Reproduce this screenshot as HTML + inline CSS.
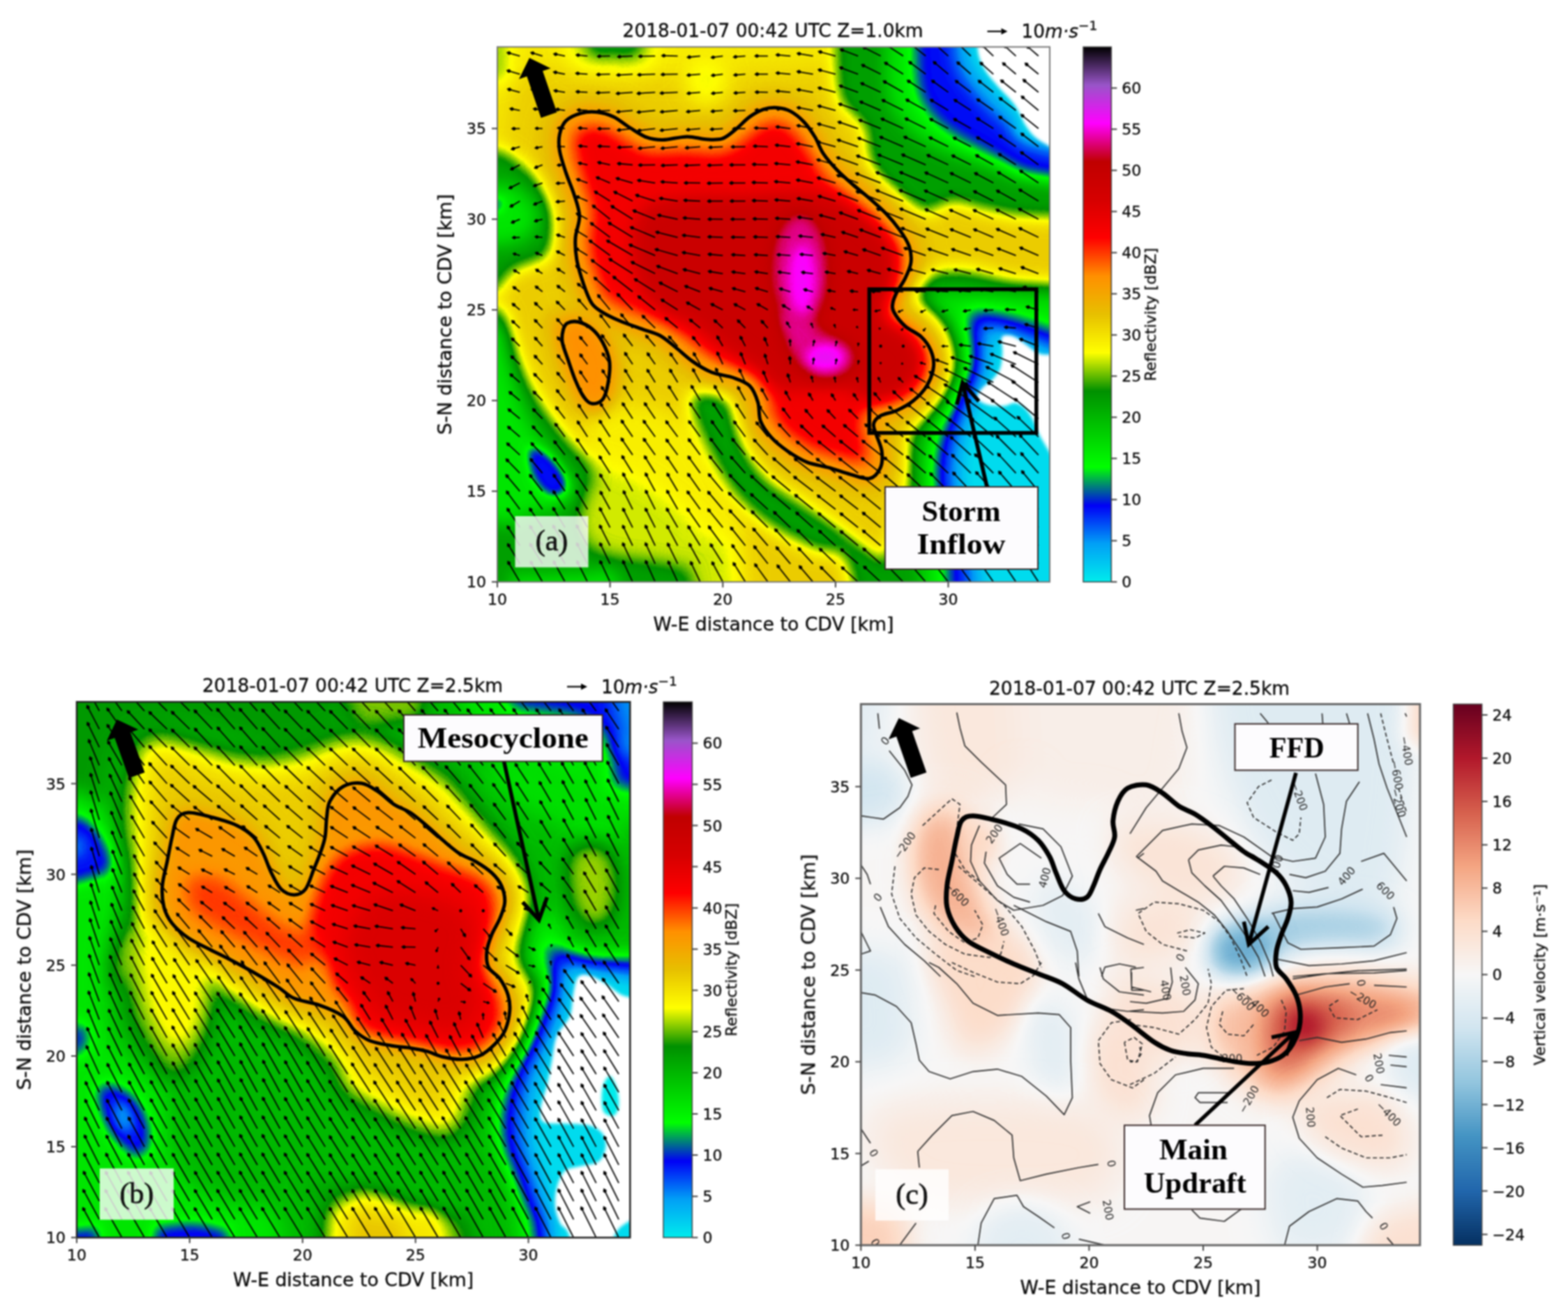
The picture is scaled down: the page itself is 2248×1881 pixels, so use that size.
<!DOCTYPE html>
<html lang="en"><head><meta charset="utf-8"><title>Figure</title>
<style>html,body{margin:0;padding:0;background:#fff}svg{display:block}text{font-family:"DejaVu Sans","Liberation Sans",sans-serif;fill:#0c0c0c;stroke:#0c0c0c;stroke-width:0.35px}.t{font-size:22px}.l{font-size:26.4px}.s{font-family:"Liberation Serif","DejaVu Serif",serif;font-weight:bold;fill:#000;stroke:none}</style></head><body>
<svg width="2248" height="1881" viewBox="0 0 2248 1881">
<defs>
<filter id="nws" color-interpolation-filters="sRGB" x="0" y="0" width="100%" height="100%"><feComponentTransfer><feFuncR type="table" tableValues="0.0000 0.0039 0.0000 0.0000 0.0000 0.0000 1.0000 0.9059 1.0000 1.0000 0.8392 0.7529 1.0000 0.6000 0.0000"/><feFuncG type="table" tableValues="0.9255 0.6275 0.0000 1.0000 0.7843 0.5647 1.0000 0.7529 0.5647 0.0000 0.0000 0.0000 0.0000 0.3333 0.0000"/><feFuncB type="table" tableValues="0.9255 0.9647 0.9647 0.0000 0.0000 0.0000 0.0000 0.0000 0.0000 0.0000 0.0000 0.0000 1.0000 0.7882 0.0000"/></feComponentTransfer></filter>
<filter id="rdbu" color-interpolation-filters="sRGB" x="0" y="0" width="100%" height="100%"><feComponentTransfer><feFuncR type="table" tableValues="0.0196 0.1294 0.2627 0.5725 0.8196 0.9686 0.9922 0.9569 0.8392 0.6980 0.4039"/><feFuncG type="table" tableValues="0.1882 0.4000 0.5765 0.7725 0.8980 0.9686 0.8588 0.6471 0.3765 0.0941 0.0000"/><feFuncB type="table" tableValues="0.3804 0.6745 0.7647 0.8706 0.9412 0.9686 0.7804 0.5098 0.3020 0.1686 0.1216"/></feComponentTransfer></filter>
<linearGradient id="gnws" x1="0" y1="1" x2="0" y2="0"><stop offset="0.0000" stop-color="rgb(0,236,236)"/><stop offset="0.0714" stop-color="rgb(1,160,246)"/><stop offset="0.1429" stop-color="rgb(0,0,246)"/><stop offset="0.2143" stop-color="rgb(0,255,0)"/><stop offset="0.2857" stop-color="rgb(0,200,0)"/><stop offset="0.3571" stop-color="rgb(0,144,0)"/><stop offset="0.4286" stop-color="rgb(255,255,0)"/><stop offset="0.5000" stop-color="rgb(231,192,0)"/><stop offset="0.5714" stop-color="rgb(255,144,0)"/><stop offset="0.6429" stop-color="rgb(255,0,0)"/><stop offset="0.7143" stop-color="rgb(214,0,0)"/><stop offset="0.7857" stop-color="rgb(192,0,0)"/><stop offset="0.8571" stop-color="rgb(255,0,255)"/><stop offset="0.9286" stop-color="rgb(153,85,201)"/><stop offset="1.0000" stop-color="rgb(0,0,0)"/></linearGradient>
<linearGradient id="grdbu" x1="0" y1="1" x2="0" y2="0"><stop offset="0.0000" stop-color="rgb(5,48,97)"/><stop offset="0.1000" stop-color="rgb(33,102,172)"/><stop offset="0.2000" stop-color="rgb(67,147,195)"/><stop offset="0.3000" stop-color="rgb(146,197,222)"/><stop offset="0.4000" stop-color="rgb(209,229,240)"/><stop offset="0.5000" stop-color="rgb(247,247,247)"/><stop offset="0.6000" stop-color="rgb(253,219,199)"/><stop offset="0.7000" stop-color="rgb(244,165,130)"/><stop offset="0.8000" stop-color="rgb(214,96,77)"/><stop offset="0.9000" stop-color="rgb(178,24,43)"/><stop offset="1.0000" stop-color="rgb(103,0,31)"/></linearGradient>
<clipPath id="clipA"><rect x="713" y="67.3" width="792" height="767"/></clipPath>
<clipPath id="clipB"><rect x="110" y="1006.3" width="793.3" height="768"/></clipPath>
<clipPath id="clipC"><rect x="1234.3" y="1009.5" width="801.5" height="775.7"/></clipPath>
<filter id="b2" color-interpolation-filters="sRGB" x="-100%" y="-100%" width="300%" height="300%"><feGaussianBlur stdDeviation="2"/></filter><filter id="b6" color-interpolation-filters="sRGB" x="-100%" y="-100%" width="300%" height="300%"><feGaussianBlur stdDeviation="6"/></filter><filter id="b7" color-interpolation-filters="sRGB" x="-100%" y="-100%" width="300%" height="300%"><feGaussianBlur stdDeviation="7"/></filter><filter id="b8" color-interpolation-filters="sRGB" x="-100%" y="-100%" width="300%" height="300%"><feGaussianBlur stdDeviation="8"/></filter><filter id="b9" color-interpolation-filters="sRGB" x="-100%" y="-100%" width="300%" height="300%"><feGaussianBlur stdDeviation="9"/></filter><filter id="b10" color-interpolation-filters="sRGB" x="-100%" y="-100%" width="300%" height="300%"><feGaussianBlur stdDeviation="10"/></filter><filter id="b11" color-interpolation-filters="sRGB" x="-100%" y="-100%" width="300%" height="300%"><feGaussianBlur stdDeviation="11"/></filter><filter id="b12" color-interpolation-filters="sRGB" x="-100%" y="-100%" width="300%" height="300%"><feGaussianBlur stdDeviation="12"/></filter><filter id="b13" color-interpolation-filters="sRGB" x="-100%" y="-100%" width="300%" height="300%"><feGaussianBlur stdDeviation="13"/></filter><filter id="b14" color-interpolation-filters="sRGB" x="-100%" y="-100%" width="300%" height="300%"><feGaussianBlur stdDeviation="14"/></filter><filter id="b16" color-interpolation-filters="sRGB" x="-100%" y="-100%" width="300%" height="300%"><feGaussianBlur stdDeviation="16"/></filter><filter id="b18" color-interpolation-filters="sRGB" x="-100%" y="-100%" width="300%" height="300%"><feGaussianBlur stdDeviation="18"/></filter><filter id="b20" color-interpolation-filters="sRGB" x="-100%" y="-100%" width="300%" height="300%"><feGaussianBlur stdDeviation="20"/></filter><filter id="b22" color-interpolation-filters="sRGB" x="-100%" y="-100%" width="300%" height="300%"><feGaussianBlur stdDeviation="22"/></filter><filter id="b25" color-interpolation-filters="sRGB" x="-100%" y="-100%" width="300%" height="300%"><feGaussianBlur stdDeviation="25"/></filter>
<filter id="soft" x="0" y="0" width="100%" height="100%" filterUnits="userSpaceOnUse" color-interpolation-filters="sRGB"><feGaussianBlur stdDeviation="1"/></filter>
</defs>
<rect width="2248" height="1881" fill="#fff"/>
<g filter="url(#soft)">
<g clip-path="url(#clipA)">
<g filter="url(#nws)">
<rect x="653" y="7.3" width="912" height="887" fill="#7c7c7c"/>
<g filter="url(#b16)">
<path fill="#747474" d="M630 -20L1216.7 -20C1216.7 -20 1205.8 58.6 1198 78C1190.2 97.4 1194.7 92.4 1170 96.7C1145.3 100.9 1089.5 102.1 1050 103.7C1010.6 105.2 972.2 107.2 933.4 106C894.5 104.8 847.8 96.3 816.7 96.7C785.6 97.1 761.4 96.7 746.7 108.3C731.9 120 733.8 149.2 728 166.7C722.2 184.2 728 205.6 711.7 213.3C695.3 221.1 630 213.3 630 213.3L630 -20Z"/>
</g>
<g filter="url(#b12)">
<path fill="#565656" d="M1196.8 -113.3L1196.8 36C1196.8 36 1195.9 100.2 1198 120C1200.1 139.8 1203.1 144.9 1209.7 155C1216.3 165.1 1232.2 171 1237.7 180.7C1243.1 190.4 1240.4 202.8 1242.3 213.3C1244.3 223.8 1243.5 233.6 1249.3 243.7C1255.2 253.8 1267.2 265.1 1277.3 274C1287.5 283 1300.7 292.1 1310 297.4C1319.4 302.6 1324.4 306.7 1333.4 305.5C1342.3 304.4 1352 291.3 1363.7 290.4C1375.4 289.4 1390.9 297 1403.4 299.7C1415.8 302.4 1426.7 304.7 1438.4 306.7C1450 308.6 1428.6 309 1473.4 311.4C1518.1 313.7 1706.7 320.7 1706.7 320.7L1706.7 -113.3L1196.8 -113.3Z"/>
<path fill="#3f3f3f" d="M1270.3 -113.3L1270.3 36C1270.3 36 1269.2 109.1 1272.7 131.7C1276.2 154.2 1282.8 159.7 1291.3 171.3C1299.9 183 1311.2 193.1 1324 201.7C1336.9 210.2 1351.2 216.1 1368.4 222.7C1385.5 229.3 1409.2 235.9 1426.7 241.3C1444.2 246.8 1426.7 248.3 1473.4 255.4C1520 262.4 1706.7 283.4 1706.7 283.4L1706.7 -113.3L1270.3 -113.3Z"/>
<path fill="#232323" d="M1310 -113.3L1310 36C1310 36 1310.8 100.2 1313.5 120C1316.2 139.8 1319.5 144.1 1326.4 155C1333.2 165.9 1341.9 175.6 1354.4 185.3C1366.8 195.1 1385.9 204.8 1401 213.3C1416.2 221.9 1431 229.7 1445.4 236.7C1459.8 243.7 1443.8 247.6 1487.4 255.4C1530.9 263.1 1706.7 283.4 1706.7 283.4L1706.7 -113.3L1310 -113.3Z"/>
<path fill="#101010" d="M1366 -113.3L1366 36C1366 36 1366.4 78.8 1373 96.7C1379.6 114.6 1393.2 129 1405.7 143.3C1418.1 157.7 1434.5 171.3 1447.7 183C1460.9 194.7 1441.9 200.5 1485 213.3C1528.2 226.2 1706.7 260 1706.7 260L1706.7 -113.3L1366 -113.3Z"/>
</g>
<g filter="url(#b8)">
<path fill="#040404" d="M1389.4 -113.3L1389.4 36C1389.4 36 1388.6 69.8 1394 85C1399.5 100.2 1411.5 113.4 1422 127C1432.5 140.6 1446.9 154.6 1457 166.7C1467.1 178.7 1441.1 186.1 1482.7 199.3C1524.3 212.6 1706.7 246 1706.7 246L1706.7 -113.3L1389.4 -113.3Z"/>
</g>
<g filter="url(#b12)">
<path fill="#565656" d="M1310 407C1314.7 400 1321.7 394.2 1333.4 390.7C1345 387.2 1364.5 385.2 1380 386C1395.6 386.8 1411.1 392.6 1426.7 395.4C1442.3 398.1 1426.7 399.3 1473.4 402.4C1520 405.5 1706.7 414 1706.7 414L1706.7 1046.7L1261 1046.7C1261 1046.7 1261.4 879.5 1263.3 836.7C1265.3 793.9 1268.8 805.6 1272.7 790C1276.6 774.5 1282.4 757 1286.7 743.4C1291 729.7 1296 720 1298.3 708.4C1300.7 696.7 1300.3 685 1300.7 673.4C1301.1 661.7 1299.1 649.2 1300.7 638.3C1302.2 627.5 1305.4 617 1310 608C1314.7 599.1 1322.9 592.5 1328.7 584.7C1334.5 576.9 1340.4 569.1 1345 561.3C1349.7 553.6 1354.2 546.6 1356.7 538C1359.2 529.5 1361 520.5 1360.2 510C1359.4 499.5 1356.5 485.1 1352 475C1347.5 464.9 1341.1 456.4 1333.4 449.3C1325.6 442.3 1309.2 439.7 1305.4 432.7C1301.5 425.6 1305.4 414 1310 407Z"/>
<path fill="#3f3f3f" d="M1333.4 426C1338 421.3 1317.8 417.4 1380 419C1442.3 420.6 1706.7 435.3 1706.7 435.3L1706.7 1046.7L1324 1046.7C1324 1046.7 1321.7 887.3 1321.7 836.7C1321.7 786.1 1324 770.6 1324 743.4C1324 716.1 1321.7 690.9 1321.7 673.4C1321.7 655.9 1322.1 648.5 1324 638.3C1326 628.2 1328.7 621.6 1333.4 612.7C1338 603.7 1346.2 594 1352 584.7C1357.9 575.3 1364.1 566 1368.4 556.7C1372.6 547.3 1376.1 538.4 1377.7 528.7C1379.2 519 1379.2 508.5 1377.7 498.3C1376.1 488.2 1372.6 476.6 1368.4 468C1364.1 459.4 1357.9 454 1352 447C1346.2 440 1328.7 430.7 1333.4 426Z"/>
<path fill="#232323" d="M1391.7 444.7C1402.2 441.9 1428.6 446.6 1450 451.7C1471.4 456.7 1520 475 1520 475L1706.7 510L1706.7 1046.7L1356.7 1046.7C1356.7 1046.7 1357.1 879.5 1356.7 836.7C1356.3 793.9 1355.9 805.6 1354.4 790C1352.8 774.5 1349.7 758.9 1347.4 743.4C1345 727.8 1341.5 710.3 1340.4 696.7C1339.2 683.1 1339.2 673.4 1340.4 661.7C1341.5 650 1343.9 638.3 1347.4 626.7C1350.9 615 1356.7 602.6 1361.4 591.7C1366 580.8 1370.7 571.1 1375.4 561.3C1380 551.6 1386.6 543.8 1389.4 533.3C1392.1 522.8 1392.1 509.2 1391.7 498.3C1391.3 487.4 1387 476.9 1387 468C1387 459.1 1381.2 447.4 1391.7 444.7Z"/>
<path fill="#121212" d="M1408 465.7C1415.4 461.8 1431.4 469.2 1450 475C1468.7 480.8 1520 500.7 1520 500.7L1706.7 533.3L1706.7 1046.7L1387 1046.7C1387 1046.7 1388.2 879.5 1387 836.7C1385.9 793.9 1383.1 805.6 1380 790C1376.9 774.5 1371.5 758.9 1368.4 743.4C1365.2 727.8 1362.5 710.3 1361.4 696.7C1360.2 683.1 1360.2 673.4 1361.4 661.7C1362.5 650 1365.2 638.3 1368.4 626.7C1371.5 615 1376.1 602.6 1380 591.7C1383.9 580.8 1387.8 571.1 1391.7 561.3C1395.6 551.6 1401 543.8 1403.4 533.3C1405.7 522.8 1404.9 509.6 1405.7 498.3C1406.5 487.1 1400.6 469.6 1408 465.7Z"/>
</g>
<g filter="url(#b10)">
<path fill="#040404" d="M1424.4 484.3C1429 481.2 1434.1 481.2 1450 486.7C1466 492.1 1520 517 1520 517L1706.7 556.7L1706.7 1046.7L1410.4 1046.7C1410.4 1046.7 1410 879.5 1408 836.7C1406.1 793.9 1402.2 805.6 1398.7 790C1395.2 774.5 1390.1 758.9 1387 743.4C1383.9 727.8 1381.2 710.3 1380 696.7C1378.9 683.1 1379.2 673.4 1380 661.7C1380.8 650 1382 638.3 1384.7 626.7C1387.4 615 1392.5 602.6 1396.4 591.7C1400.2 580.8 1404.1 571.1 1408 561.3C1411.9 551.6 1417.4 542.7 1419.7 533.3C1422 524 1421.2 513.5 1422 505.3C1422.8 497.2 1419.7 487.4 1424.4 484.3Z"/>
</g>
<g filter="url(#b12)">
<path fill="#565656" d="M630 211C630 211 696.1 211 714 213.3C731.9 215.7 729.6 220 737.3 225C745.1 230.1 753.7 236.7 760.7 243.7C767.7 250.7 773.9 258.5 779.3 267C784.8 275.6 790 284.5 793.3 295C796.6 305.5 799.2 319.1 799.2 330C799.2 340.9 798.2 352.6 793.3 360.4C788.5 368.1 778.6 372.4 770 376.7C761.4 381 749.4 382.1 742 386C734.6 389.9 730.7 394.6 725.7 400C720.6 405.5 727.6 414.8 711.7 418.7C695.7 422.6 630 423.4 630 423.4L630 211Z"/>
<path fill="#3f3f3f" d="M630 260C630 260 705.1 261.2 725.7 264.7C746.3 268.2 746.3 274 753.7 281C761.1 288 769.2 297.4 770 306.7C770.8 316 766.9 329.6 758.3 337C749.8 344.4 740.1 348.3 718.7 351C697.3 353.7 630 353.4 630 353.4L630 260Z"/>
</g>
<g filter="url(#b6)">
<path fill="#2f2f2f" d="M630 274C630 274 702.5 279.9 717.5 283.4C732.5 286.9 720.4 291.5 719.8 295C719.3 298.5 729 302.8 714 304.4C699 305.9 630 304.4 630 304.4L630 274Z"/>
</g>
<g filter="url(#b12)">
<path fill="#666666" d="M630 -20L730.3 -20C730.3 -20 731.5 50.8 730.3 73.3C729.2 95.9 740.1 106 723.3 115.3C706.6 124.7 630 129.3 630 129.3L630 -20Z"/>
</g>
<g filter="url(#b14)">
<path fill="#6a6a6a" d="M802.7 -20L947.4 -20C947.4 -20 947.4 64.4 940.4 85C933.4 105.6 919.7 100.9 905.4 103.7C891 106.4 868.8 104.4 854 101.3C839.2 98.2 825.2 105.2 816.7 85C808.1 64.8 802.7 -20 802.7 -20Z"/>
</g>
<g filter="url(#b10)">
<path fill="#565656" d="M830.7 -20L924 -20C924 -20 924.8 54.7 917 71C909.2 87.3 889.4 78 877.3 78C865.3 78 852.5 87.3 844.7 71C836.9 54.7 830.7 -20 830.7 -20Z"/>
</g>
<g filter="url(#b14)">
<path fill="#6c6c6c" d="M987 96.7C991.3 89.7 1001.8 85 1010.4 85C1018.9 85 1032.9 90.8 1038.4 96.7C1043.8 102.5 1045 112.2 1043 120C1041.1 127.8 1033.3 138.7 1026.7 143.3C1020.1 148 1010.4 150.7 1003.4 148C996.4 145.3 987.4 135.6 984.7 127C982 118.5 982.7 103.7 987 96.7Z"/>
</g>
<g filter="url(#b16)">
<path fill="#727272" d="M840 603.3C849.7 587.8 886.7 580 910 580C933.4 580 962.5 591.7 980 603.3C997.5 615 1005.3 632.5 1015 650C1024.7 667.5 1030.6 688.9 1038.4 708.4C1046.1 727.8 1055.9 710.3 1061.7 766.7C1067.5 823.1 1073.4 1046.7 1073.4 1046.7L933.4 1046.7C933.4 1046.7 900.3 828.9 886.7 766.7C873.1 704.5 859.5 700.6 851.7 673.4C843.9 646.1 830.3 618.9 840 603.3Z"/>
</g>
<g filter="url(#b14)">
<path fill="#6a6a6a" d="M840 661.7C882.8 665.6 871.1 667.5 886.7 673.4C902.2 679.2 917.8 687 933.4 696.7C948.9 706.4 966.4 720 980 731.7C993.6 743.4 1003.4 757 1015 766.7C1026.7 776.4 1040.3 743.4 1050 790C1059.8 836.7 1073.4 1046.7 1073.4 1046.7L630 1046.7L630 650C630 650 797.2 657.8 840 661.7Z"/>
</g>
<g filter="url(#b12)">
<path fill="#565656" d="M630 428.3C630 428.3 699.2 432.2 716.3 440C733.4 447.8 727.2 461.4 732.7 475C738.1 488.6 743.2 507.3 749 521.7C754.8 536.1 759.9 547.7 767.7 561.3C775.5 575 786.3 590.5 795.7 603.3C805 616.2 815.5 628.2 823.7 638.3C831.8 648.5 840.4 655.9 844.7 664C849 672.2 850.1 680 849.3 687.4C848.6 694.7 843.1 699 840 708.4C836.9 717.7 830.7 731.7 830.7 743.4C830.7 755 832.6 769.4 840 778.4C847.4 787.3 861.4 792.8 875 797C888.6 801.3 906.1 801.3 921.7 804C937.2 806.8 956.7 807.9 968.4 813.4C980 818.8 985.9 797.8 991.7 836.7C997.5 875.6 1003.4 1046.7 1003.4 1046.7L630 1046.7L630 428.3Z"/>
<path fill="#3f3f3f" d="M630 463.3C630 463.3 698.1 460.2 714 468C729.9 475.8 721.4 495.2 725.7 510C729.9 524.8 734.2 541.1 739.7 556.7C745.1 572.2 751.3 589.7 758.3 603.3C765.3 617 773.9 626.7 781.7 638.3C789.5 650 798.4 663.6 805 673.4C811.6 683.1 819.4 689.7 821.3 696.7C823.3 703.7 821.3 709.5 816.7 715.4C812 721.2 805 727 793.3 731.7C781.7 736.4 758.3 733.6 746.7 743.4C735 753.1 725.3 777.6 723.3 790C721.4 802.5 727.2 812.2 735 818C742.8 823.9 752.5 824.3 770 825C787.5 825.8 820.6 820.8 840 822.7C859.5 824.6 875 799.4 886.7 836.7C898.3 874 910 1046.7 910 1046.7L630 1046.7L630 463.3Z"/>
<path fill="#565656" d="M630 743.4C630 743.4 701.9 744.5 723.3 750.4C744.7 756.2 746.7 769.4 758.3 778.4C770 787.3 779.7 800.9 793.3 804C807 807.1 828.3 797 840 797C851.7 797 867.2 800.5 863.3 804C859.5 807.5 832.2 816.5 816.7 818C801.1 819.6 783.6 812.2 770 813.4C756.4 814.5 742.8 786.1 735 825C727.2 863.9 723.3 1046.7 723.3 1046.7L630 1046.7L630 743.4Z"/>
</g>
<g filter="url(#b7)">
<path fill="#232323" d="M758.3 643C761.1 638.3 770.4 641.8 777 645.4C783.6 648.9 792.2 657 798 664C803.8 671 810.1 680.4 812 687.4C814 694.4 813.2 702.1 809.7 706C806.2 709.9 797.2 712.2 791 710.7C784.8 709.1 777.4 702.9 772.3 696.7C767.3 690.5 763 682.3 760.7 673.4C758.3 664.4 755.6 647.7 758.3 643Z"/>
</g>
<g filter="url(#b12)">
<path fill="#565656" d="M989.4 570.7C990.9 564.1 997.1 561.3 1003.4 559C1009.6 556.7 1019.3 554.7 1026.7 556.7C1034.1 558.6 1042.6 562.9 1047.7 570.7C1052.8 578.5 1053.5 591.7 1057 603.3C1060.5 615 1064 629.8 1068.7 640.7C1073.4 651.6 1078.8 660.1 1085 668.7C1091.3 677.2 1097.7 685 1106 692C1114.4 699 1122.4 702.5 1135 710.7C1147.6 718.9 1167.3 731.3 1181.7 741C1196.1 750.7 1207.7 758.9 1221.3 769C1235 779.1 1250.5 790.4 1263.3 801.7C1276.2 813 1290.6 795.9 1298.3 836.7C1306.1 877.5 1310 1046.7 1310 1046.7L1240 1046.7C1240 1046.7 1228.3 860.8 1216.7 818C1205 775.2 1185.6 798.6 1170 790C1154.4 781.5 1137.5 774.9 1123.3 766.7C1109.2 758.5 1097.2 751.1 1085 741C1072.8 730.9 1059.8 718.1 1050 706C1040.3 694 1033.7 681.1 1026.7 668.7C1019.7 656.2 1013.5 643 1008 631.3C1002.6 619.7 997.1 608.8 994 598.7C990.9 588.6 987.8 577.3 989.4 570.7Z"/>
<path fill="#898989" d="M788.7 451.7C797.2 443.5 828.3 441.6 844.7 449.3C861 457.1 879.7 480.4 886.7 498.3C893.7 516.2 890.6 541.1 886.7 556.7C882.8 572.2 872.7 586.2 863.3 591.7C854 597.1 840 597.1 830.7 589.3C821.3 581.6 813.6 560.2 807.3 545C801.1 529.8 796.5 513.9 793.3 498.3C790.2 482.8 780.1 459.8 788.7 451.7Z"/>
</g>
<g filter="url(#b14)">
<path fill="#858585" d="M780.8 187.9L781.6 224.7L808.6 308.5L802.8 344L806.1 380.9L821.7 430.6L835.3 453.7L868.5 475.2L935.6 500.4L1002.7 549.9L1058.9 568.5L1069.4 610.4L1079.2 629.1L1100 652L1135.3 676.6L1236.9 707.8L1253.6 706.9L1269.4 697.8L1282 680.1L1286.6 661.2L1285.4 640.1L1276.5 614.3L1312.4 599.2L1341.6 573.1L1358.4 538.5L1359.4 509L1344.1 475.8L1301.6 438.1L1327.7 380L1327.2 357.2L1318.6 333.7L1285.8 290.6L1206.1 217.7L1168.7 159.8L1139.3 138L1104.6 132.6L1070.6 143.8L1028.6 177.8L985.7 173.9L944.7 178.5L930.9 174.5L881.9 144.5L842.5 138.5L819.8 143.4L800.5 153.6L787.5 168.8Z"/>
</g>
<g filter="url(#b9)">
<path fill="#919191" d="M798.4 191.9L800 224.4L826.5 306.5L820.8 344.8L823.8 377.4L837 420.4L848.8 441.8L879.2 460.3L944.1 484.5L987.4 519.1L1011.1 534L1050.2 545.3L1070.1 554.3L1080.7 571.6L1085.7 601.9L1093.7 618.4L1111.6 638.3L1140.6 658.9L1159.4 667.7L1236.5 689.4L1247.5 689.9L1256.8 684.9L1266 671.8L1268.8 656.2L1257.3 606.4L1266.1 598.7L1302.7 584.1L1322.7 567.5L1338.8 541L1342.4 526.2L1341.8 512.8L1330.2 487.3L1297.8 462.2L1283.6 441.7L1286.4 427.1L1309.5 379.9L1309.5 360.8L1302.8 342.2L1272.9 303.2L1194.9 232.2L1155.9 172.5L1132.5 154.7L1103.8 150.7L1077.6 160.7L1043.4 189.6L1032.2 195.5L985.2 191.9L943.5 196.4L922.5 190.4L878.2 162.3L844.2 156.4L825.7 160.4L811 168.2L803.1 177.8Z"/>
<path fill="#919191" d="M811.9 460.7L805.4 469.1L802.8 488.2L819.6 539.9L838.6 576.2L846.1 581.2L857.5 580.6L867.9 572.4L874.1 553.3L877.2 525.7L872.8 502.6L861.2 480.7L847.8 467L829.4 458.5Z"/>
</g>
<g filter="url(#b11)">
<path fill="#a9a9a9" d="M823.9 197.2L826.1 221.4L852.3 302.6L846.9 342.9L848.6 368.5L867.7 423.8L896 439.3L957 462L1022.9 510.8L1082.7 531.4L1102.2 555.3L1112.7 599.7L1131 620.6L1164.9 642.1L1240.9 663.7L1242.2 648.8L1230.5 612.8L1234.6 593.6L1250.5 577.6L1297.4 555.8L1309.8 541.9L1316.7 522L1309.8 503.4L1276.8 477.8L1259 450.1L1260.2 422.7L1284.4 370.4L1280 354.8L1259 326.4L1181.1 255.8L1140.1 193.9L1119.7 177.6L1096.8 179.6L1052.9 214.6L1028.3 222.2L985.4 217.9L930.4 220.8L909.9 213.2L870 187.2L853.8 182.6L830.7 186.4Z"/>
</g>
<g filter="url(#b14)">
<path fill="#c0c0c0" d="M933.4 295C948.1 289.2 980 285.3 1003.4 283.4C1026.7 281.4 1053.4 284.1 1073.4 283.4C1093.4 282.6 1105.3 278.7 1123.3 278.7C1141.4 278.7 1164.2 278.7 1181.7 283.4C1199.2 288 1214 297 1228.3 306.7C1242.7 316.4 1259.1 330 1268 341.7C1277 353.4 1280.5 364.6 1282 376.7C1283.6 388.7 1280.5 402.4 1277.3 414C1274.2 425.7 1264.9 438.5 1263.3 446.7C1261.8 454.9 1262.2 458.6 1268 463.3C1273.8 468.1 1290.2 468.8 1298.3 475C1306.5 481.2 1313.5 491.7 1317 500.7C1320.5 509.6 1321.3 520.1 1319.4 528.7C1317.4 537.2 1311.6 545.8 1305.4 552C1299.1 558.2 1291 562.9 1282 566C1273.1 569.1 1262.6 572.2 1251.7 570.7C1240.8 569.1 1228.3 559.8 1216.7 556.7C1205 553.6 1193.3 552 1181.7 552C1170 552 1158.3 556.7 1146.7 556.7C1135 556.7 1120 555.9 1111.7 552C1103.3 548.1 1105 540.3 1096.7 533.3C1088.4 526.3 1073.4 517.8 1061.7 510C1050 502.2 1038.4 495.2 1026.7 486.7C1015 478.1 1003.4 465.3 991.7 458.7C980 452 968.4 454.5 956.7 446.7C945 438.9 929.5 427.3 921.7 411.7C913.9 396.1 911.2 368.9 910 353.4C908.9 337.8 910.8 328.1 914.7 318.4C918.6 308.6 918.6 300.9 933.4 295Z"/>
</g>
<g filter="url(#b11)">
<path fill="#d2d2d2" d="M1189 388C1189 404.5 1185.8 424.1 1181 437.4C1176.1 450.7 1167.8 462.8 1160 467.9C1152.2 473 1141.8 473 1134 467.9C1126.2 462.8 1117.9 450.7 1113 437.4C1108.2 424.1 1105 404.5 1105 388C1105 371.5 1108.2 351.9 1113 338.6C1117.9 325.3 1126.2 313.2 1134 308.1C1141.8 303 1152.2 303 1160 308.1C1167.8 313.2 1176.1 325.3 1181 338.6C1185.8 351.9 1189 371.5 1189 388Z"/>
</g>
<g filter="url(#b10)">
<path fill="#d2d2d2" d="M1150 440C1159.5 443.3 1164.2 461.7 1175 470C1185.8 478.3 1206.2 482.5 1215 490C1223.8 497.5 1228.8 506.7 1228 515C1227.2 523.3 1218.8 535 1210 540C1201.2 545 1185.8 547.5 1175 545C1164.2 542.5 1153.3 534.2 1145 525C1136.7 515.8 1129.5 502.5 1125 490C1120.5 477.5 1113.8 458.3 1118 450C1122.2 441.7 1140.5 436.7 1150 440Z"/>
</g>
<g filter="url(#b9)">
<path fill="#dcdcdc" d="M1168 400C1168 409.8 1166.6 421.5 1164.6 429.4C1162.5 437.3 1158.9 444.5 1155.6 447.6C1152.2 450.6 1147.8 450.6 1144.4 447.6C1141.1 444.5 1137.5 437.3 1135.4 429.4C1133.4 421.5 1132 409.8 1132 400C1132 390.2 1133.4 378.5 1135.4 370.6C1137.5 362.7 1141.1 355.5 1144.4 352.4C1147.8 349.4 1152.2 349.4 1155.6 352.4C1158.9 355.5 1162.5 362.7 1164.6 370.6C1166.6 378.5 1168 390.2 1168 400Z"/>
</g>
<g filter="url(#b8)">
<path fill="#dedede" d="M1209 512C1209 515.3 1207 519.3 1204 522C1201 524.7 1195.9 527.1 1191 528.2C1186.2 529.2 1179.8 529.2 1175 528.2C1170.1 527.1 1165 524.7 1162 522C1159 519.3 1157 515.3 1157 512C1157 508.7 1159 504.7 1162 502C1165 499.3 1170.1 496.9 1175 495.8C1179.8 494.8 1186.2 494.8 1191 495.8C1195.9 496.9 1201 499.3 1204 502C1207 504.7 1209 508.7 1209 512Z"/>
</g>
</g>
<g filter="url(#b2)" fill="#fff">
<path d="M1401 -20L1401 59.3C1401 59.3 1401.4 73.3 1403.4 80.3C1405.3 87.3 1408 93.9 1412.7 101.3C1417.4 108.7 1424.4 116.5 1431.4 124.7C1438.4 132.8 1448.1 141 1454.7 150.3C1461.3 159.7 1465.6 172.5 1471 180.7C1476.5 188.8 1479.2 193.1 1487.4 199.3C1495.5 205.6 1520 218 1520 218L1520 -20L1401 -20Z"/>
<path d="M1436 484.3C1434.7 488.4 1437.6 497.9 1437.2 505.3C1436.8 512.7 1436.2 522.1 1433.7 528.7C1431.2 535.3 1426.3 540.3 1422 545C1417.7 549.7 1411.5 552.4 1408 556.7C1404.5 561 1399.9 566.8 1401 570.7C1402.2 574.6 1408.8 578.1 1415 580C1421.2 582 1431.7 582.7 1438.4 582.3C1445 582 1449.6 577.3 1454.7 577.7C1459.8 578.1 1464.4 580.8 1468.7 584.7C1473 588.6 1476.5 594 1480.4 601C1484.3 608 1485.4 614.6 1492 626.7C1498.6 638.7 1520 673.4 1520 673.4L1520 507.7C1520 507.7 1499.8 509.6 1492 507.7C1484.3 505.7 1479.2 499.9 1473.4 496C1467.5 492.1 1461.7 486.9 1457 484.3C1452.4 481.8 1448.9 480.8 1445.4 480.8C1441.9 480.8 1437.4 480.3 1436 484.3Z"/>
</g>
</g>
<g clip-path="url(#clipA)"><path d="M713 834.3L699.1 810.9M745.3 834.3L731.5 810.7M777.7 834.3L763.8 810.4M810 834.3L796.7 810.1M842.3 834.3L830 810M874.6 834.3L863.1 809.9M907 834.3L895.7 809.8M939.3 834.3L928.2 809.8M971.6 834.3L960.6 810.5M1003.9 834.3L992.9 811.3M1036.3 834.3L1024 811.5M1068.6 834.3L1054.8 812.2M1100.9 834.3L1086 813.8M1133.2 834.3L1118.2 815.4M1165.6 834.3L1150.2 816.4M1197.9 834.3L1180.7 817M1230.2 834.3L1211.4 817.3M1262.6 834.3L1243.1 816.3M1294.9 834.3L1275.5 814.6M1327.2 834.3L1308.2 812.6M1359.5 834.3L1341 810.8M1391.9 834.3L1373.8 809.7M1424.2 834.3L1406.5 809.1M1456.5 834.3L1439.1 808.6M1488.8 834.3L1471.7 808M713 808.3L698.9 785.5M745.3 808.3L731.3 785.2M777.7 808.3L763.2 784.9M810 808.3L796.1 784.3M842.3 808.3L829.8 784.3M874.6 808.3L863 784.4M907 808.3L895.5 784.4M939.3 808.3L928 784.2M971.6 808.3L960 784.7M1003.9 808.3L991.3 785.1M1036.3 808.3L1022 785.4M1068.6 808.3L1053.2 786.4M1100.9 808.3L1084.9 787.8M1133.2 808.3L1116.9 789.2M1165.6 808.3L1148.8 790.2M1197.9 808.3L1179.7 790.9M1230.2 808.3L1210.5 791.2M1262.6 808.3L1242.2 790.4M1294.9 808.3L1274.8 788.7M1327.2 808.3L1307.6 786.6M1359.5 808.3L1340.5 784.8M1391.9 808.3L1373.3 783.9M1424.2 808.3L1406 783.5M1456.5 808.3L1438.6 783.1M1488.8 808.3L1471.2 782.5M713 782.3L698.6 760.1M745.3 782.3L731 759.8M777.7 782.3L763.1 759.3M810 782.3L796 758.7M842.3 782.3L829.5 758.6M874.6 782.3L862.7 758.9M907 782.3L895.6 759.1M939.3 782.3L928 759M971.6 782.3L959.4 759.4M1003.9 782.3L989.8 759.5M1036.3 782.3L1019.7 759.6M1068.6 782.3L1051.5 760.9M1100.9 782.3L1083.7 762.3M1133.2 782.3L1115.4 763.3M1165.6 782.3L1147.4 764.1M1197.9 782.3L1178.7 764.9M1230.2 782.3L1209.7 765.3M1262.6 782.3L1241.7 764.5M1294.9 782.3L1274.3 762.9M1327.2 782.3L1307.1 760.9M1359.5 782.3L1340 759.3M1391.9 782.3L1372.8 758.4M1424.2 782.3L1405.5 758.1M1456.5 782.3L1438.1 757.8M1488.8 782.3L1470.7 757.2M713 756.3L698 734.9M745.3 756.3L730.8 734.5M777.7 756.3L763 734.2M810 756.3L796.1 733.4M842.3 756.3L829.5 733.3M874.6 756.3L862.8 733.9M907 756.3L895.9 734.6M939.3 756.3L928.2 734.5M971.6 756.3L958.9 734.4M1003.9 756.3L988.9 734.4M1036.3 756.3L1018.9 734.7M1068.6 756.3L1049.9 735.9M1100.9 756.3L1082 737.3M1133.2 756.3L1113.9 738M1165.6 756.3L1146 738.8M1197.9 756.3L1178 739.5M1230.2 756.3L1209.6 739.7M1262.6 756.3L1241.6 738.8M1294.9 756.3L1274 737.2M1327.2 756.3L1306.7 735.3M1359.5 756.3L1339.5 733.8M1391.9 756.3L1372.2 733M1424.2 756.3L1404.9 732.7M1456.5 756.3L1437.5 732.4M1488.8 756.3L1470.2 731.7M713 730.3L697.2 710.1M745.3 730.3L730 709.5M777.7 730.3L763 709.4M810 730.3L796.6 709.3M842.3 730.3L829.3 708.8M874.6 730.3L863.7 710.3M907 730.3L896.7 709.6M939.3 730.3L928.5 708.8M971.6 730.3L959.3 708.8M1003.9 730.3L989 709.4M1036.3 730.3L1019 709.7M1068.6 730.3L1049 710.8M1100.9 730.3L1081 712.2M1133.2 730.3L1112.5 712.6M1165.6 730.3L1144.6 713.3M1197.9 730.3L1177 714M1230.2 730.3L1209.2 714M1262.6 730.3L1241.2 712.9M1294.9 730.3L1273.5 711.3M1327.2 730.3L1306.2 709.7M1359.5 730.3L1338.9 708.2M1391.9 730.3L1371.6 707.5M1424.2 730.3L1404.3 707.1M1456.5 730.3L1437 706.7M1488.8 730.3L1469.6 706M713 704.3L696.5 686.1M745.3 704.3L729.6 685.6M777.7 704.3L763.3 685.7M810 704.3L797.1 685.6M842.3 704.3L829.5 684.9M874.6 704.3L863.4 685.4M907 704.3L896.1 684.1M939.3 704.3L928.4 684.1M971.6 704.3L959.8 684.2M1003.9 704.3L989.9 684.3M1036.3 704.3L1019.8 684.4M1068.6 704.3L1050.1 685.1M1100.9 704.3L1081 686.1M1133.2 704.3L1112 686.7M1165.6 704.3L1143.3 687.2M1197.9 704.3L1175.6 687.5M1230.2 704.3L1207.9 687.3M1262.6 704.3L1240.4 686.6M1294.9 704.3L1272.9 685.5M1327.2 704.3L1305.4 684M1359.5 704.3L1337.9 682.7M1391.9 704.3L1370.6 681.9M1424.2 704.3L1403.3 681.4M1456.5 704.3L1436.2 680.8M1488.8 704.3L1468.9 680.1M713 678.3L696.6 662.8M745.3 678.3L730.2 662.9M777.7 678.3L764.5 662.6M810 678.3L797.7 661.7M842.3 678.3L830.1 660.5M874.6 678.3L862.7 659.4M907 678.3L895.1 659M939.3 678.3L927.4 659.2M971.6 678.3L959.3 659.8M1003.9 678.3L990.4 659.5M1036.3 678.3L1021.1 658.9M1068.6 678.3L1051.7 659.2M1100.9 678.3L1082.5 660M1133.2 678.3L1113.1 660.8M1165.6 678.3L1143.9 661.3M1197.9 678.3L1175.7 661.4M1230.2 678.3L1208 661M1262.6 678.3L1240.1 660.5M1294.9 678.3L1272.4 659.8M1327.2 678.3L1304.6 658.5M1359.5 678.3L1336.8 657.2M1391.9 678.3L1369.2 656.2M1424.2 678.3L1402 655.6M1456.5 678.3L1435 655M1488.8 678.3L1467.8 654.1M713 652.3L697.3 639.3M745.3 652.3L731.5 639.7M777.7 652.3L765.9 639.7M810 652.3L798.3 637.3M842.3 652.3L830.3 634.5M874.6 652.3L862.1 633.7M907 652.3L894.3 633.7M939.3 652.3L926.3 634M971.6 652.3L958.9 635M1003.9 652.3L990.8 634.4M1036.3 652.3L1022.2 633.7M1068.6 652.3L1053.6 633.8M1100.9 652.3L1084.8 634.6M1133.2 652.3L1116 636M1165.6 652.3L1146.9 636.9M1197.9 652.3L1178 636.6M1230.2 652.3L1209 635.6M1262.6 652.3L1241.2 635.5M1294.9 652.3L1272.9 634.9M1327.2 652.3L1304.2 633.3M1359.5 652.3L1335.6 631.6M1391.9 652.3L1367.4 630.4M1424.2 652.3L1400 629.7M1456.5 652.3L1433.1 629M1488.8 652.3L1466.1 628.1M713 626.3L698.4 615.1M745.3 626.3L732.9 615.6M777.7 626.3L767.7 615.6M810 626.3L799.6 612.3M842.3 626.3L831.4 609.3M874.6 626.3L862.9 608.1M907 626.3L894.5 607.9M939.3 626.3L926.2 608.1M971.6 626.3L958.6 608.7M1003.9 626.3L991.2 608.7M1036.3 626.3L1023.7 608.6M1068.6 626.3L1056 609M1100.9 626.3L1088.1 610.1M1133.2 626.3L1120.6 612.6M1165.6 626.3L1152.5 614M1197.9 626.3L1183.6 613.9M1230.2 626.3L1214.5 613.1M1262.6 626.3L1245.2 612.2M1294.9 626.3L1275.2 610.8M1327.2 626.3L1304.7 608.3M1359.5 626.3L1334.3 606M1391.9 626.3L1365 604.5M1424.2 626.3L1397.1 603.6M1456.5 626.3L1430.1 602.8M1488.8 626.3L1463.2 601.8M713 600.3L699.4 590.4M745.3 600.3L733.6 590.7M777.7 600.3L768.4 590.8M810 600.3L800.9 588.5M842.3 600.3L832.7 585.5M874.6 600.3L864.3 583.7M907 600.3L895.8 583.1M939.3 600.3L927.6 583M971.6 600.3L959.8 583.1M1003.9 600.3L992.5 583.1M1036.3 600.3L1025.5 583.5M1068.6 600.3L1058.7 584.8M1100.9 600.3L1092 587M1133.2 600.3L1125.7 590.3M1165.6 600.3L1158.6 592.1M1197.9 600.3L1190.4 592.3M1230.2 600.3L1221.5 591.6M1262.6 600.3L1251.1 589.8M1294.9 600.3L1279.2 587.1M1327.2 600.3L1306.2 583.7M1359.5 600.3L1333.4 580.8M1391.9 600.3L1362.1 578.8M1424.2 600.3L1393 577.7M1456.5 600.3L1426.2 576.9M1488.8 600.3L1459.6 575.6M713 574.3L701 565.6M745.3 574.3L735 565.8M777.7 574.3L769.2 565.7M810 574.3L801.9 564M842.3 574.3L833.9 561.5M874.6 574.3L865.8 559.8M907 574.3L897.6 559.1M939.3 574.3L929.6 558.8M971.6 574.3L961.8 558.6M1003.9 574.3L994.4 558.3M1036.3 574.3L1027.3 558.4M1068.6 574.3L1060.8 560M1100.9 574.3L1094.7 562.8M1133.2 574.3L1129 566.6M1165.6 574.3L1162.7 569.3M1197.9 574.3L1195.4 570.2M1230.2 574.3L1227.1 569.8M1262.6 574.3L1257.3 568M1294.9 574.3L1285 565.1M1327.2 574.3L1309.7 560.9M1359.5 574.3L1333.6 556.9M1391.9 574.3L1359.2 554.1M1424.2 574.3L1388.4 552.5M1456.5 574.3L1421.2 551.3M1488.8 574.3L1455.9 550M713 548.3L702.6 540.5M745.3 548.3L736.4 540.5M777.7 548.3L769.9 540.2M810 548.3L802.7 539M842.3 548.3L834.8 537.2M874.6 548.3L866.9 535.9M907 548.3L899 535.3M939.3 548.3L931.2 535.2M971.6 548.3L963.7 535.1M1003.9 548.3L996.2 534.4M1036.3 548.3L1029.1 533.9M1068.6 548.3L1062.6 535.3M1100.9 548.3L1096.5 538M1133.2 548.3L1131.2 542.2M1165.6 548.3L1164.6 544.4M1197.9 548.3L1197.2 544.7M1230.2 548.3L1229.4 545M1262.6 548.3L1261 545.1M1294.9 548.3L1291.9 545.4M1327.2 548.3L1316.6 541.9M1359.5 548.3L1337.8 536.1M1391.9 548.3L1360.2 532.3M1424.2 548.3L1387.8 530.4M1456.5 548.3L1419.6 528.8M1488.8 548.3L1455.1 526.6M713 522.3L703.9 515.2M745.3 522.3L737.4 514.9M777.7 522.3L770.5 514.4M810 522.3L803.2 513.9M842.3 522.3L835.4 513M874.6 522.3L867.3 511.6M907 522.3L899.4 510.9M939.3 522.3L931.7 511.4M971.6 522.3L964.4 511.7M1003.9 522.3L997.5 511.4M1036.3 522.3L1030.9 510.9M1068.6 522.3L1064.2 511.6M1100.9 522.3L1098.3 514.2M1133.2 522.3L1132.8 517.7M1165.6 522.3L1166.1 518.4M1197.9 522.3L1198.6 518.8M1230.2 522.3L1230.6 519.5M1262.6 522.3L1262.5 520.3M1294.9 522.3L1293.3 521.2M1327.2 522.3L1323.7 521.2M1359.5 522.3L1347.6 517.8M1391.9 522.3L1369.7 514.3M1424.2 522.3L1395.9 512.4M1456.5 522.3L1426 509.7M1488.8 522.3L1458.9 507.4M713 496.3L705.1 490M745.3 496.3L738.1 489.3M777.7 496.3L770.8 488.6M810 496.3L803.2 488.3M842.3 496.3L835.3 487.6M874.6 496.3L866.5 485.3M907 496.3L897.9 484.4M939.3 496.3L930.2 485.7M971.6 496.3L963 486.8M1003.9 496.3L997.1 487.8M1036.3 496.3L1031.3 487.6M1068.6 496.3L1064.3 488M1100.9 496.3L1098.3 490M1133.2 496.3L1132.9 492.2M1165.6 496.3L1166.4 492.5M1197.9 496.3L1198.6 492.9M1230.2 496.3L1230.5 493.8M1327.2 496.3L1325.1 497.1M1359.5 496.3L1355.6 496.3M1391.9 496.3L1381.8 495.1M1424.2 496.3L1408.1 493.5M1456.5 496.3L1437.3 491.3M1488.8 496.3L1468 488.2M713 470.3L706 465M745.3 470.3L738.7 464.1M777.7 470.3L770.8 463.1M810 470.3L802.6 461.9M842.3 470.3L833.9 459.8M874.6 470.3L864.2 456.3M907 470.3L894.3 455.1M939.3 470.3L925.5 456.9M971.6 470.3L958.7 459.7M1003.9 470.3L993.8 462.1M1036.3 470.3L1028.6 463.2M1068.6 470.3L1061.9 463.5M1100.9 470.3L1095.8 464.6M1133.2 470.3L1130.9 466.7M1165.6 470.3L1164.4 467.1M1197.9 470.3L1196.9 467.7M1230.2 470.3L1228.7 468.9M1262.6 470.3L1260.9 471.1M1294.9 470.3L1293.5 472.3M1327.2 470.3L1325.4 472.4M1359.5 470.3L1356.7 471.8M1391.9 470.3L1387.8 471.1M1424.2 470.3L1417 470.7M1456.5 470.3L1446.7 469.5M1488.8 470.3L1475.6 466.5M713 444.3L707.1 440.2M745.3 444.3L739.5 439.4M777.7 444.3L771.3 438.3M810 444.3L802.4 436.6M842.3 444.3L833 433.7M874.6 444.3L861.1 427.7M907 444.3L889.4 425.9M939.3 444.3L919.8 428.6M971.6 444.3L953.4 432.8M1003.9 444.3L990 436.6M1036.3 444.3L1025.2 438.6M1068.6 444.3L1058.2 438.8M1100.9 444.3L1091.1 438.8M1133.2 444.3L1127 440.5M1165.6 444.3L1161.9 442.1M1197.9 444.3L1194.7 442.9M1230.2 444.3L1226.9 444.2M1262.6 444.3L1258.9 445.2M1294.9 444.3L1291.6 445.7M1327.2 444.3L1323.9 445.8M1359.5 444.3L1355.6 445.4M1391.9 444.3L1387.5 445.2M1424.2 444.3L1417.3 444.7M1456.5 444.3L1448 443.9M1488.8 444.3L1477.7 441.3M713 418.3L708.4 415.6M745.3 418.3L740.9 415M777.7 418.3L772.7 414.3M810 418.3L803.9 413.4M842.3 418.3L833 410.7M874.6 418.3L856.7 402.1M907 418.3L884.1 400.5M939.3 418.3L915.3 403.3M971.6 418.3L951 407.9M1003.9 418.3L987.9 412.2M1036.3 418.3L1023 414.7M1068.6 418.3L1056.3 414.9M1100.9 418.3L1089.3 414.8M1133.2 418.3L1123.8 415.5M1165.6 418.3L1158.7 416.5M1197.9 418.3L1193 417.4M1230.2 418.3L1225.4 417.8M1262.6 418.3L1256.2 418M1294.9 418.3L1288 418.1M1327.2 418.3L1318.5 417.8M1359.5 418.3L1348.6 417.4M1391.9 418.3L1380.4 417.1M1424.2 418.3L1411.1 416.2M1456.5 418.3L1442.9 415.4M1488.8 418.3L1473.3 413.2M713 392.3L708.9 390.7M745.3 392.3L741.5 390.1M777.7 392.3L773.7 389.8M810 392.3L804.1 388.6M842.3 392.3L831 384.5M874.6 392.3L853 376.4M907 392.3L878.8 374.5M939.3 392.3L910.9 378.3M971.6 392.3L947.7 383.5M1003.9 392.3L985.8 387.7M1036.3 392.3L1022 390M1068.6 392.3L1055.8 390.6M1100.9 392.3L1088.7 390.5M1133.2 392.3L1122 390.7M1165.6 392.3L1155.7 391.1M1197.9 392.3L1189.5 390.9M1230.2 392.3L1221.3 390.2M1262.6 392.3L1249.7 388.8M1294.9 392.3L1278.6 387.4M1327.2 392.3L1309.5 387.5M1359.5 392.3L1341.7 387.9M1391.9 392.3L1374.2 387.9M1424.2 392.3L1406.4 387.4M1456.5 392.3L1438.4 386.6M1488.8 392.3L1470.1 385.2M713 366.3L708.7 365.7M745.3 366.3L741.3 365.1M777.7 366.3L773.5 364.6M810 366.3L803.8 363.1M842.3 366.3L830.9 359.3M874.6 366.3L850 348.3M907 366.3L875.5 347.9M939.3 366.3L908.1 353.2M971.6 366.3L945.6 359M1003.9 366.3L984.7 362.9M1036.3 366.3L1021.8 365M1068.6 366.3L1055.5 365.5M1100.9 366.3L1088 365.5M1133.2 366.3L1120.6 365.4M1165.6 366.3L1153.6 365.2M1197.9 366.3L1186.3 364.2M1230.2 366.3L1216.5 362.3M1262.6 366.3L1243.1 359.5M1294.9 366.3L1269.9 357.3M1327.2 366.3L1302.4 357.6M1359.5 366.3L1336.8 358.6M1391.9 366.3L1370.6 359.1M1424.2 366.3L1403.6 359M1456.5 366.3L1436 358.4M1488.8 366.3L1468.1 357.4M713 340.3L708 341.1M745.3 340.3L740.9 340.5M777.7 340.3L773.3 339.9M810 340.3L804.3 338.5M842.3 340.3L830.3 332.9M874.6 340.3L851.9 323.4M907 340.3L877.6 322.3M939.3 340.3L909.9 328M971.6 340.3L946.6 334.1M1003.9 340.3L984.9 337.9M1036.3 340.3L1021.5 339.7M1068.6 340.3L1055.1 340M1100.9 340.3L1087.1 339.8M1133.2 340.3L1119.3 339.5M1165.6 340.3L1151.7 338.9M1197.9 340.3L1183.6 337.2M1230.2 340.3L1213 334.6M1262.6 340.3L1238.6 331.3M1294.9 340.3L1265.8 329M1327.2 340.3L1298.3 329M1359.5 340.3L1333.7 330.1M1391.9 340.3L1368.4 330.9M1424.2 340.3L1402 331M1456.5 340.3L1434.5 330.6M1488.8 340.3L1466.7 329.6M713 314.3L705.7 317.5M745.3 314.3L739.3 316.8M777.7 314.3L772.7 315.6M810 314.3L804.6 313.9M842.3 314.3L832.1 308.9M874.6 314.3L854.6 298.4M907 314.3L881.7 298.6M939.3 314.3L913.8 304.1M971.6 314.3L949.3 309.6M1003.9 314.3L986 312.9M1036.3 314.3L1021.7 314.2M1068.6 314.3L1054.4 314.3M1100.9 314.3L1086.2 313.9M1133.2 314.3L1118.3 313.3M1165.6 314.3L1150.3 312.1M1197.9 314.3L1181.2 309.9M1230.2 314.3L1209.5 306.8M1262.6 314.3L1235.5 303.6M1294.9 314.3L1263 301.5M1327.2 314.3L1296.2 301.4M1359.5 314.3L1332.3 302.5M1391.9 314.3L1367.4 303.3M1424.2 314.3L1401.4 303.7M1456.5 314.3L1434 303.1M1488.8 314.3L1466.1 302.1M713 288.3L703.5 293.7M745.3 288.3L737 293.2M777.7 288.3L771.2 291M810 288.3L803.9 288.8M842.3 288.3L832.2 284M874.6 288.3L858 277.9M907 288.3L886.1 277.7M939.3 288.3L917.7 281.5M971.6 288.3L952 285.2M1003.9 288.3L987 287.5M1036.3 288.3L1021.1 288.4M1068.6 288.3L1053.5 288.3M1100.9 288.3L1085.2 287.7M1133.2 288.3L1117.5 287M1165.6 288.3L1149.3 285.5M1197.9 288.3L1179.3 282.9M1230.2 288.3L1207.3 279.5M1262.6 288.3L1233.6 276.7M1294.9 288.3L1262 275M1327.2 288.3L1295.3 274.9M1359.5 288.3L1331.4 275.7M1391.9 288.3L1367.3 276.6M1424.2 288.3L1401.7 276.9M1456.5 288.3L1434.6 276.2M1488.8 288.3L1466.6 274.8M713 262.3L702.6 268M745.3 262.3L735.8 267.1M777.7 262.3L771.1 264.7M810 262.3L804.1 262.6M842.3 262.3L833 259M874.6 262.3L861 256.5M907 262.3L889.7 257.3M939.3 262.3L920.5 259.4M971.6 262.3L954.1 261.1M1003.9 262.3L987.7 262.2M1036.3 262.3L1020.7 262.6M1068.6 262.3L1052.8 262.3M1100.9 262.3L1084.9 261.8M1133.2 262.3L1117 260.8M1165.6 262.3L1148.3 259.1M1197.9 262.3L1177.9 256.4M1230.2 262.3L1205.9 253.3M1262.6 262.3L1233 250.8M1294.9 262.3L1262.1 249.3M1327.2 262.3L1296 249.1M1359.5 262.3L1332.1 249.8M1391.9 262.3L1368.3 250.8M1424.2 262.3L1403 251M1456.5 262.3L1435.7 249.8M1488.8 262.3L1467.5 248M713 236.3L703.6 240.9M745.3 236.3L737.9 240.1M777.7 236.3L772.6 238.4M810 236.3L805.5 236.6M842.3 236.3L835.6 234.9M874.6 236.3L863.4 233.9M907 236.3L891.9 235M939.3 236.3L922.2 236.6M971.6 236.3L954.7 237M1003.9 236.3L988.2 237M1036.3 236.3L1021.1 236.8M1068.6 236.3L1053 236.4M1100.9 236.3L1085.3 235.8M1133.2 236.3L1117.2 234.8M1165.6 236.3L1148 233M1197.9 236.3L1177.5 230.5M1230.2 236.3L1205.8 227.7M1262.6 236.3L1234.1 225.3M1294.9 236.3L1264.6 224M1327.2 236.3L1298.8 224M1359.5 236.3L1334.9 224.8M1391.9 236.3L1370.5 225.6M1424.2 236.3L1404.6 225.5M1456.5 236.3L1437 223.8M1488.8 236.3L1468.5 221.6M713 210.3L705.1 212.8M745.3 210.3L739.5 212.1M777.7 210.3L773.3 211.1M810 210.3L805.6 210.2M842.3 210.3L836.2 209.7M874.6 210.3L864 209.8M907 210.3L892.2 211M939.3 210.3L921.8 212.1M971.6 210.3L954.2 212.1M1003.9 210.3L989.1 211.6M1036.3 210.3L1022.9 211M1068.6 210.3L1055 210.5M1100.9 210.3L1086.7 209.7M1133.2 210.3L1118 208.6M1165.6 210.3L1148.4 206.9M1197.9 210.3L1177.8 204.8M1230.2 210.3L1206.6 202.3M1262.6 210.3L1235.9 199.9M1294.9 210.3L1267.3 198.5M1327.2 210.3L1301.9 198.7M1359.5 210.3L1338 199.6M1391.9 210.3L1372.5 200.2M1424.2 210.3L1405.9 199.8M1456.5 210.3L1437.6 197.6M1488.8 210.3L1469.1 195.2M713 184.3L705.5 184.9M745.3 184.3L740.6 184.4M777.7 184.3L773.4 184.2M810 184.3L805.5 183.9M842.3 184.3L835.9 183.9M874.6 184.3L863.7 184.5M907 184.3L891.7 186M939.3 184.3L920.7 186.6M971.6 184.3L953 186.4M1003.9 184.3L990.6 185.6M1036.3 184.3L1024.9 185.1M1068.6 184.3L1057.1 184.5M1100.9 184.3L1088.3 183.7M1133.2 184.3L1119 182.5M1165.6 184.3L1148.9 181M1197.9 184.3L1178.4 179M1230.2 184.3L1207.7 176.7M1262.6 184.3L1237.5 174.2M1294.9 184.3L1269.2 172.6M1327.2 184.3L1303.5 172.5M1359.5 184.3L1338.8 173.2M1391.9 184.3L1373 173.6M1424.2 184.3L1405.8 172.8M1456.5 184.3L1437.5 170.7M1488.8 184.3L1469 168.4M713 158.3L703.6 157.2M745.3 158.3L737.7 156.9M777.7 158.3L771.2 157.1M810 158.3L803.5 157.4M842.3 158.3L834.1 157.9M874.6 158.3L862.6 158.8M907 158.3L890.6 159.9M939.3 158.3L920.1 160.3M971.6 158.3L953.3 160M1003.9 158.3L990.8 159.6M1036.3 158.3L1026.1 159.2M1068.6 158.3L1058.4 158.7M1100.9 158.3L1089.2 157.9M1133.2 158.3L1119.4 156.7M1165.6 158.3L1149.2 155.2M1197.9 158.3L1178.9 153.2M1230.2 158.3L1208.7 150.8M1262.6 158.3L1238.8 148.1M1294.9 158.3L1270.4 146M1327.2 158.3L1304.6 145.7M1359.5 158.3L1339.5 146.3M1391.9 158.3L1373.4 146.4M1424.2 158.3L1406 145.8M1456.5 158.3L1437.9 144.1M1488.8 158.3L1469.4 142.1M713 132.3L701.2 129.7M745.3 132.3L734.1 129.3M777.7 132.3L768 129.9M810 132.3L800.8 130.8M842.3 132.3L832.5 131.8M874.6 132.3L861.7 132.9M907 132.3L890.1 133.6M939.3 132.3L920 133.6M971.6 132.3L953.1 133.2M1003.9 132.3L991.7 133.4M1036.3 132.3L1026.7 133.4M1068.6 132.3L1058.8 132.9M1100.9 132.3L1089.4 132.2M1133.2 132.3L1119.3 131M1165.6 132.3L1149.3 129.4M1197.9 132.3L1179.3 127.4M1230.2 132.3L1209.6 124.8M1262.6 132.3L1240.1 121.8M1294.9 132.3L1272.2 119.4M1327.2 132.3L1306.3 118.7M1359.5 132.3L1341.1 119.1M1391.9 132.3L1375 119.5M1424.2 132.3L1407.8 119.4M1456.5 132.3L1439.9 119M1488.8 132.3L1471.9 118.2M713 106.3L700.1 103.1M745.3 106.3L733.3 102.9M777.7 106.3L767 103.3M810 106.3L800.2 104.5M842.3 106.3L832.1 105.6M874.6 106.3L862.1 106.7M907 106.3L890.8 107.3M939.3 106.3L920.9 107M971.6 106.3L954.5 106.7M1003.9 106.3L991.5 107.4M1036.3 106.3L1026.5 107.6M1068.6 106.3L1058.7 107.1M1100.9 106.3L1089.3 106.3M1133.2 106.3L1119.3 105.2M1165.6 106.3L1149.3 103.6M1197.9 106.3L1179.5 101.5M1230.2 106.3L1210.1 98.8M1262.6 106.3L1241.3 95.6M1294.9 106.3L1273.9 93M1327.2 106.3L1308.3 92.3M1359.5 106.3L1343.3 92.6M1391.9 106.3L1377 93.2M1424.2 106.3L1410 93.7M1456.5 106.3L1442.5 94.4M1488.8 106.3L1474.8 94.8M713 80.3L700.1 77.1M745.3 80.3L733.6 77.1M777.7 80.3L767.4 77.2M810 80.3L800.4 78.4M842.3 80.3L832.6 79.4M874.6 80.3L863.2 80.6M907 80.3L892.1 81M939.3 80.3L922.3 80.6M971.6 80.3L955.5 79.9M1003.9 80.3L992.1 81.5M1036.3 80.3L1026.2 81.7M1068.6 80.3L1058.2 81.2M1100.9 80.3L1089 80.3M1133.2 80.3L1119.3 79.2M1165.6 80.3L1149.5 77.6M1197.9 80.3L1180 75.5M1230.2 80.3L1210.9 73M1262.6 80.3L1242.8 70.2M1294.9 80.3L1275.9 67.9M1327.2 80.3L1310.1 66.9M1359.5 80.3L1344.6 67M1391.9 80.3L1378.5 67.6M1424.2 80.3L1411.7 68.5M1456.5 80.3L1444.4 69.4M1488.8 80.3L1476.8 69.9" stroke="#000" stroke-width="1.8" fill="none"/><path d="M695 804L699.5 806.1L699.6 811.8L694.7 808.9ZM727.4 803.8L731.9 805.8L732 811.5L727.1 808.7ZM759.8 803.5L764.2 805.6L764.3 811.3L759.4 808.4ZM792.8 803.1L797.2 805.3L797.1 811L792.3 808ZM826.4 802.8L830.7 805.2L830.4 810.9L825.7 807.7ZM859.6 802.7L863.9 805.2L863.5 810.8L858.8 807.6ZM892.4 802.5L896.6 805L896.1 810.7L891.5 807.4ZM924.9 802.5L929.1 805L928.6 810.7L924 807.3ZM957.3 803.2L961.5 805.8L961.1 811.4L956.4 808.1ZM989.5 804.1L993.8 806.5L993.4 812.2L988.7 808.9ZM1020.2 804.4L1024.6 806.6L1024.4 812.3L1019.6 809.3ZM1050.5 805.4L1055.1 807.4L1055.3 813.1L1050.3 810.4ZM1081.3 807.3L1085.9 808.9L1086.6 814.6L1081.4 812.2ZM1113.3 809.1L1118 810.5L1118.9 816.2L1113.6 814ZM1145 810.3L1149.8 811.6L1150.9 817.2L1145.5 815.2ZM1175.1 811.4L1179.9 812.3L1181.4 817.7L1175.9 816.2ZM1205.4 812L1210.3 812.6L1212.1 818L1206.6 816.8ZM1237.2 810.9L1242.1 811.6L1243.8 817L1238.3 815.7ZM1269.9 808.9L1274.7 809.8L1276.2 815.3L1270.7 813.7ZM1302.9 806.6L1307.7 807.8L1308.9 813.3L1303.5 811.5ZM1336 804.6L1340.8 806L1341.6 811.6L1336.4 809.5ZM1369 803.3L1373.7 804.9L1374.4 810.5L1369.2 808.2ZM1401.9 802.5L1406.5 804.2L1407 809.9L1401.9 807.5ZM1434.6 801.9L1439.2 803.7L1439.7 809.4L1434.6 806.9ZM1467.4 801.2L1471.9 803.1L1472.3 808.8L1467.2 806.2ZM694.7 778.7L699.2 780.6L699.4 786.3L694.4 783.6ZM727.1 778.4L731.6 780.4L731.8 786L726.8 783.3ZM759 778.1L763.5 780.1L763.7 785.8L758.7 783ZM792.1 777.4L796.6 779.5L796.6 785.2L791.7 782.3ZM826.1 777.2L830.5 779.5L830.3 785.2L825.5 782.1ZM859.5 777.2L863.8 779.6L863.4 785.3L858.7 782.1ZM892.1 777.2L896.4 779.6L896 785.3L891.3 782ZM924.6 777L928.9 779.5L928.4 785.1L923.8 781.8ZM956.5 777.5L960.8 779.9L960.4 785.6L955.7 782.4ZM987.5 778.1L991.9 780.3L991.8 786L987 783ZM1017.7 778.6L1022.3 780.6L1022.5 786.2L1017.5 783.5ZM1048.6 779.8L1053.2 781.5L1053.7 787.2L1048.6 784.7ZM1080 781.5L1084.7 783L1085.5 788.6L1080.3 786.4ZM1111.8 783.1L1116.5 784.3L1117.6 789.9L1112.3 788ZM1143.4 784.3L1148.2 785.4L1149.5 790.9L1144 789.2ZM1173.9 785.4L1178.7 786.2L1180.4 791.6L1174.9 790.2ZM1204.4 786L1209.3 786.5L1211.2 791.9L1205.6 790.8ZM1236.2 785.1L1241.1 785.7L1243 791.1L1237.4 789.9ZM1269 783.1L1273.9 783.9L1275.5 789.4L1270 787.9ZM1302.2 780.7L1307 781.8L1308.3 787.3L1302.9 785.6ZM1335.5 778.5L1340.2 779.9L1341.1 785.5L1335.8 783.4ZM1368.4 777.5L1373.1 779L1373.9 784.7L1368.7 782.4ZM1401.2 777L1405.9 778.6L1406.6 784.3L1401.4 781.9ZM1434 776.6L1438.6 778.2L1439.2 783.9L1434 781.5ZM1466.7 775.9L1471.3 777.7L1471.8 783.3L1466.7 780.8ZM694.2 753.4L698.7 755.3L699.1 760.9L694.1 758.3ZM726.7 753L731.3 754.9L731.5 760.6L726.5 757.9ZM758.8 752.6L763.4 754.5L763.6 760.2L758.6 757.5ZM792 751.8L796.4 753.9L796.5 759.6L791.6 756.7ZM825.7 751.5L830.1 753.8L830 759.4L825.2 756.4ZM859.1 751.7L863.4 754.1L863.2 759.7L858.4 756.6ZM892.1 752L896.4 754.4L896 760L891.4 756.8ZM924.6 751.8L928.9 754.2L928.5 759.9L923.8 756.6ZM955.6 752.3L960 754.6L959.8 760.2L955 757.2ZM985.6 752.7L990.2 754.7L990.4 760.4L985.4 757.7ZM1015 753.1L1019.6 754.8L1020.3 760.4L1015.1 758.1ZM1046.5 754.7L1051.2 756.1L1052.1 761.7L1046.8 759.6ZM1078.5 756.3L1083.3 757.5L1084.4 763.1L1079 761.2ZM1109.9 757.4L1114.7 758.5L1116.1 764L1110.6 762.3ZM1141.8 758.4L1146.6 759.3L1148.1 764.8L1142.6 763.3ZM1172.8 759.5L1177.7 760.2L1179.5 765.6L1173.9 764.3ZM1203.6 760.2L1208.5 760.6L1210.5 765.9L1204.9 764.9ZM1235.6 759.3L1240.5 759.8L1242.5 765.2L1236.9 764.1ZM1268.5 757.4L1273.3 758.1L1275 763.6L1269.5 762.2ZM1301.6 755.1L1306.5 756.1L1307.8 761.6L1302.4 760ZM1334.8 753.2L1339.6 754.4L1340.6 760L1335.3 758.1ZM1367.8 752.2L1372.5 753.6L1373.4 759.2L1368.1 757.1ZM1400.6 751.7L1405.3 753.2L1406.1 758.9L1400.8 756.6ZM1433.3 751.4L1438 752.9L1438.7 758.6L1433.5 756.3ZM1466.1 750.7L1470.7 752.3L1471.3 758L1466.2 755.6ZM693.5 728.3L698.1 730L698.6 735.7L693.5 733.3ZM726.4 727.8L731 729.6L731.4 735.3L726.3 732.7ZM758.5 727.5L763.1 729.3L763.5 735L758.4 732.4ZM792 726.6L796.5 728.6L796.6 734.3L791.7 731.5ZM825.6 726.3L830 728.5L830 734.2L825.1 731.2ZM859 726.8L863.4 729.1L863.2 734.8L858.4 731.7ZM892.3 727.5L896.6 729.8L896.4 735.5L891.6 732.3ZM924.6 727.4L928.9 729.7L928.7 735.4L923.9 732.3ZM954.9 727.5L959.4 729.6L959.4 735.3L954.5 732.4ZM984.4 727.8L989 729.6L989.5 735.3L984.4 732.8ZM1013.9 728.5L1018.6 729.9L1019.5 735.5L1014.2 733.4ZM1044.5 730L1049.3 731.1L1050.6 736.7L1045.2 734.9ZM1076.3 731.6L1081.2 732.5L1082.7 738L1077.2 736.5ZM1108.1 732.5L1113 733.3L1114.6 738.7L1109.1 737.4ZM1140.1 733.4L1144.9 734.1L1146.8 739.5L1141.2 738.2ZM1171.8 734.4L1176.7 734.9L1178.7 740.2L1173.1 739.1ZM1203.4 734.7L1208.3 735L1210.4 740.3L1204.8 739.4ZM1235.4 733.7L1240.3 734.1L1242.3 739.4L1236.7 738.4ZM1268.1 731.8L1272.9 732.4L1274.7 737.8L1269.2 736.6ZM1301.1 729.6L1305.9 730.5L1307.4 736L1301.9 734.5ZM1334.2 727.8L1339 729L1340.2 734.6L1334.8 732.7ZM1367.1 726.9L1371.8 728.2L1372.9 733.8L1367.6 731.8ZM1399.8 726.5L1404.6 727.9L1405.5 733.5L1400.2 731.4ZM1432.6 726.2L1437.3 727.6L1438.2 733.2L1432.9 731.1ZM1465.4 725.3L1470.1 726.9L1470.8 732.5L1465.6 730.2ZM692.3 703.8L697 705.2L697.8 710.9L692.5 708.7ZM725.3 703L729.9 704.6L730.6 710.3L725.4 707.9ZM758.4 702.9L763 704.6L763.6 710.2L758.4 707.8ZM792.3 702.5L796.9 704.5L797.2 710.1L792.1 707.5ZM825.1 702L829.6 704L829.8 709.7L824.8 706.9ZM859.9 703.3L864.3 705.5L864.2 711.2L859.4 708.2ZM893.1 702.4L897.4 704.8L897.1 710.5L892.4 707.3ZM924.9 701.7L929.2 704L928.9 709.7L924.2 706.5ZM955.4 701.8L959.8 704L959.8 709.6L954.9 706.7ZM984.4 702.9L989 704.6L989.6 710.2L984.4 707.8ZM1013.9 703.5L1018.6 704.8L1019.6 710.4L1014.3 708.4ZM1043.4 705.2L1048.2 706.1L1049.8 711.5L1044.3 710ZM1075.1 706.9L1079.9 707.5L1081.7 712.9L1076.2 711.7ZM1106.4 707.4L1111.3 707.9L1113.3 713.3L1107.7 712.2ZM1138.4 708.3L1143.3 708.6L1145.4 713.9L1139.8 713ZM1170.7 709.1L1175.6 709.4L1177.8 714.6L1172.2 713.8ZM1202.9 709L1207.8 709.3L1210 714.6L1204.4 713.7ZM1235 707.8L1239.9 708.2L1242 713.5L1236.3 712.5ZM1267.5 706L1272.4 706.6L1274.3 712L1268.7 710.8ZM1300.4 704.1L1305.3 704.9L1306.9 710.4L1301.4 708.9ZM1333.4 702.4L1338.3 703.5L1339.6 709L1334.2 707.3ZM1366.3 701.5L1371 702.7L1372.2 708.2L1366.9 706.4ZM1399 701L1403.8 702.3L1404.9 707.8L1399.6 705.9ZM1431.9 700.5L1436.6 701.9L1437.6 707.5L1432.3 705.4ZM1464.7 699.7L1469.4 701.1L1470.3 706.8L1465 704.6ZM691.1 680.2L695.9 681.3L697.2 686.8L691.8 685.1ZM724.4 679.5L729.2 680.8L730.2 686.4L724.9 684.4ZM758.4 679.3L763.1 680.8L763.9 686.5L758.7 684.3ZM792.5 679L797.1 680.8L797.6 686.4L792.5 684ZM825.1 678.2L829.6 680.1L830 685.7L825 683.2ZM859.3 678.5L863.8 680.6L863.9 686.3L859 683.4ZM892.3 677L896.7 679.3L896.5 684.9L891.7 681.9ZM924.6 677L929 679.2L928.9 684.9L924.1 681.9ZM955.7 677.3L960.2 679.4L960.3 685.1L955.4 682.2ZM985.2 677.8L989.9 679.5L990.4 685.1L985.3 682.7ZM1014.7 678.2L1019.5 679.5L1020.5 685.1L1015.2 683.1ZM1044.5 679.3L1049.3 680.3L1050.7 685.8L1045.3 684.2ZM1075.1 680.7L1080 681.4L1081.8 686.8L1076.2 685.5ZM1105.8 681.6L1110.7 682L1112.8 687.3L1107.2 686.3ZM1136.9 682.3L1141.9 682.6L1144.1 687.8L1138.4 687ZM1169.2 682.7L1174.1 682.9L1176.4 688.1L1170.8 687.4ZM1201.6 682.4L1206.5 682.7L1208.7 687.9L1203.1 687.1ZM1234.2 681.6L1239.1 681.9L1241.2 687.2L1235.6 686.3ZM1266.8 680.3L1271.7 680.8L1273.7 686.1L1268.1 685ZM1299.5 678.6L1304.4 679.3L1306.1 684.7L1300.6 683.4ZM1332.3 677.1L1337.1 678L1338.7 683.5L1333.2 681.9ZM1365.1 676.1L1369.9 677.1L1371.3 682.6L1365.8 681ZM1398 675.5L1402.8 676.6L1404 682.1L1398.6 680.3ZM1430.9 674.8L1435.7 676L1436.8 681.6L1431.5 679.7ZM1463.8 673.9L1468.5 675.3L1469.5 680.9L1464.2 678.8ZM690.8 657.3L695.6 658L697.3 663.5L691.8 662.1ZM724.6 657.1L729.4 658.1L730.9 663.6L725.4 662ZM759.3 656.5L764.1 657.8L765.1 663.4L759.8 661.4ZM792.9 655.3L797.5 656.9L798.3 662.5L793 660.2ZM825.6 653.9L830.2 655.6L830.7 661.3L825.6 658.8ZM858.4 652.7L863 654.6L863.3 660.3L858.2 657.6ZM891 652.2L895.5 654.2L895.7 659.9L890.7 657.1ZM923.2 652.4L927.7 654.4L928 660.1L923 657.4ZM954.8 653.2L959.4 655L959.8 660.7L954.7 658.1ZM985.7 653L990.4 654.6L991 660.3L985.8 657.9ZM1016.1 652.5L1020.8 654L1021.7 659.6L1016.4 657.5ZM1046.4 653.2L1051.1 654.4L1052.3 659.9L1046.9 658.1ZM1076.8 654.3L1081.6 655.2L1083.2 660.7L1077.7 659.2ZM1107 655.6L1111.9 656.1L1113.8 661.5L1108.3 660.4ZM1137.6 656.4L1142.5 656.7L1144.7 661.9L1139.1 661.1ZM1169.3 656.5L1174.2 656.7L1176.5 662L1170.8 661.2ZM1201.6 656.1L1206.6 656.4L1208.7 661.6L1203.1 660.8ZM1233.8 655.6L1238.7 655.9L1240.9 661.2L1235.3 660.3ZM1266.2 654.7L1271.1 655.1L1273.2 660.4L1267.6 659.4ZM1298.6 653.3L1303.5 653.8L1305.3 659.2L1299.8 658ZM1330.9 651.7L1335.8 652.4L1337.5 657.9L1332 656.5ZM1363.5 650.6L1368.4 651.5L1369.9 656.9L1364.4 655.5ZM1396.4 649.9L1401.2 650.8L1402.7 656.3L1397.2 654.7ZM1429.5 649.1L1434.3 650.2L1435.6 655.7L1430.2 654ZM1462.6 648.1L1467.3 649.3L1468.5 654.9L1463.1 653ZM691.2 634.2L696.1 634.6L698.1 639.9L692.5 638.9ZM725.6 634.3L730.5 635L732.2 640.4L726.7 639.1ZM760.5 633.8L765.3 634.9L766.6 640.4L761.2 638.7ZM793.4 631L798.1 632.5L798.9 638.1L793.7 635.9ZM825.8 627.9L830.4 629.6L830.8 635.3L825.8 632.8ZM857.6 627.1L862.2 628.9L862.7 634.5L857.6 632ZM889.8 627.1L894.4 628.8L894.9 634.5L889.8 632ZM921.6 627.4L926.3 629.1L926.9 634.8L921.7 632.4ZM954.2 628.6L958.9 630.2L959.5 635.8L954.3 633.5ZM986 628L990.7 629.6L991.3 635.2L986.2 632.9ZM1017.4 627.3L1022.1 628.9L1022.8 634.5L1017.6 632.3ZM1048.5 627.5L1053.2 628.9L1054.2 634.5L1048.9 632.4ZM1079.4 628.7L1084.2 629.8L1085.5 635.3L1080.1 633.5ZM1110.1 630.5L1115 631.2L1116.7 636.7L1111.2 635.3ZM1140.7 631.8L1145.6 632.2L1147.6 637.5L1142 636.5ZM1171.7 631.6L1176.6 631.9L1178.8 637.2L1173.2 636.3ZM1202.7 630.6L1207.6 630.9L1209.8 636.2L1204.1 635.4ZM1234.9 630.6L1239.8 630.9L1242 636.1L1236.4 635.3ZM1266.7 629.9L1271.6 630.2L1273.7 635.5L1268.1 634.6ZM1298.1 628.2L1303 628.6L1305 633.9L1299.4 632.9ZM1329.5 626.3L1334.4 626.9L1336.3 632.2L1330.7 631.1ZM1361.5 625.1L1366.3 625.7L1368.2 631.1L1362.6 629.9ZM1394.2 624.2L1399 625L1400.7 630.4L1395.2 629ZM1427.4 623.3L1432.2 624.2L1433.8 629.7L1428.3 628.2ZM1460.6 622.2L1465.4 623.3L1466.8 628.8L1461.4 627.1ZM692 610.3L696.9 610.5L699.2 615.7L693.5 614.9ZM726.9 610.4L731.8 610.9L733.7 616.3L728.1 615.2ZM762.3 609.8L767.1 610.8L768.4 616.4L763 614.6ZM794.8 605.9L799.5 607.5L800.2 613.1L795 610.8ZM827 602.6L831.6 604.5L831.9 610.2L826.9 607.5ZM858.6 601.4L863.1 603.3L863.5 609L858.4 606.3ZM890 601.3L894.6 603.1L895 608.8L889.9 606.2ZM921.5 601.6L926.1 603.2L926.8 608.9L921.6 606.5ZM953.9 602.3L958.5 603.9L959.2 609.5L954 607.2ZM986.6 602.2L991.2 603.9L991.8 609.5L986.7 607.1ZM1019.1 602.1L1023.7 603.7L1024.3 609.4L1019.1 607ZM1051.2 602.5L1055.9 604.2L1056.6 609.8L1051.4 607.5ZM1083.1 603.9L1087.8 605.3L1088.7 610.9L1083.5 608.8ZM1115.2 606.7L1120 607.8L1121.3 613.3L1115.9 611.6ZM1146.6 608.6L1151.5 609.3L1153.2 614.7L1147.7 613.4ZM1177.6 608.7L1182.5 609.2L1184.4 614.6L1178.8 613.5ZM1208.4 608L1213.3 608.4L1215.3 613.8L1209.7 612.7ZM1239 607.2L1243.9 607.6L1246 612.9L1240.3 611.9ZM1268.9 605.9L1273.8 606.2L1276 611.5L1270.4 610.6ZM1298.4 603.3L1303.3 603.7L1305.4 608.9L1299.8 608ZM1328.1 601L1333 601.4L1335.1 606.6L1329.5 605.7ZM1358.8 599.5L1363.7 599.9L1365.8 605.2L1360.2 604.2ZM1390.9 598.5L1395.8 598.9L1397.8 604.3L1392.2 603.2ZM1424.1 597.5L1429 598.1L1430.9 603.5L1425.3 602.3ZM1457.4 596.3L1462.3 597L1463.9 602.5L1458.4 601.1ZM693 585.7L697.9 585.9L700.3 591L694.6 590.4ZM727.4 585.6L732.3 586L734.4 591.3L728.8 590.3ZM762.9 585.1L767.7 586L769.1 591.5L763.7 589.9ZM796.1 582.1L800.8 583.6L801.5 589.3L796.3 587ZM828.3 578.8L832.9 580.6L833.2 586.3L828.2 583.7ZM860 577L864.6 578.9L864.8 584.6L859.8 581.9ZM891.5 576.4L896 578.2L896.4 583.9L891.3 581.3ZM923.1 576.4L927.7 578.1L928.2 583.8L923.1 581.3ZM955.3 576.5L959.9 578.3L960.4 583.9L955.3 581.4ZM988 576.4L992.6 578.2L993 583.9L987.9 581.3ZM1021.2 576.8L1025.7 578.7L1026 584.3L1021 581.7ZM1054.4 578.1L1058.9 580L1059.2 585.7L1054.2 583ZM1087.5 580.4L1092.1 582.2L1092.5 587.8L1087.4 585.3ZM1120.9 583.9L1125.6 585.4L1126.3 591.1L1121.1 588.8ZM1153.4 586.1L1158.1 587.3L1159.2 592.9L1153.9 591ZM1184.9 586.4L1189.7 587.5L1191.1 593L1185.6 591.3ZM1215.9 586L1220.7 586.9L1222.3 592.3L1216.8 590.8ZM1245.2 584.3L1250.1 585L1251.8 590.4L1246.3 589.1ZM1273.1 581.9L1278 582.4L1280 587.7L1274.4 586.6ZM1299.9 578.7L1304.9 579L1307 584.3L1301.4 583.4ZM1327 576L1331.9 576.1L1334.2 581.4L1328.5 580.6ZM1355.6 574.2L1360.5 574.3L1362.9 579.4L1357.2 578.8ZM1386.5 573L1391.4 573.1L1393.8 578.2L1388.1 577.6ZM1419.9 572L1424.8 572.2L1427 577.5L1421.4 576.7ZM1453.4 570.4L1458.3 570.9L1460.3 576.2L1454.7 575.2ZM694.5 560.9L699.4 561L701.8 566.2L696.1 565.6ZM728.9 560.7L733.8 561.1L735.8 566.5L730.2 565.5ZM763.6 560.1L768.4 561L769.9 566.4L764.4 564.9ZM797 557.7L801.7 559.1L802.5 564.8L797.3 562.6ZM829.5 554.9L834.1 556.7L834.5 562.4L829.4 559.8ZM861.6 553L866.1 555L866.3 560.7L861.3 557.9ZM893.4 552.2L897.9 554.2L898.1 559.9L893.2 557.1ZM925.3 552.1L929.9 554L930.1 559.7L925.1 557ZM957.6 551.9L962.1 553.8L962.4 559.5L957.4 556.8ZM990.3 551.4L994.7 553.5L994.9 559.1L989.9 556.3ZM1023.4 551.5L1027.8 553.6L1027.8 559.3L1023 556.4ZM1057 552.9L1061.4 555.2L1061.3 560.8L1056.4 557.8ZM1090.8 555.8L1095.2 558L1095.1 563.7L1090.3 560.7ZM1125.1 559.6L1129.5 561.8L1129.4 567.5L1124.6 564.5ZM1158.6 562.4L1163.1 564.5L1163.2 570.2L1158.3 567.3ZM1191.2 563.4L1195.7 565.4L1195.9 571.1L1191 568.3ZM1222.6 563.2L1227.2 565L1227.7 570.6L1222.6 568.1ZM1252.1 561.9L1256.9 563.2L1257.9 568.8L1252.6 566.8ZM1279.1 559.6L1284 560.3L1285.7 565.8L1280.2 564.4ZM1303.4 556L1308.3 556.3L1310.5 561.5L1304.9 560.7ZM1327 552.5L1331.9 552.4L1334.5 557.5L1328.8 557.1ZM1352.4 549.9L1357.3 549.6L1360 554.6L1354.3 554.4ZM1381.6 548.4L1386.5 548.1L1389.3 553L1383.6 552.9ZM1414.5 547L1419.4 546.8L1422 551.9L1416.4 551.5ZM1449.5 545.2L1454.4 545.4L1456.7 550.6L1451.1 549.9ZM696.2 535.8L701.1 535.9L703.4 541.1L697.7 540.4ZM730.3 535.2L735.2 535.8L737.1 541.2L731.5 540ZM764.4 534.4L769.2 535.4L770.6 540.9L765.2 539.2ZM797.7 532.7L802.4 534.2L803.3 539.8L798 537.6ZM830.4 530.6L834.9 532.4L835.4 538L830.3 535.5ZM862.7 529.1L867.2 531.1L867.4 536.8L862.4 534.1ZM894.9 528.4L899.4 530.4L899.5 536.1L894.6 533.3ZM927 528.4L931.5 530.4L931.8 536.1L926.8 533.3ZM959.5 528.3L964 530.3L964.2 536L959.2 533.2ZM992.4 527.4L996.8 529.6L996.7 535.3L991.9 532.3ZM1025.5 526.7L1029.8 529.1L1029.5 534.8L1024.8 531.6ZM1059.3 528L1063.5 530.5L1063 536.2L1058.4 532.8ZM1093.4 530.7L1097.6 533.3L1096.9 538.9L1092.4 535.5ZM1128.6 534.7L1132.6 537.6L1131.5 543.2L1127.3 539.4ZM1162.9 537.9L1166.1 540.7L1164.8 545.3L1161.5 541.8ZM1196.2 539.2L1199 541.7L1197.4 545.7L1194.6 542.5ZM1228.2 540L1231 542.1L1229.6 545.9L1226.7 543.2ZM1258.6 540.1L1261.9 541.8L1261.4 546L1257.9 543.7ZM1286.8 540.6L1291.1 541.3L1292.6 546.1L1287.7 544.9ZM1309.8 537.7L1314.7 537.4L1317.5 542.4L1311.8 542.2ZM1330.9 532.2L1335.8 531.7L1338.7 536.6L1333 536.6ZM1353.1 528.7L1358 528L1361.1 532.8L1355.4 533ZM1380.6 526.8L1385.5 526.1L1388.7 530.8L1383 531.1ZM1412.5 525.1L1417.4 524.5L1420.5 529.3L1414.8 529.4ZM1448.3 522.3L1453.2 522.2L1455.9 527.2L1450.2 526.9ZM697.6 510.3L702.5 510.6L704.7 515.9L699.1 515ZM731.5 509.4L736.4 510.1L738.1 515.6L732.6 514.2ZM765.1 508.5L769.9 509.6L771.2 515.2L765.8 513.4ZM798.2 507.7L802.9 509.1L803.8 514.7L798.6 512.6ZM830.7 506.5L835.4 508.1L836 513.8L830.8 511.4ZM862.8 504.9L867.4 506.7L867.9 512.4L862.8 509.9ZM894.9 504.3L899.5 506.1L899.9 511.8L894.8 509.2ZM927.2 504.8L931.8 506.5L932.3 512.2L927.2 509.7ZM959.9 505.1L964.5 506.8L964.9 512.5L959.8 510ZM993.4 504.5L997.9 506.6L998 512.3L993.1 509.5ZM1027.5 503.6L1031.7 506.1L1031.3 511.8L1026.7 508.5ZM1061.2 504.2L1065.3 506.9L1064.6 512.5L1060.1 509ZM1095.9 506.5L1099.8 509.5L1098.6 515.1L1094.5 511.2ZM1132 509.9L1135.1 513.6L1132.9 518.7L1129.6 514.1ZM1166.9 512.1L1168.7 515.7L1165.9 519.4L1164.2 515.1ZM1199.6 513.6L1201.2 516.8L1198.4 519.8L1196.8 515.9ZM1231.2 515.9L1233.1 518.3L1230.5 520.5L1228.7 517.6ZM1262.5 518.9L1264.7 520L1262.5 521.3L1260.3 520.1ZM1292.1 520.5L1294.3 519.2L1294.1 521.8L1291.8 523ZM1318.3 519.4L1321.8 518.2L1324.6 521.5L1320.4 522.5ZM1340.1 515L1344.9 513.8L1348.5 518.2L1342.9 519.1ZM1362.2 511.6L1366.9 510.3L1370.6 514.6L1365 515.6ZM1388.3 509.7L1393.1 508.4L1396.8 512.7L1391.2 513.7ZM1418.6 506.7L1423.4 505.6L1426.9 510.1L1421.3 510.8ZM1451.7 503.9L1456.6 503.2L1459.8 507.9L1454.1 508.2ZM698.8 485L703.7 485.3L705.8 490.6L700.2 489.7ZM732.3 483.7L737.2 484.5L738.8 490L733.3 488.6ZM765.5 482.6L770.3 483.8L771.5 489.3L766.1 487.5ZM798.1 482.1L802.8 483.4L803.9 489L798.6 487ZM830.2 481.4L835 482.8L835.9 488.4L830.6 486.3ZM861.7 478.8L866.4 480.4L867.1 486.1L861.9 483.7ZM893.1 478.1L897.7 479.6L898.5 485.2L893.3 483ZM924.9 479.6L929.7 480.9L930.8 486.5L925.5 484.5ZM957.6 480.9L962.4 482L963.7 487.5L958.3 485.8ZM992 481.6L996.8 483L997.7 488.6L992.4 486.5ZM1027.3 480.6L1031.7 482.8L1031.8 488.5L1026.9 485.6ZM1060.6 480.9L1064.9 483.2L1064.7 488.9L1060 485.7ZM1095.2 482.6L1099.4 485.2L1098.7 490.9L1094.2 487.4ZM1132.4 485.5L1135.1 488.8L1133 493.2L1130.3 489.2ZM1167.7 486.5L1169.2 490.2L1166.2 493.5L1164.8 489.2ZM1199.7 487.8L1201.3 491L1198.4 493.9L1197 490.1ZM1230.7 491L1232.8 492.9L1230.4 494.8L1228.3 492.5ZM1262.6 496.3m-2.2 0a2.2 2.2 0 1 0 4.4 0a2.2 2.2 0 1 0 -4.4 0M1294.9 496.3m-2.2 0a2.2 2.2 0 1 0 4.4 0a2.2 2.2 0 1 0 -4.4 0M1323.1 497.9L1323.6 495.3L1326 496.8L1325.2 499.5ZM1349.1 496.2L1352.5 493.9L1356.6 496.3L1352.4 498.5ZM1373.8 494.1L1378.2 491.8L1382.8 495.2L1377.5 497.4ZM1400.3 492.2L1404.7 490.1L1409.1 493.7L1403.8 495.6ZM1429.6 489.2L1434.2 487.6L1438.3 491.5L1432.8 493ZM1460.5 485.3L1465.3 484.1L1468.9 488.5L1463.3 489.4ZM699.7 460.1L704.6 460.3L706.8 465.6L701.2 464.8ZM732.8 458.7L737.7 459.4L739.4 464.8L733.9 463.5ZM765.3 457.3L770.2 458.3L771.5 463.8L766.1 462.1ZM797.3 455.9L802.1 457.1L803.3 462.7L797.9 460.8ZM829 453.6L833.7 455L834.6 460.6L829.3 458.5ZM859.4 449.9L864.1 451.5L864.8 457.1L859.6 454.9ZM889.1 448.9L893.9 450.3L894.9 455.9L889.6 453.8ZM919.7 451.3L924.6 452.2L926.2 457.6L920.7 456.2ZM952.5 454.6L957.4 455L959.4 460.3L953.8 459.3ZM987.6 457L992.5 457.4L994.6 462.7L989 461.7ZM1022.7 457.7L1027.6 458.4L1029.3 463.8L1023.8 462.5ZM1056.3 457.8L1061.1 458.7L1062.6 464.2L1057.1 462.6ZM1090.4 458.6L1095.2 459.8L1096.5 465.3L1091.1 463.5ZM1126.9 460.5L1131.1 462.3L1131.4 467.5L1126.8 465.1ZM1162.5 462.2L1165.6 464L1164.7 468L1161.4 465.6ZM1195.7 464.3L1198.5 465.5L1197.3 468.6L1194.3 467ZM1227.5 467.8L1229.9 467L1229.5 469.6L1226.9 470.3ZM1259.8 471.7L1259.7 469.2L1261.8 470.7L1261.7 473.2ZM1292 474.3L1291.1 471.7L1294.1 471.4L1294.7 474.3ZM1323.2 474.9L1322.8 472L1326.1 471.6L1326.2 474.9ZM1352.6 473.9L1353.8 470.8L1357.5 471.3L1355.8 474.7ZM1381.2 472.5L1384.1 469.4L1388.8 470.9L1385.1 474.2ZM1409.1 471.2L1412.9 468.1L1418 470.7L1413.3 473.7ZM1438.7 468.9L1443 466.4L1447.7 469.6L1442.6 472ZM1467.9 464.2L1472.6 462.7L1476.6 466.7L1471 468ZM700.6 435.6L705.5 435.7L708 440.8L702.3 440.2ZM733.4 434.3L738.3 434.7L740.3 440.1L734.7 439ZM765.5 432.8L770.4 433.6L772 439L766.5 437.7ZM796.7 431L801.6 431.9L803.1 437.3L797.6 435.8ZM827.7 427.7L832.4 428.9L833.6 434.5L828.2 432.6ZM856.1 421.5L860.8 422.8L861.8 428.4L856.5 426.4ZM883.8 420.1L888.7 421.1L890.1 426.6L884.6 425ZM913.6 423.6L918.5 424L920.6 429.3L915 428.3ZM946.7 428.5L951.6 428.3L954.3 433.3L948.6 433ZM983 432.7L987.9 432.2L990.9 437.1L985.2 437.2ZM1018 435L1022.9 434.3L1026.1 439.1L1020.4 439.3ZM1051.2 435.1L1056.1 434.5L1059.1 439.3L1053.4 439.5ZM1084.1 434.9L1089 434.4L1092 439.3L1086.3 439.3ZM1120.2 436.4L1125.1 436.1L1127.9 441.1L1122.2 440.9ZM1155.8 438.4L1160.3 438.1L1162.8 442.6L1157.6 442.4ZM1190 440.8L1193.4 439.9L1195.6 443.3L1191.6 444ZM1222.1 444L1224.8 441.9L1227.9 444.2L1224.6 446.3ZM1253.1 446.7L1255.6 443.8L1259.9 445L1256.7 448.1ZM1286.6 447.9L1288.4 444.7L1292.5 445.3L1290.2 448.8ZM1318.7 448.1L1320.5 444.8L1324.8 445.4L1322.4 448.9ZM1349.1 447.3L1351.8 444L1356.6 445.2L1353.1 448.6ZM1379.9 446.7L1383.2 443.3L1388.5 445L1384.3 448.6ZM1409.4 445.3L1413.2 442.2L1418.3 444.7L1413.6 447.8ZM1440 443.5L1444.2 440.9L1449 444L1443.9 446.5ZM1469.9 439.2L1474.6 437.6L1478.6 441.5L1473.1 443ZM701.5 411.5L706.4 411.2L709.2 416.1L703.5 416ZM734.4 410.3L739.4 410.4L741.7 415.6L736 414.9ZM766.4 409.4L771.4 409.7L773.5 415L767.9 414.1ZM797.6 408.5L802.5 408.8L804.6 414.1L799 413.2ZM826.8 405.6L831.7 406L833.7 411.3L828.1 410.3ZM850.8 396.7L855.7 397.4L857.5 402.8L851.9 401.5ZM877.8 395.5L882.7 395.8L884.9 401.1L879.2 400.2ZM908.5 399.1L913.4 398.9L916.1 403.8L910.4 403.6ZM943.9 404.3L948.8 403.6L951.9 408.4L946.2 408.6ZM980.5 409.3L985.2 408.2L988.9 412.5L983.2 413.4ZM1015.3 412.6L1019.9 411L1024 415L1018.5 416.4ZM1048.6 412.8L1053.2 411.2L1057.2 415.2L1051.7 416.6ZM1081.6 412.4L1086.3 410.9L1090.2 415.1L1084.7 416.3ZM1116.1 413.2L1120.8 411.7L1124.7 415.8L1119.2 417ZM1151 414.6L1155.6 412.8L1159.7 416.8L1154.2 418.3ZM1185.2 415.9L1189.7 413.9L1194 417.6L1188.6 419.4ZM1217.4 417L1221.7 414.6L1226.4 417.9L1221.2 420.2ZM1248.2 417.7L1252.4 415.1L1257.2 418.1L1252.1 420.7ZM1280 417.8L1284.1 415.2L1289 418.1L1284 420.8ZM1310.5 417.3L1314.7 414.8L1319.5 417.9L1314.4 420.4ZM1340.6 416.7L1344.9 414.3L1349.6 417.5L1344.4 419.8ZM1372.5 416.3L1376.8 414L1381.4 417.2L1376.2 419.5ZM1403.2 415L1407.7 412.9L1412.1 416.4L1406.8 418.4ZM1435 413.8L1439.6 411.9L1443.8 415.6L1438.4 417.3ZM1465.7 410.7L1470.5 409.3L1474.3 413.5L1468.7 414.7ZM701.9 387.8L706.4 386.8L709.8 391L704.5 391.8ZM735.1 386.4L739.7 386.1L742.4 390.6L737.1 390.6ZM766.9 385.5L771.9 385.3L774.5 390.3L768.9 390.1ZM797.4 384.3L802.3 384.1L805 389.1L799.3 388.9ZM824.4 380L829.3 380L831.8 385.1L826.1 384.6ZM846.6 371.6L851.5 371.8L853.8 377L848.2 376.3ZM872 370.2L876.9 370L879.6 375L874 374.7ZM903.7 374.8L908.6 374.1L911.8 378.8L906.1 379.1ZM940.2 380.7L945 379.5L948.7 383.8L943.1 384.7ZM978 385.7L982.7 384L986.8 387.9L981.3 389.4ZM1014.1 388.7L1018.5 386.6L1023 390.2L1017.6 392.1ZM1047.8 389.5L1052.2 387.2L1056.8 390.7L1051.5 392.8ZM1080.8 389.3L1085.2 387.2L1089.7 390.6L1084.4 392.7ZM1114 389.6L1118.4 387.4L1122.9 390.9L1117.7 393ZM1147.8 390.1L1152.1 387.8L1156.7 391.2L1151.5 393.4ZM1181.6 389.6L1186 387.5L1190.5 391.1L1185.1 393ZM1213.5 388.4L1218.1 386.6L1222.3 390.4L1216.8 392ZM1242 386.7L1246.7 385.1L1250.7 389.1L1245.2 390.5ZM1270.9 385.1L1275.6 383.6L1279.5 387.7L1274 388.9ZM1301.8 385.4L1306.4 383.8L1310.5 387.8L1305 389.2ZM1333.9 385.9L1338.5 384.2L1342.6 388.1L1337.1 389.6ZM1366.5 385.9L1371.1 384.2L1375.2 388.1L1369.7 389.6ZM1398.7 385.3L1403.3 383.6L1407.3 387.7L1401.8 389ZM1430.8 384.2L1435.5 382.7L1439.4 386.9L1433.8 388.1ZM1462.6 382.3L1467.4 381.1L1471 385.5L1465.4 386.4ZM701.3 364.7L705.4 362.7L709.7 365.9L704.7 367.8ZM734.5 363.2L738.7 361.8L742.2 365.4L737.3 366.6ZM766.5 361.7L771.1 360.7L774.5 365L769.1 365.7ZM796.7 359.4L801.6 358.8L804.7 363.5L799 363.7ZM824 355.1L829 354.9L831.7 359.8L826 359.6ZM843.5 343.6L848.5 343.7L850.8 348.9L845.2 348.2ZM868.6 343.9L873.5 343.5L876.4 348.4L870.7 348.3ZM900.7 350.1L905.6 349L909 353.5L903.4 354.2ZM937.9 356.9L942.6 355.3L946.6 359.3L941 360.6ZM976.8 361.4L981.3 359.4L985.7 363L980.3 364.9ZM1013.8 364.2L1018.1 361.8L1022.8 365.1L1017.6 367.4ZM1047.5 365L1051.8 362.5L1056.5 365.6L1051.4 368.1ZM1080 364.9L1084.2 362.4L1089 365.5L1083.9 368ZM1112.6 364.9L1116.9 362.4L1121.6 365.5L1116.5 368ZM1145.6 364.4L1149.9 362L1154.6 365.3L1149.4 367.6ZM1178.4 362.7L1182.9 360.7L1187.3 364.3L1181.9 366.2ZM1208.8 360L1213.5 358.5L1217.4 362.5L1211.9 363.8ZM1235.5 356.9L1240.3 355.6L1244 359.8L1238.4 360.9ZM1262.3 354.6L1267.1 353.4L1270.8 357.7L1265.2 358.6ZM1294.8 354.9L1299.6 353.6L1303.3 357.9L1297.7 358.9ZM1329.2 356.1L1334 354.7L1337.8 359L1332.2 360ZM1363 356.5L1367.7 355.2L1371.5 359.4L1365.9 360.5ZM1396.1 356.3L1400.8 355L1404.6 359.3L1398.9 360.3ZM1428.5 355.6L1433.3 354.4L1436.9 358.8L1431.3 359.6ZM1460.8 354.2L1465.6 353.2L1469 357.8L1463.4 358.4ZM700.1 342.5L703.6 339L708.9 341L704.5 344.6ZM733.4 340.8L737.1 338L741.9 340.5L737.3 343.3ZM765.9 339.3L769.9 337L774.3 340L769.5 342.2ZM796.7 336.1L801.4 334.6L805.3 338.8L799.7 340ZM823.5 328.7L828.5 328.5L831.2 333.4L825.5 333.2ZM845.5 318.6L850.4 318.8L852.7 324L847.1 323.3ZM870.8 318.2L875.7 317.9L878.5 322.9L872.8 322.7ZM902.5 324.9L907.3 323.9L910.8 328.4L905.1 329.1ZM938.9 332.1L943.5 330.4L947.6 334.3L942.1 335.8ZM976.9 336.9L981.3 334.7L985.8 338.1L980.6 340.2ZM1013.5 339.4L1017.7 336.7L1022.5 339.7L1017.4 342.3ZM1047.1 339.9L1051.2 337.2L1056.1 340.1L1051.1 342.8ZM1079.1 339.5L1083.2 336.8L1088.1 339.8L1083 342.4ZM1111.4 339.1L1115.6 336.5L1120.3 339.6L1115.2 342.1ZM1143.8 338.1L1148.1 335.7L1152.7 339L1147.5 341.3ZM1175.8 335.5L1180.3 333.6L1184.6 337.4L1179.1 339.1ZM1205.4 332.1L1210.1 330.7L1214 334.9L1208.4 336ZM1231.2 328.4L1235.9 327.3L1239.6 331.6L1234 332.5ZM1258.3 326.1L1263.1 325L1266.7 329.4L1261.1 330.2ZM1290.9 326.1L1295.6 324.9L1299.2 329.4L1293.6 330.2ZM1326.2 327.1L1331 326L1334.6 330.4L1329 331.2ZM1361 327.9L1365.8 326.8L1369.3 331.2L1363.7 332ZM1394.6 328L1399.4 326.9L1402.9 331.4L1397.2 332.1ZM1427.2 327.4L1432.1 326.4L1435.5 331L1429.8 331.6ZM1459.5 326.1L1464.4 325.4L1467.6 330.1L1462 330.4ZM698.4 320.7L701 316.5L706.6 317.1L703.2 321.7ZM731.9 319.9L734.6 315.7L740.2 316.4L736.7 320.9ZM765 317.7L768.2 313.9L773.7 315.3L769.6 319.3ZM796.7 313.4L800.9 310.9L805.6 314L800.5 316.5ZM825 305.2L829.9 304.6L832.9 309.4L827.3 309.6ZM848.3 293.5L853.3 293.8L855.4 299.1L849.8 298.2ZM875 294.3L879.9 294.1L882.6 299.1L876.9 298.9ZM906.3 301.1L911.1 300L914.7 304.5L909 305.2ZM941.5 308L946 306.1L950.3 309.8L944.9 311.5ZM978 312.2L982.3 309.8L987 312.9L981.8 315.3ZM1013.7 314.2L1017.8 311.4L1022.7 314.2L1017.7 317ZM1046.4 314.3L1050.5 311.5L1055.4 314.3L1050.5 317.1ZM1078.2 313.6L1082.3 311L1087.2 313.9L1082.2 316.6ZM1110.3 312.8L1114.6 310.2L1119.3 313.4L1114.2 315.8ZM1142.4 311L1146.8 308.8L1151.3 312.3L1146 314.4ZM1173.4 307.9L1178 306.2L1182.1 310.2L1176.6 311.6ZM1202 304L1206.8 302.8L1210.5 307.1L1204.9 308.1ZM1228.1 300.6L1232.9 299.5L1236.4 303.9L1230.8 304.7ZM1255.6 298.5L1260.4 297.4L1263.9 301.9L1258.3 302.6ZM1288.8 298.4L1293.6 297.3L1297.1 301.8L1291.5 302.5ZM1325 299.3L1329.8 298.3L1333.2 302.9L1327.6 303.4ZM1360.1 300.1L1365 299.2L1368.3 303.8L1362.7 304.3ZM1394.1 300.3L1399 299.4L1402.3 304.1L1396.6 304.5ZM1426.9 299.6L1431.7 298.9L1434.9 303.6L1429.3 303.9ZM1459 298.3L1463.9 297.7L1467 302.5L1461.3 302.7ZM696.6 297.6L698.7 293.2L704.4 293.2L701.5 298.1ZM730.1 297.3L732.1 292.8L737.8 292.7L735 297.7ZM763.8 294L766.5 289.9L772.1 290.6L768.6 295.1ZM795.9 289.4L799.8 286.3L804.9 288.7L800.2 291.9ZM824.8 280.8L829.6 279.8L833.1 284.4L827.4 285ZM851.2 273.6L856.1 273.4L858.8 278.4L853.2 278.2ZM878.9 274.1L883.8 273.4L887 278.2L881.3 278.4ZM910 279.1L914.7 277.6L918.6 281.8L913.1 282.9ZM944.1 283.9L948.6 281.8L953 285.3L947.7 287.3ZM979 287.1L983.2 284.5L988 287.5L982.9 290.1ZM1013.1 288.5L1017.1 285.6L1022.1 288.4L1017.1 291.2ZM1045.5 288.4L1049.5 285.5L1054.5 288.3L1049.5 291.1ZM1077.2 287.5L1081.3 284.8L1086.2 287.8L1081.1 290.4ZM1109.5 286.3L1113.8 283.9L1118.5 287.1L1113.3 289.4ZM1141.4 284.2L1145.9 282.1L1150.3 285.7L1144.9 287.6ZM1171.6 280.6L1176.3 279.1L1180.2 283.1L1174.7 284.4ZM1199.8 276.6L1204.6 275.4L1208.2 279.8L1202.6 280.7ZM1226.2 273.7L1231 272.6L1234.6 277.1L1228.9 277.8ZM1254.6 272L1259.4 270.9L1263 275.4L1257.3 276.1ZM1287.9 271.8L1292.8 270.7L1296.2 275.2L1290.6 275.9ZM1324.1 272.4L1328.9 271.5L1332.3 276.1L1326.6 276.6ZM1360 273.2L1364.9 272.4L1368.2 277.1L1362.5 277.5ZM1394.6 273.3L1399.5 272.6L1402.6 277.4L1396.9 277.6ZM1427.5 272.3L1432.4 271.8L1435.4 276.7L1429.7 276.7ZM1459.7 270.7L1464.6 270.4L1467.4 275.3L1461.7 275.2ZM695.6 271.9L697.8 267.4L703.5 267.5L700.5 272.4ZM728.7 270.7L731 266.4L736.7 266.7L733.5 271.4ZM763.6 267.4L766.4 263.4L772 264.3L768.3 268.6ZM796.1 263L800 260L805.1 262.6L800.3 265.6ZM825.4 256.3L830.2 255L833.9 259.3L828.3 260.3ZM853.6 253.4L858.4 252.4L861.9 256.9L856.2 257.6ZM882 255L886.7 253.5L890.6 257.5L885.1 258.8ZM912.6 258.2L917.1 256L921.5 259.6L916.2 261.6ZM946.2 260.5L950.4 258L955.1 261.2L950 263.6ZM979.7 262.2L983.8 259.4L988.7 262.2L983.8 265ZM1012.7 262.7L1016.7 259.9L1021.7 262.6L1016.8 265.5ZM1044.8 262.4L1048.8 259.6L1053.8 262.3L1048.8 265.2ZM1076.9 261.5L1081 258.8L1085.9 261.8L1080.8 264.4ZM1109 260.1L1113.3 257.7L1118 260.9L1112.8 263.3ZM1140.4 257.7L1144.9 255.6L1149.3 259.3L1143.9 261.1ZM1170.3 254.2L1174.9 252.6L1178.9 256.7L1173.4 258ZM1198.4 250.6L1203.1 249.3L1206.8 253.7L1201.2 254.6ZM1225.6 247.8L1230.4 246.7L1234 251.1L1228.3 251.9ZM1254.7 246.3L1259.5 245.2L1263 249.6L1257.4 250.4ZM1288.6 246L1293.5 245L1296.9 249.5L1291.3 250.2ZM1324.8 246.5L1329.6 245.6L1333 250.2L1327.3 250.7ZM1361.1 247.3L1366 246.5L1369.2 251.2L1363.5 251.6ZM1396 247.2L1400.9 246.6L1403.9 251.5L1398.2 251.6ZM1428.9 245.7L1433.8 245.4L1436.6 250.3L1430.9 250.2ZM1460.9 243.5L1465.8 243.4L1468.3 248.5L1462.7 248.1ZM696.5 244.4L698.9 240.1L704.5 240.4L701.3 245.1ZM730.8 243.8L733.1 239.5L738.8 239.7L735.7 244.4ZM765.2 241.4L767.9 237.3L773.5 238L770 242.4ZM797.7 237.1L801.5 234.1L806.5 236.5L801.8 239.6ZM827.7 233.3L832.3 231.4L836.5 235.1L831.1 236.8ZM855.6 232.3L860.1 230.4L864.4 234.2L859 235.9ZM883.9 234.3L888.2 231.8L892.9 235.1L887.7 237.4ZM914.2 236.7L918.2 233.9L923.2 236.6L918.3 239.5ZM946.7 237.3L950.6 234.4L955.7 237L950.8 240ZM980.2 237.4L984.2 234.4L989.2 237L984.4 240ZM1013.1 237.1L1017.1 234.2L1022.1 236.8L1017.3 239.8ZM1045 236.4L1049.1 233.6L1054 236.4L1049.1 239.2ZM1077.3 235.5L1081.4 232.8L1086.3 235.8L1081.3 238.4ZM1109.2 234.1L1113.5 231.7L1118.2 234.9L1113 237.3ZM1140.1 231.5L1144.6 229.5L1149 233.2L1143.6 235ZM1169.8 228.3L1174.5 226.7L1178.5 230.8L1172.9 232.1ZM1198.2 225.1L1203 223.8L1206.7 228.1L1201.1 229.1ZM1226.7 222.5L1231.4 221.3L1235.1 225.7L1229.4 226.5ZM1257.2 221L1262 219.9L1265.6 224.4L1259.9 225.1ZM1291.5 220.8L1296.3 219.8L1299.8 224.4L1294.1 225ZM1327.7 221.4L1332.5 220.6L1335.8 225.2L1330.2 225.7ZM1363.4 222L1368.2 221.3L1371.4 226.1L1365.7 226.3ZM1397.6 221.6L1402.5 221.1L1405.5 225.9L1399.8 226ZM1430.2 219.5L1435.1 219.4L1437.8 224.4L1432.1 224.1ZM1462 217L1467 217.1L1469.3 222.2L1463.7 221.6ZM697.5 215.2L700.5 211.3L706 212.5L702.2 216.7ZM731.9 214.4L734.9 210.5L740.5 211.8L736.6 215.9ZM765.9 212.5L769.2 209.2L774.3 210.9L770.2 214.4ZM798.2 209.9L802.1 207.4L806.6 210.2L801.9 212.7ZM828.3 209L832.5 206.6L837.2 209.8L832 212.2ZM856 209.4L860.2 206.8L865 209.8L859.9 212.4ZM884.2 211.4L888.1 208.4L893.2 210.9L888.4 214ZM913.8 212.9L917.6 209.7L922.8 212L918.1 215.3ZM946.2 212.9L950 209.7L955.2 212L950.5 215.3ZM981.2 212.3L985 209.1L990.1 211.5L985.4 214.7ZM1014.9 211.5L1018.8 208.5L1023.9 211L1019.1 214.1ZM1047 210.5L1051 207.7L1056 210.4L1051.1 213.3ZM1078.7 209.4L1082.9 206.7L1087.7 209.7L1082.7 212.3ZM1110.1 207.7L1114.4 205.4L1119 208.7L1113.8 210.9ZM1140.5 205.4L1145 203.4L1149.3 207.1L1143.9 208.9ZM1170 202.6L1174.7 201L1178.7 205L1173.2 206.4ZM1199 199.7L1203.8 198.4L1207.6 202.6L1202 203.7ZM1228.5 197L1233.2 195.9L1236.8 200.3L1231.2 201.1ZM1260 195.4L1264.8 194.4L1268.3 198.9L1262.6 199.6ZM1294.6 195.3L1299.5 194.5L1302.8 199.1L1297.1 199.6ZM1330.8 196.1L1335.7 195.4L1338.9 200.1L1333.2 200.4ZM1365.4 196.4L1370.3 195.8L1373.4 200.6L1367.7 200.8ZM1398.9 195.8L1403.8 195.4L1406.7 200.3L1401 200.3ZM1431 193.2L1435.9 193.1L1438.5 198.2L1432.8 197.8ZM1462.7 190.3L1467.6 190.5L1469.9 195.8L1464.2 195ZM697.5 185.5L701.4 182.4L706.5 184.8L701.8 188ZM732.6 184.5L736.6 181.7L741.6 184.4L736.7 187.3ZM766.2 184L769.9 181.6L774.4 184.2L769.8 186.7ZM797.9 183.3L802 180.9L806.5 184L801.5 186.3ZM827.9 183.4L832.1 180.8L836.9 183.9L831.8 186.4ZM855.7 184.6L859.7 181.7L864.7 184.5L859.8 187.3ZM883.7 186.9L887.4 183.6L892.7 185.9L888 189.2ZM912.7 187.6L916.4 184.3L921.7 186.5L917.1 189.9ZM945.1 187.2L948.8 184L954 186.3L949.4 189.6ZM982.7 186.4L986.4 183.2L991.6 185.5L987 188.8ZM1017 185.7L1020.8 182.6L1025.9 185L1021.2 188.2ZM1049.1 184.7L1053.1 181.8L1058.1 184.5L1053.2 187.4ZM1080.3 183.3L1084.5 180.7L1089.3 183.7L1084.2 186.3ZM1111.1 181.4L1115.5 179.2L1120 182.6L1114.8 184.7ZM1141.1 179.4L1145.6 177.4L1149.9 181.2L1144.5 182.9ZM1170.7 176.9L1175.3 175.3L1179.3 179.3L1173.8 180.7ZM1200.1 174.2L1204.9 172.8L1208.7 177L1203.1 178.1ZM1230.1 171.2L1234.9 170.2L1238.4 174.6L1232.8 175.3ZM1261.9 169.3L1266.8 168.4L1270.1 173L1264.5 173.5ZM1296.4 169L1301.2 168.3L1304.4 173L1298.8 173.3ZM1331.8 169.5L1336.7 168.9L1339.7 173.7L1334 173.9ZM1366.1 169.6L1371 169.2L1373.9 174L1368.2 174ZM1399 168.6L1404 168.3L1406.7 173.3L1401 173.1ZM1431 166L1436 166.1L1438.3 171.3L1432.7 170.7ZM1462.8 163.3L1467.7 163.7L1469.8 169L1464.2 168.1ZM695.7 156.3L700 154L704.6 157.3L699.4 159.5ZM729.8 155.4L734.3 153.4L738.7 157.1L733.3 158.9ZM763.4 155.7L767.9 153.6L772.2 157.3L766.8 159.1ZM795.5 156.4L799.9 154.1L804.5 157.6L799.2 159.7ZM826.1 157.5L830.3 154.9L835.1 157.9L830 160.5ZM854.6 159.2L858.5 156.2L863.6 158.8L858.8 161.8ZM882.7 160.7L886.4 157.5L891.6 159.8L887 163.1ZM912.1 161.1L915.9 157.9L921.1 160.2L916.4 163.5ZM945.4 160.7L949.2 157.5L954.3 159.9L949.7 163.1ZM982.8 160.4L986.6 157.2L991.8 159.5L987.2 162.7ZM1018.1 159.9L1021.9 156.8L1027.1 159.1L1022.4 162.4ZM1050.4 159L1054.3 156.1L1059.4 158.7L1054.5 161.7ZM1081.2 157.6L1085.4 155L1090.2 157.9L1085.2 160.6ZM1111.4 155.8L1115.8 153.5L1120.4 156.8L1115.2 159ZM1141.4 153.7L1145.9 151.7L1150.2 155.4L1144.8 157.2ZM1171.2 151.2L1175.8 149.5L1179.9 153.5L1174.4 154.9ZM1201.1 148.2L1205.9 146.9L1209.6 151.1L1204 152.2ZM1231.4 144.9L1236.2 143.9L1239.7 148.5L1234 149.1ZM1263.3 142.5L1268.1 141.8L1271.3 146.5L1265.6 146.8ZM1297.7 141.8L1302.6 141.3L1305.5 146.2L1299.8 146.2ZM1332.6 142.1L1337.5 141.8L1340.3 146.8L1334.7 146.6ZM1366.7 142.1L1371.6 141.9L1374.3 147L1368.6 146.6ZM1399.4 141.2L1404.4 141.2L1406.8 146.3L1401.2 145.8ZM1431.5 139.3L1436.5 139.5L1438.7 144.7L1433.1 143.9ZM1463.3 137L1468.2 137.4L1470.2 142.7L1464.6 141.7ZM693.3 128.1L697.9 126.2L702.1 130L696.7 131.6ZM726.4 127.2L731 125.5L735.1 129.5L729.6 130.9ZM760.2 128L764.8 126.2L769 130.1L763.5 131.6ZM792.9 129.5L797.4 127.4L801.8 131L796.5 132.9ZM824.5 131.3L828.7 128.8L833.5 131.8L828.4 134.4ZM853.7 133.2L857.6 130.2L862.7 132.8L857.9 135.8ZM882.1 134.3L886 131.2L891.1 133.6L886.4 136.7ZM912.1 134.2L915.9 131.1L921 133.6L916.3 136.7ZM945.1 133.7L949 130.7L954.1 133.2L949.3 136.2ZM983.7 134.2L987.5 131L992.7 133.3L988 136.6ZM1018.7 134.2L1022.5 131L1027.7 133.2L1023.1 136.6ZM1050.9 133.5L1054.7 130.4L1059.8 132.9L1055.1 136ZM1081.4 132.1L1085.5 129.3L1090.4 132.2L1085.4 134.9ZM1111.4 130.3L1115.7 127.9L1120.3 131.1L1115.1 133.4ZM1141.4 128L1145.9 126L1150.3 129.6L1144.9 131.5ZM1171.6 125.3L1176.2 123.7L1180.3 127.6L1174.8 129.1ZM1202 122.1L1206.8 120.9L1210.5 125.2L1204.9 126.1ZM1232.8 118.4L1237.7 117.6L1241 122.2L1235.3 122.6ZM1265.2 115.4L1270.1 115L1273 119.9L1267.3 119.9ZM1299.6 114.4L1304.6 114.2L1307.2 119.3L1301.5 118.9ZM1334.6 114.4L1339.6 114.5L1342 119.7L1336.3 119.1ZM1368.6 114.6L1373.5 114.9L1375.8 120.1L1370.2 119.3ZM1401.5 114.5L1406.4 114.8L1408.6 120L1402.9 119.2ZM1433.7 114L1438.6 114.3L1440.7 119.6L1435.1 118.7ZM1465.7 113.1L1470.6 113.6L1472.7 118.9L1467.1 117.9ZM692.3 101.2L696.9 99.5L701 103.4L695.6 104.9ZM725.6 100.7L730.3 99.1L734.2 103.1L728.7 104.5ZM759.3 101.2L764 99.6L768 103.6L762.5 105ZM792.3 103L796.8 101L801.2 104.6L795.8 106.5ZM824.1 105.1L828.4 102.6L833.1 105.7L828 108.1ZM854.1 107L858 104.1L863.1 106.7L858.2 109.7ZM882.8 107.8L886.7 104.7L891.8 107.2L887.1 110.3ZM912.9 107.3L916.8 104.4L921.9 107L917.1 110ZM946.5 106.9L950.5 104L955.5 106.7L950.6 109.6ZM983.6 108.1L987.4 104.9L992.5 107.3L987.8 110.5ZM1018.6 108.6L1022.3 105.3L1027.5 107.4L1023 110.8ZM1050.7 107.8L1054.5 104.7L1059.7 107.1L1055 110.3ZM1081.3 106.4L1085.3 103.6L1090.3 106.3L1085.3 109.2ZM1111.3 104.5L1115.6 102L1120.3 105.2L1115.1 107.6ZM1141.4 102.2L1145.9 100.1L1150.3 103.7L1144.9 105.7ZM1171.8 99.4L1176.4 97.7L1180.5 101.7L1175 103.2ZM1202.6 96L1207.4 94.8L1211 99.1L1205.4 100ZM1234.2 92.1L1239 91.4L1242.2 96.1L1236.5 96.4ZM1267.1 88.7L1272 88.5L1274.7 93.5L1269 93.2ZM1301.9 87.5L1306.8 87.7L1309.1 92.9L1303.5 92.2ZM1337.1 87.4L1342 87.9L1344 93.2L1338.4 92.2ZM1371 87.9L1375.9 88.5L1377.8 93.8L1372.2 92.7ZM1404.1 88.4L1408.9 89L1410.8 94.4L1405.2 93.2ZM1436.4 89.2L1441.3 89.7L1443.3 95.1L1437.7 94ZM1468.7 89.7L1473.6 90.1L1475.6 95.4L1470 94.5ZM692.3 75.3L696.9 73.5L701 77.4L695.6 78.9ZM725.8 75L730.5 73.3L734.5 77.3L729 78.7ZM759.8 74.9L764.5 73.4L768.4 77.5L762.9 78.7ZM792.6 76.9L797.1 74.9L801.4 78.6L796 80.4ZM824.7 78.7L828.9 76.3L833.6 79.5L828.4 81.8ZM855.2 80.9L859.2 77.9L864.2 80.6L859.3 83.5ZM884.1 81.4L888 78.4L893.1 80.9L888.3 84ZM914.3 80.8L918.3 77.9L923.3 80.6L918.4 83.5ZM947.5 79.7L951.6 77L956.5 79.9L951.4 82.6ZM984.1 82.3L987.9 79.1L993.1 81.4L988.4 84.7ZM1018.3 82.8L1021.9 79.4L1027.2 81.5L1022.7 85ZM1050.3 81.9L1054.1 78.7L1059.2 81.1L1054.5 84.3ZM1081 80.3L1085 77.5L1090 80.3L1085 83.1ZM1111.3 78.5L1115.6 76L1120.3 79.2L1115.1 81.6ZM1141.6 76.3L1146.1 74.2L1150.5 77.8L1145.1 79.7ZM1172.2 73.5L1176.9 71.8L1180.9 75.8L1175.4 77.2ZM1203.4 70.2L1208.2 69L1211.8 73.4L1206.2 74.2ZM1235.7 66.5L1240.6 65.9L1243.7 70.6L1238 70.8ZM1269.2 63.5L1274.1 63.4L1276.7 68.4L1271 68ZM1303.8 62L1308.7 62.3L1310.9 67.5L1305.3 66.7ZM1338.6 61.7L1343.5 62.3L1345.4 67.7L1339.8 66.5ZM1372.7 62.1L1377.5 62.9L1379.2 68.3L1373.7 67ZM1405.9 63L1410.7 63.7L1412.4 69.2L1406.9 67.8ZM1438.5 64L1443.4 64.7L1445.2 70.1L1439.6 68.8ZM1470.8 64.6L1475.7 65.1L1477.6 70.5L1472 69.4Z" fill="#000"/></g>
<g clip-path="url(#clipA)" fill="none" stroke="#000" stroke-width="5" stroke-linejoin="round">
<path d="M802.3 192.8C803.8 185.6 806.2 178.3 811.3 173.2C816.4 168.2 825.3 164.4 832.8 162.3C840.2 160.2 848.4 159.9 856.2 160.7C864 161.6 871.8 163.7 879.6 167.4C887.4 171.1 895.2 178.1 903 183C910.9 187.9 918.7 193.7 926.5 196.7C934.3 199.6 940.1 200.7 949.9 200.6C959.7 200.4 974.6 196 985 195.9C995.5 195.8 1003.9 199.3 1012.4 199.8C1020.8 200.2 1028.7 201.1 1035.8 198.6C1043 196.1 1048.8 190.2 1055.3 185C1061.8 179.7 1068.3 172.1 1074.9 167.4C1081.4 162.7 1087.9 159 1094.4 156.8C1100.9 154.7 1107.4 154 1113.9 154.5C1120.4 155 1126.9 156.1 1133.4 159.6C1139.9 163 1147.1 169 1153 175.2C1158.8 181.4 1164 189.2 1168.6 196.7C1173.1 204.2 1175.1 212.3 1180.3 220.1C1185.5 227.9 1192.7 236 1199.8 243.5C1207 251 1215.4 258.2 1223.2 265C1231 271.8 1238.9 277.7 1246.7 284.5C1254.5 291.4 1262.9 298.5 1270.1 306C1277.3 313.5 1284.1 321.6 1289.6 329.4C1295.2 337.2 1300.6 345 1303.3 352.9C1306 360.7 1307 368.5 1306 376.3C1305 384.1 1300.8 392.6 1297.4 399.7C1294 406.9 1288.6 413.4 1285.7 419.2C1282.8 425.1 1280.5 430.1 1279.9 434.9C1279.2 439.6 1278.9 442.4 1281.8 447.8C1284.7 453.2 1290.9 461.5 1297.4 467.3C1303.9 473.2 1314.7 477.1 1320.9 483C1327 488.8 1331.6 495.3 1334.5 502.5C1337.5 509.6 1339.4 517.4 1338.4 525.9C1337.5 534.4 1333.5 545.1 1328.7 553.2C1323.8 561.4 1316.3 568.9 1309.1 574.7C1302 580.6 1293.5 584.8 1285.7 588.4C1277.9 592 1267.8 592.9 1262.3 596.2C1256.8 599.4 1253.5 603.3 1252.5 607.9C1251.5 612.5 1254.5 617 1256.4 623.5C1258.4 630 1263.3 639.1 1264.2 647C1265.2 654.8 1265.2 663.9 1262.3 670.4C1259.4 676.9 1253.8 684.4 1246.7 686C1239.5 687.6 1229.1 682.7 1219.3 680.1C1209.6 677.5 1198.5 673.3 1188.1 670.4C1177.7 667.5 1166.6 666.5 1156.9 662.6C1147.1 658.7 1138 652.8 1129.5 647C1121.1 641.1 1112.6 634.6 1106.1 627.4C1099.6 620.3 1093.7 612.5 1090.5 604C1087.2 595.5 1089.2 585.1 1086.6 576.7C1084 568.2 1080.7 559.1 1074.9 553.2C1069 547.4 1060.5 544.8 1051.4 541.5C1042.3 538.3 1030 537.6 1020.2 533.7C1010.4 529.8 1001.3 524 992.9 518.1C984.4 512.2 977.2 504.8 969.4 498.6C961.6 492.4 954.5 485.6 946 481C937.5 476.4 928.4 474.8 918.7 471.2C908.9 467.7 896.5 463.4 887.4 459.5C878.3 455.6 870.5 451.9 864 447.8C857.5 443.7 852.9 441.6 848.4 434.9C843.8 428.1 840.2 417.9 836.7 407.5C833.1 397.1 828.9 383.4 826.9 372.4C825 361.3 824.3 351.6 825 341.1C825.6 330.7 831.1 320.3 830.8 309.9C830.5 299.5 826.3 289.1 823 278.7C819.7 268.3 814.7 257.8 811.3 247.4C807.8 237 803.8 225.3 802.3 216.2C800.8 207.1 800.8 199.9 802.3 192.8Z"/>
<path d="M813.2 463.4C816.8 461.5 823 460.2 828.9 461.5C834.7 462.8 842.5 466.4 848.4 471.2C854.2 476.1 859.8 483 864 490.8C868.2 498.6 872.5 508.3 873.8 518.1C875.1 527.9 873.4 540.2 871.8 549.3C870.2 558.4 867.9 567.9 864 572.8C860.1 577.6 852.9 579.3 848.4 578.6C843.8 578 840.6 574.4 836.7 568.9C832.8 563.3 828.5 553.9 825 545.4C821.4 537 818.3 527.2 815.2 518.1C812.1 509 807.5 498.2 806.2 490.8C804.9 483.3 806.2 477.7 807.4 473.2C808.6 468.6 809.7 465.4 813.2 463.4Z"/>
</g>
<rect x="1246.3" y="414.7" width="239.5" height="206" fill="none" stroke="#000" stroke-width="5.5"/>
<path d="M798.4 161.1L778.1 101.8L789.5 98L759 83L744 113.5L755.4 109.6L775.6 168.9Z" fill="#000"/>
<rect x="738.5" y="740" width="105" height="73.4" fill="rgba(255,255,255,0.8)"/>
<text x="791" y="789.3" text-anchor="middle" style="font-family:'Liberation Serif','DejaVu Serif',serif;font-size:42px;fill:#111;stroke:#111;stroke-width:0.7px">(a)</text>
<path d="M1415 698L1380 548.5M1371.8 580L1380 548.5L1403.3 575.3" stroke="#000" stroke-width="5.5" fill="none" stroke-linejoin="miter"/>
<rect x="1269" y="698" width="219" height="118" fill="#fdfcfe" stroke="#3a2a2a" stroke-width="2"/>
<text class="s" x="1378" y="746.7" font-size="42px" text-anchor="middle" textLength="113" lengthAdjust="spacingAndGlyphs">Storm</text>
<text class="s" x="1378" y="794.3" font-size="42px" text-anchor="middle" textLength="127" lengthAdjust="spacingAndGlyphs">Inflow</text>
<rect x="713" y="67.3" width="792" height="767" fill="none" stroke="#777" stroke-width="2"/>
<text class="t" x="713" y="867.3" text-anchor="middle">10</text>
<text class="t" x="874.6" y="867.3" text-anchor="middle">15</text>
<text class="t" x="1036.3" y="867.3" text-anchor="middle">20</text>
<text class="t" x="1197.9" y="867.3" text-anchor="middle">25</text>
<text class="t" x="1359.5" y="867.3" text-anchor="middle">30</text>
<text class="t" x="697" y="842.3" text-anchor="end">10</text>
<text class="t" x="697" y="712.3" text-anchor="end">15</text>
<text class="t" x="697" y="582.3" text-anchor="end">20</text>
<text class="t" x="697" y="452.3" text-anchor="end">25</text>
<text class="t" x="697" y="322.3" text-anchor="end">30</text>
<text class="t" x="697" y="192.3" text-anchor="end">35</text>
<path d="M713 834.3v8M874.6 834.3v8M1036.3 834.3v8M1197.9 834.3v8M1359.5 834.3v8M713 834.3h-8M713 704.3h-8M713 574.3h-8M713 444.3h-8M713 314.3h-8M713 184.3h-8" stroke="#444" stroke-width="2" fill="none"/>
<text class="l" x="1109" y="904.3" text-anchor="middle" textLength="345" lengthAdjust="spacingAndGlyphs">W-E distance to CDV [km]</text>
<text class="l" transform="translate(647 450.8) rotate(-90)" text-anchor="middle" textLength="345" lengthAdjust="spacingAndGlyphs">S-N distance to CDV [km]</text>
<text class="l" x="892.6" y="53.3" textLength="431" lengthAdjust="spacingAndGlyphs">2018-01-07 00:42 UTC Z=1.0km</text>
<path d="M1415.5 45h20" stroke="#000" stroke-width="2.2" fill="none"/><path d="M1444.5 45l-9 -4.5v9z" fill="#000"/>
<text class="l" x="1464.5" y="54">10<tspan font-style="italic">m·s</tspan><tspan dy="-11" font-size="18.5px">−1</tspan></text>
<rect x="1553" y="67.3" width="40.3" height="767" fill="url(#gnws)" stroke="#444" stroke-width="1.5"/>
<text class="t" x="1608.3" y="842.3">0</text>
<text class="t" x="1608.3" y="783.3">5</text>
<text class="t" x="1608.3" y="724.3">10</text>
<text class="t" x="1608.3" y="665.3">15</text>
<text class="t" x="1608.3" y="606.3">20</text>
<text class="t" x="1608.3" y="547.3">25</text>
<text class="t" x="1608.3" y="488.3">30</text>
<text class="t" x="1608.3" y="429.3">35</text>
<text class="t" x="1608.3" y="370.3">40</text>
<text class="t" x="1608.3" y="311.3">45</text>
<text class="t" x="1608.3" y="252.3">50</text>
<text class="t" x="1608.3" y="193.3">55</text>
<text class="t" x="1608.3" y="134.3">60</text>
<path d="M1593.3 834.3h8M1593.3 775.3h8M1593.3 716.3h8M1593.3 657.3h8M1593.3 598.3h8M1593.3 539.3h8M1593.3 480.3h8M1593.3 421.3h8M1593.3 362.3h8M1593.3 303.3h8M1593.3 244.3h8M1593.3 185.3h8M1593.3 126.3h8" stroke="#444" stroke-width="2" fill="none"/>
<text class="t" transform="translate(1657 450.8) rotate(-90)" text-anchor="middle">Reflectivity [dBZ]</text>
<g clip-path="url(#clipB)">
<g filter="url(#nws)">
<rect x="50" y="946.3" width="913.3" height="888" fill="#4e4e4e"/>
<g filter="url(#b14)">
<path fill="#585858" d="M25 920L588.3 920C588.3 920 580.6 1005.6 565 1025C549.4 1044.4 515 1029.7 495 1036.7C475 1043.7 461.1 1060.8 445 1067C428.9 1073.2 413.9 1075.2 398.4 1074C382.8 1072.8 367.2 1065.1 351.7 1060C336.1 1054.9 320.6 1047.6 305 1043.7C289.5 1039.8 273.9 1036.7 258.3 1036.7C242.8 1036.7 225.3 1038.6 211.7 1043.7C198.1 1048.7 186.4 1056.5 176.7 1067C167 1077.5 159.2 1092.3 153.3 1106.7C147.5 1121.1 163.1 1145.6 141.7 1153.3C120.3 1161.1 25 1153.3 25 1153.3L25 920Z"/>
<path fill="#3f3f3f" d="M25 1130C25 1130 90.7 1130.8 110.2 1134.7C129.6 1138.6 131.4 1142.5 141.7 1153.3C152 1164.2 165 1184.5 172 1200C179 1215.6 183.7 1231.1 183.7 1246.7C183.7 1262.2 177.1 1277.8 172 1293.4C167 1308.9 157.2 1322.3 153.3 1340C149.4 1357.8 148.7 1381.7 148.7 1400C148.7 1418.3 150.6 1433.9 153.3 1450C156.1 1466.1 157.2 1483.1 165 1496.7C172.8 1510.3 188.3 1520 200 1531.7C211.7 1543.3 228.4 1553.1 235 1566.7C241.6 1580.3 238.1 1597.8 239.7 1613.4C241.2 1628.9 237.3 1644.5 244.3 1660C251.3 1675.6 263.8 1695 281.7 1706.7C299.6 1718.4 332.2 1723 351.7 1730C371.1 1737 384.7 1705.9 398.4 1748.7C412 1791.5 433.4 1986.7 433.4 1986.7L25 1986.7L25 1130Z"/>
<path fill="#3f3f3f" d="M646.7 920C646.7 920 648.6 985.3 658.3 1008.7C668.1 1032 693.3 1045.6 705 1060C716.7 1074.4 716.7 1086.5 728.4 1095C740 1103.6 759.5 1103.6 775 1111.3C790.6 1119.1 806.1 1131.6 821.7 1141.7C837.3 1151.8 821.7 1164.2 868.4 1172C915 1179.8 1101.7 1188.3 1101.7 1188.3L1101.7 920L646.7 920Z"/>
<path fill="#3f3f3f" d="M763.4 1368.3C710.9 1374.2 784.7 1389.7 786.7 1403.3C788.6 1416.9 780.1 1434.4 775 1450C770 1465.6 763.4 1481.9 756.4 1496.7C749.4 1511.5 740.4 1525.1 733 1538.7C725.6 1552.3 715.9 1562 712 1578.3C708.1 1594.7 707.7 1619.2 709.7 1636.7C711.6 1654.2 718.6 1667.8 723.7 1683.4C728.7 1698.9 735.4 1679.5 740 1730C744.7 1780.6 751.7 1986.7 751.7 1986.7L1101.7 1986.7L1101.7 1368.3C1101.7 1368.3 815.9 1362.5 763.4 1368.3Z"/>
</g>
<g filter="url(#b12)">
<path fill="#3f3f3f" d="M728.4 1340C730.3 1326.4 751.7 1308.9 763.4 1305C775 1301.1 790.6 1308.9 798.4 1316.7C806.1 1324.5 812 1340 810 1351.7C808.1 1363.4 796.4 1380.9 786.7 1386.7C777 1392.5 761.4 1394.5 751.7 1386.7C742 1378.9 726.4 1353.6 728.4 1340Z"/>
<path fill="#646464" d="M495 920L616.3 920C616.3 920 615.6 1005.6 607 1025C598.5 1044.4 581.7 1035.5 565 1036.7C548.3 1037.8 518.3 1051.4 506.7 1032C495 1012.6 495 920 495 920Z"/>
</g>
<g filter="url(#b14)">
<path fill="#626262" d="M160.3 1397.5L161.8 1408.4L170.6 1413.7L179.4 1411L185.7 1400.2L207.3 1406L250.4 1401.7L284.5 1411L363 1463.9L419.1 1490.5L460.5 1522.6L471.8 1534.3L481.5 1564L498 1579.9L577.6 1621.9L634.1 1639.3L651.1 1635.9L662.8 1626.8L675.5 1606.3L691.4 1555.2L727.3 1532.9L745.9 1511.8L763.6 1476.1L776.1 1423.6L772 1405.6L752 1386.6L752.5 1361.3L765.2 1308.2L765.3 1283.5L756.4 1249.3L734.7 1211.3L646.1 1106.9L553 1051.7L519 1043.3L486.1 1046.2L429.7 1068.6L380.5 1077.4L337 1073L239.2 1044.3L213.5 1046L194.2 1057.1L181.1 1079.5L170.2 1140.2L170.4 1189.3L181.1 1248.3L183.4 1292.8L176.6 1337.4Z"/>
</g>
<g filter="url(#b12)">
<path fill="#727272" d="M188.4 1377.8L207.4 1384L253.1 1379.9L295.1 1391.8L374.1 1444.9L430.8 1471.8L474.2 1505.3L488.6 1519.5L500.3 1552.5L510.1 1561.5L580.9 1599.2L631.6 1617.1L643.1 1615.1L651.9 1604.9L673.7 1542.1L713.6 1515.6L729.9 1496L744.2 1464.7L754.1 1422.3L736.4 1405.1L730.3 1390.3L730.1 1361.9L743.8 1289.7L736.1 1257.8L720 1228.9L681.2 1177.7L632.8 1124.5L548.5 1074.1L517.8 1065.2L491.6 1067.6L423.9 1093.1L381 1099.4L332 1094.4L241.5 1066.8L222.8 1066.3L209.4 1073.1L200 1094.1L191.6 1148.1L192.4 1187.4L205.5 1287.6L200.8 1329.3Z"/>
</g>
<g filter="url(#b14)">
<path fill="#7c7c7c" d="M218.9 1358.3L261.7 1356.9L307.2 1371L386.4 1424.3L443.2 1451.3L489.4 1486.7L509.1 1507L523.6 1541.7L591 1577.4L631.3 1592.6L650.8 1533.4L663 1518.8L704.1 1491.3L718.9 1464.3L728.6 1430L712 1411.3L706 1389.8L706.4 1358.3L720 1294.3L716.2 1273.2L705.4 1250.6L667 1198.1L619.7 1144.8L536.9 1095.1L519.7 1089.6L498.1 1090.7L423.9 1117.8L375.6 1123.5L332.5 1119.2L254 1094.1L226.2 1090.2L215.3 1154.7L229.6 1281Z"/>
<path fill="#646464" d="M179 1345C200.4 1329.4 288.3 1327.5 309.7 1345C331.1 1362.5 309.7 1424.7 307.4 1450C305 1475.3 301.5 1482.7 295.7 1496.7C289.8 1510.7 280.5 1525.8 272.3 1534C264.2 1542.2 255.2 1547.6 246.7 1545.7C238.1 1543.7 229.2 1532.5 221 1522.3C212.8 1512.2 204.3 1499 197.7 1485C191.1 1471 184.5 1461.7 181.3 1438.3C178.2 1415 157.6 1360.6 179 1345Z"/>
</g>
<g filter="url(#b12)">
<path fill="#6f6f6f" d="M204.7 1345C219.1 1333.3 279.3 1329.4 293.3 1345C307.4 1360.6 291.4 1416.2 288.7 1438.3C286 1460.5 282.1 1467.5 277 1478C272 1488.5 264.6 1499 258.3 1501.3C252.1 1503.7 245.9 1498.6 239.7 1492C233.5 1485.4 226.5 1474.5 221 1461.7C215.6 1448.8 209.7 1434.4 207 1415C204.3 1395.6 190.3 1356.7 204.7 1345Z"/>
</g>
<g filter="url(#b16)">
<path fill="#414141" d="M700.4 1088C708.1 1081 733.4 1079.5 751.7 1083.3C770 1087.2 790.6 1101.6 810 1111.3C829.5 1121.1 854 1130.8 868.4 1141.7C882.8 1152.6 894.4 1166.2 896.4 1176.7C898.3 1187.2 890.5 1200.8 880 1204.7C869.5 1208.6 848.9 1204.7 833.4 1200C817.8 1195.4 802.2 1184.5 786.7 1176.7C771.1 1168.9 753.6 1161.9 740 1153.3C726.4 1144.8 711.6 1136.2 705 1125.3C698.4 1114.5 692.6 1095 700.4 1088Z"/>
</g>
<g filter="url(#b13)">
<path fill="#666666" d="M817 1223.4C823.2 1214.8 839.2 1205.9 849.7 1207C860.2 1208.2 873.8 1217.9 880 1230.4C886.3 1242.8 888.2 1266.5 887 1281.7C885.9 1296.9 880.8 1313.6 873 1321.4C865.3 1329.1 849.3 1332.3 840.4 1328.4C831.4 1324.5 824 1309.7 819.4 1298C814.7 1286.4 812.7 1270.8 812.4 1258.4C812 1245.9 810.8 1231.9 817 1223.4Z"/>
</g>
<g filter="url(#b14)">
<path fill="#626262" d="M425 1692.7C421.7 1691.5 475.6 1693.1 495 1695C514.4 1697 526.1 1699.7 541.7 1704.4C557.2 1709 572.8 1716.8 588.3 1723C603.9 1729.3 621 1735.1 635 1741.7C649 1748.3 663.8 1721.9 672.3 1762.7C680.9 1803.5 686.3 1986.7 686.3 1986.7L456.7 1986.7C456.7 1986.7 455.1 1798.1 459 1753.4C462.9 1708.6 470.7 1726.9 480 1718.4C489.4 1709.8 524.2 1706.3 515 1702C505.9 1697.7 428.3 1693.9 425 1692.7Z"/>
</g>
<g filter="url(#b12)">
<path fill="#747474" d="M425 1706.7C421.7 1705.5 475.6 1707.1 495 1709C514.4 1711 526.1 1713.7 541.7 1718.4C557.2 1723 572.8 1730.4 588.3 1737C603.9 1743.6 623.3 1716.4 635 1758C646.7 1799.6 658.3 1986.7 658.3 1986.7L473 1986.7C473 1986.7 473.8 1796.1 477.7 1753.4C481.6 1710.6 490.1 1736.3 496.4 1730C502.6 1723.8 526.9 1719.9 515 1716C503.1 1712.1 428.3 1707.9 425 1706.7Z"/>
<path fill="#7e7e7e" d="M506.7 1753.4C514.4 1713.7 530 1746.8 541.7 1748.7C553.3 1750.6 568.9 1725.4 576.7 1765C584.5 1804.7 588.3 1986.7 588.3 1986.7L495 1986.7C495 1986.7 498.9 1793 506.7 1753.4Z"/>
</g>
<g filter="url(#b14)">
<path fill="#818181" d="M232.7 1162.6L209.2 1263.4L211.6 1305.8L228.3 1339.1L264.9 1369.8L351.5 1414.9L407.7 1451.2L472.8 1473.6L502.1 1503.5L531.1 1517.6L598.2 1528.6L641 1541L672.2 1542.2L708.3 1529.3L741.7 1495.3L753.3 1461.4L753.9 1430.9L743 1400.4L721.6 1372L747 1300.6L746.8 1280.2L739.4 1257L714.1 1227.7L669.3 1201.8L608.4 1149.8L542.4 1106.7L523.1 1099.5L499.9 1099.8L478.6 1107.6L462.3 1122L448.1 1146.6L441.4 1200.1L420.1 1257.7L381.5 1184.3L359.2 1166.7L330.3 1154.3L280 1141.6L254.3 1143.9Z"/>
</g>
<g filter="url(#b10)">
<path fill="#8f8f8f" d="M249.7 1175.2L230.1 1265.6L231.3 1297.5L244.3 1325.5L272 1349.6L361.9 1396.6L417 1432.4L455.7 1443.5L482.8 1455.1L492.6 1461.7L514.3 1486.4L536.1 1497.2L602.5 1508.1L641.2 1519.7L666.6 1521.6L696 1512.3L723.4 1484.9L732.7 1457.5L732.8 1431.9L721 1404.3L703.1 1385.4L700.6 1372.4L704.5 1349.8L725.8 1299.7L726.2 1283.9L720.4 1266L701.6 1244.6L657.2 1218.9L595.9 1166.7L566.6 1150.8L534.6 1126.5L518.9 1120.1L500.6 1121.1L487 1127.2L474.1 1141.1L467.2 1156.4L463.6 1196.3L458.2 1216.6L437.1 1270.6L425.4 1279.5L413.4 1278L403.3 1270.6L370 1203.5L357.6 1190.8L337.4 1179.2L287 1164.3L263.8 1162.9L256.2 1166.8Z"/>
</g>
<g filter="url(#b14)">
<path fill="#9d9d9d" d="M270 1258.4C277.8 1251.4 301.1 1252.5 316.7 1258.4C332.2 1264.2 347.8 1281.7 363.4 1293.4C378.9 1305 394.5 1320.6 410 1328.4C425.6 1336.1 450.9 1330.3 456.7 1340C462.5 1349.8 454.8 1380.9 445 1386.7C435.3 1392.5 413.9 1380.9 398.4 1375C382.8 1369.2 367.2 1359.5 351.7 1351.7C336.1 1343.9 318.6 1336.9 305 1328.4C291.4 1319.8 275.8 1312 270 1300.4C264.2 1288.7 262.2 1265.4 270 1258.4Z"/>
</g>
<g filter="url(#b12)">
<path fill="#a9a9a9" d="M495 1223.4C506.4 1217.5 526.1 1211.7 541.7 1211.7C557.2 1211.7 572.8 1218.3 588.3 1223.4C603.9 1228.4 619.5 1236.2 635 1242C650.6 1247.9 670 1251.7 681.7 1258.4C693.3 1265 700.7 1272 705 1281.7C709.3 1291.4 708.9 1305 707.4 1316.7C705.8 1328.4 698.8 1340 695.7 1351.7C692.6 1363.4 687.1 1376.1 688.7 1386.7C690.2 1397.3 700.4 1405.2 705 1415C709.7 1424.8 715.5 1435.6 716.7 1445.3C717.9 1455.1 715.1 1465.6 712 1473.3C708.9 1481.1 703.9 1487 698 1492C692.2 1497.1 685.6 1501.3 677 1503.7C668.5 1506 657.6 1507.2 646.7 1506C635.8 1504.8 623.3 1499.4 611.7 1496.7C600 1494 588.3 1492 576.7 1489.7C565 1487.3 552.2 1486.2 541.7 1482.7C531.2 1479.2 520.1 1476.1 513.7 1468.7C507.3 1461.3 509 1447.3 503.4 1438.3C497.8 1429.4 485.9 1424.7 480 1415C474.2 1405.3 472.3 1388.6 468.4 1380C464.5 1371.4 460.6 1372 456.7 1363.4C452.8 1354.8 445 1342 445 1328.4C445 1314.7 452 1295.3 456.7 1281.7C461.4 1268.1 466.6 1256.4 473 1246.7C479.4 1237 483.6 1229.2 495 1223.4Z"/>
</g>
<g filter="url(#b16)">
<path fill="#b4b4b4" d="M541.7 1281.7C559.2 1275.9 590.3 1277.8 611.7 1281.7C633.1 1285.6 658.3 1293.4 670 1305C681.7 1316.7 681.7 1338.1 681.7 1351.7C681.7 1365.3 670 1376.1 670 1386.7C670 1397.3 679 1404.5 681.7 1415C684.4 1425.6 690.2 1439.5 686.3 1450C682.5 1460.5 670.8 1474.1 658.3 1478C645.9 1481.9 627.2 1476.1 611.7 1473.3C596.1 1470.6 578.6 1467.5 565 1461.7C551.4 1455.8 541.7 1454.7 530 1438.3C518.3 1422 498.9 1383.6 495 1363.4C491.1 1343.1 498.9 1330.3 506.7 1316.7C514.4 1303.1 524.2 1287.5 541.7 1281.7Z"/>
</g>
<g filter="url(#b10)">
<path fill="#232323" d="M25 1167.3C25 1167.3 92.7 1167.3 110.2 1169.7C127.7 1172 123.6 1175.5 130 1181.3C136.4 1187.2 143.6 1195.7 148.7 1204.7C153.7 1213.6 159.6 1226.9 160.3 1235C161.1 1243.2 158.4 1249.8 153.3 1253.7C148.3 1257.6 137.2 1256.4 130 1258.4C122.8 1260.3 127.7 1263.4 110.2 1265.4C92.7 1267.3 25 1270 25 1270L25 1167.3Z"/>
</g>
<g filter="url(#b8)">
<path fill="#181818" d="M25 1195.4C25 1195.4 97.7 1196.9 113.7 1200C129.6 1203.1 120.7 1209.4 120.7 1214C120.7 1218.7 129.6 1224.9 113.7 1228C97.7 1231.1 25 1232.7 25 1232.7L25 1195.4Z"/>
</g>
<g filter="url(#b10)">
<path fill="#272727" d="M25 1464C25 1464 98.9 1465.2 116 1468.7C133.1 1472.2 126.5 1479.2 127.7 1485C128.8 1490.8 125.7 1499 123 1503.7C120.3 1508.3 127.7 1511.1 111.3 1513C95 1515 25 1515.3 25 1515.3L25 1464Z"/>
<path fill="#232323" d="M139.3 1559.7C142.8 1553.1 155.7 1552.3 165 1555C174.3 1557.7 187.4 1567.1 195.3 1576C203.3 1585 209.5 1598.2 212.8 1608.7C216.1 1619.2 216.9 1630.5 215.2 1639C213.4 1647.6 207.6 1657.7 202.3 1660C197.1 1662.4 190.7 1658.5 183.7 1653C176.7 1647.6 167 1637.1 160.3 1627.4C153.7 1617.6 147.5 1606 144 1594.7C140.5 1583.4 135.8 1566.3 139.3 1559.7Z"/>
</g>
<g filter="url(#b8)">
<path fill="#121212" d="M165 1585.4C167 1581.1 175.1 1580.3 179 1583C182.9 1585.7 186.8 1595.9 188.3 1601.7C189.9 1607.5 189.9 1614.5 188.3 1618C186.8 1621.5 182.5 1624.2 179 1622.7C175.5 1621.1 169.7 1614.9 167.3 1608.7C165 1602.5 163.1 1589.6 165 1585.4Z"/>
</g>
<g filter="url(#b10)">
<path fill="#232323" d="M25 1762.7C25 1762.7 98.9 1761.1 118.3 1762.7C137.8 1764.3 135.8 1734.7 141.7 1772C147.5 1809.4 153.3 1986.7 153.3 1986.7L25 1986.7L25 1762.7Z"/>
<path fill="#232323" d="M211.7 1986.7C211.7 1986.7 217.1 1810.1 221 1772C224.9 1733.9 224.9 1761.1 235 1758C245.1 1754.9 268.1 1752.6 281.7 1753.4C295.3 1754.1 308.9 1758.8 316.7 1762.7C324.5 1766.6 325.6 1739.4 328.4 1776.7C331.1 1814 333 1986.7 333 1986.7L211.7 1986.7Z"/>
</g>
<g filter="url(#b12)">
<path fill="#232323" d="M728.4 920C728.4 920 720.6 989.6 728.4 1006.3C736.1 1023.1 757.5 1016.4 775 1020.3C792.5 1024.2 817.8 1023.1 833.4 1029.7C848.9 1036.3 860.6 1047.2 868.4 1060C876.1 1072.8 876.1 1095 880 1106.7C883.9 1118.3 854.8 1122.2 891.7 1130C928.6 1137.8 1101.7 1153.3 1101.7 1153.3L1101.7 920L728.4 920Z"/>
<path fill="#141414" d="M880 920C880 920 878.1 991.9 880 1013.3C882 1034.7 889 1036.7 891.7 1048.3C894.4 1060 861.4 1075.6 896.4 1083.3C931.4 1091.1 1101.7 1095 1101.7 1095L1101.7 920L880 920Z"/>
<path fill="#232323" d="M782 1354C788.2 1350.9 807.3 1357.9 821.7 1361C836.1 1364.1 821.7 1371.5 868.4 1372.7C915 1373.9 1101.7 1368 1101.7 1368L1101.7 1986.7L765.7 1986.7C765.7 1986.7 765.7 1817.1 763.4 1774.4C761 1731.6 756.4 1745.2 751.7 1730C747 1714.9 740.8 1698.9 735.4 1683.4C729.9 1667.8 721.7 1652.2 719 1636.7C716.3 1621.1 716.7 1605.6 719 1590C721.4 1574.5 726.8 1558.9 733 1543.3C739.2 1527.8 749.4 1512.2 756.4 1496.7C763.4 1481.1 770 1463.6 775 1450C780.1 1436.4 785.1 1426.7 786.7 1415C788.2 1403.3 785.1 1390.2 784.4 1380C783.6 1369.8 775.8 1357.2 782 1354Z"/>
<path fill="#141414" d="M803 1384.7C810 1380 795.2 1380 845 1387C894.8 1394 1101.7 1426.7 1101.7 1426.7L1101.7 1986.7L786.7 1986.7C786.7 1986.7 786.7 1817.1 784.4 1774.4C782 1731.6 777.4 1745.2 772.7 1730C768 1714.9 761.4 1698.9 756.4 1683.4C751.3 1667.8 744.7 1652.2 742.4 1636.7C740 1621.1 740.4 1605.6 742.4 1590C744.3 1574.5 748.6 1558.9 754 1543.3C759.5 1527.8 768.4 1512.2 775 1496.7C781.6 1481.1 789 1463.6 793.7 1450C798.4 1436.4 801.5 1425.9 803 1415C804.6 1404.1 796 1389.3 803 1384.7Z"/>
</g>
<g filter="url(#b10)">
<path fill="#040404" d="M817 1394C822.1 1388.9 797.6 1388.9 845 1396.3C892.5 1403.7 1101.7 1438.3 1101.7 1438.3L1101.7 1986.7L798.4 1986.7C798.4 1986.7 798 1817.1 796 1774.4C794.1 1731.6 790.2 1745.2 786.7 1730C783.2 1714.9 778.9 1698.9 775 1683.4C771.1 1667.8 765.3 1652.2 763.4 1636.7C761.4 1621.1 761.8 1605.6 763.4 1590C764.9 1574.5 768.4 1558.1 772.7 1543.3C777 1528.6 783.6 1515 789 1501.3C794.5 1487.7 801.1 1474.1 805.4 1461.7C809.6 1449.2 812.7 1437.9 814.7 1426.7C816.6 1415.4 812 1399.1 817 1394Z"/>
</g>
</g>
<g filter="url(#b2)" fill="#fff">
<path d="M828.7 1401C824.8 1405.7 823.6 1417.3 821.7 1426.7C819.7 1436 820.9 1447.3 817 1457C813.1 1466.7 802.6 1474.5 798.4 1485C794.1 1495.5 793.7 1508.3 791.4 1520C789 1531.7 787.1 1543.3 784.4 1555C781.6 1566.7 775.8 1581.1 775 1590C774.2 1599 773.9 1605.2 779.7 1608.7C785.5 1612.2 799.1 1610.2 810 1611C820.9 1611.8 836.1 1611 845 1613.4C854 1615.7 859.8 1620 863.7 1625C867.6 1630.1 869.1 1637.1 868.4 1643.7C867.6 1650.3 864.9 1660 859 1664.7C853.2 1669.4 841.5 1669.4 833.4 1671.7C825.2 1674 815.9 1673.6 810 1678.7C804.2 1683.7 800.7 1693.5 798.4 1702C796 1710.6 795.2 1721.5 796 1730C796.8 1738.6 799.5 1746 803 1753.4C806.5 1760.8 813.9 1758.8 817 1774.4C820.1 1789.9 821.7 1846.7 821.7 1846.7L877.7 1846.7C877.7 1846.7 875.4 1790.7 880 1774.4C884.7 1758 899.9 1753 905.7 1748.7C911.5 1744.4 915 1748.7 915 1748.7L915 1431.3C915 1431.3 899.5 1430.2 891.7 1426.7C883.9 1423.2 876.1 1415 868.4 1410.3C860.6 1405.7 851.6 1400.2 845 1398.7C838.4 1397.1 832.6 1396.3 828.7 1401Z"/>
</g>
<g filter="url(#b2)" fill="rgb(0,236,236)">
<path d="M875.4 1543.3C878.5 1544.9 882.8 1555 884.7 1562C886.6 1569 887.8 1579.1 887 1585.4C886.3 1591.6 883.5 1597.8 880 1599.4C876.5 1600.9 868.9 1599 866 1594.7C863.1 1590.4 862.5 1580.7 862.5 1573.7C862.5 1566.7 863.9 1557.7 866 1552.7C868.2 1547.6 872.3 1541.8 875.4 1543.3Z"/>
</g>
</g>
<g clip-path="url(#clipB)"><path d="M110 1774.3L90.4 1737M142.4 1774.3L121.9 1737.2M174.8 1774.3L153.7 1737.3M207.1 1774.3L185.7 1737.3M239.5 1774.3L217.7 1737.3M271.9 1774.3L249.9 1737.3M304.3 1774.3L282.1 1737.2M336.7 1774.3L314.3 1737.1M369 1774.3L346.5 1737.1M401.4 1774.3L378.8 1737M433.8 1774.3L411 1736.9M466.2 1774.3L443.3 1736.9M498.6 1774.3L475.7 1736.9M530.9 1774.3L508.1 1736.8M563.3 1774.3L540.6 1736.7M595.7 1774.3L573.2 1736.6M628.1 1774.3L605.9 1736.5M660.5 1774.3L638.7 1736.5M692.8 1774.3L671.6 1736.5M725.2 1774.3L704.5 1736.5M757.6 1774.3L737.4 1736.5M790 1774.3L770.3 1736.5M822.4 1774.3L803.2 1736.4M854.7 1774.3L835.9 1736.4M887.1 1774.3L868.6 1736.3M110 1748.3L90.8 1711.1M142.4 1748.3L122.3 1711.3M174.8 1748.3L154 1711.3M207.1 1748.3L185.9 1711.4M239.5 1748.3L218 1711.4M271.9 1748.3L250.1 1711.3M304.3 1748.3L282.3 1711.3M336.7 1748.3L314.5 1711.2M369 1748.3L346.7 1711.1M401.4 1748.3L378.9 1711M433.8 1748.3L411.1 1711.1M466.2 1748.3L443.4 1711.1M498.6 1748.3L475.7 1711.2M530.9 1748.3L508.1 1711.2M563.3 1748.3L540.5 1711M595.7 1748.3L573 1710.8M628.1 1748.3L605.7 1710.7M660.5 1748.3L638.6 1710.7M692.8 1748.3L671.5 1710.8M725.2 1748.3L704.5 1710.8M757.6 1748.3L737.5 1710.9M790 1748.3L770.4 1710.9M822.4 1748.3L803.3 1710.9M854.7 1748.3L836.1 1710.8M887.1 1748.3L868.8 1710.8M110 1722.2L91.3 1685.2M142.4 1722.2L122.8 1685.3M174.8 1722.2L154.4 1685.4M207.1 1722.2L186.3 1685.4M239.5 1722.2L218.3 1685.4M271.9 1722.2L250.3 1685.3M304.3 1722.2L282.5 1685.2M336.7 1722.2L314.7 1685.1M369 1722.2L346.9 1685M401.4 1722.2L379 1685M433.8 1722.2L411.2 1685.1M466.2 1722.2L443.4 1685.3M498.6 1722.2L475.7 1685.5M530.9 1722.2L508.1 1685.6M563.3 1722.2L540.4 1685.4M595.7 1722.2L572.9 1685.1M628.1 1722.2L605.6 1684.9M660.5 1722.2L638.4 1684.9M692.8 1722.2L671.4 1685M725.2 1722.2L704.4 1685.1M757.6 1722.2L737.4 1685.2M790 1722.2L770.4 1685.3M822.4 1722.2L803.4 1685.4M854.7 1722.2L836.3 1685.4M887.1 1722.2L869 1685.5M110 1696.2L91.9 1659.2M142.4 1696.2L123.4 1659.3M174.8 1696.2L154.9 1659.4M207.1 1696.2L186.7 1659.4M239.5 1696.2L218.5 1659.4M271.9 1696.2L250.6 1659.3M304.3 1696.2L282.7 1659.1M336.7 1696.2L314.9 1658.9M369 1696.2L347 1658.8M401.4 1696.2L379.1 1658.8M433.8 1696.2L411.3 1659.1M466.2 1696.2L443.5 1659.5M498.6 1696.2L475.8 1659.9M530.9 1696.2L508.1 1660M563.3 1696.2L540.4 1659.8M595.7 1696.2L572.8 1659.4M628.1 1696.2L605.4 1659.1M660.5 1696.2L638.2 1659M692.8 1696.2L671.2 1659M725.2 1696.2L704.2 1659.2M757.6 1696.2L737.3 1659.4M790 1696.2L770.4 1659.7M822.4 1696.2L803.4 1660M854.7 1696.2L836.4 1660.2M887.1 1696.2L869.1 1660.3M110 1670.2L92.6 1633.4M142.4 1670.2L123.9 1633.4M174.8 1670.2L155.4 1633.5M207.1 1670.2L187 1633.5M239.5 1670.2L218.8 1633.4M271.9 1670.2L250.7 1633.2M304.3 1670.2L282.8 1632.9M336.7 1670.2L315 1632.5M369 1670.2L347.1 1632.3M401.4 1670.2L379.2 1632.4M433.8 1670.2L411.3 1632.8M466.2 1670.2L443.5 1633.4M498.6 1670.2L475.8 1634.1M530.9 1670.2L508.2 1634.5M563.3 1670.2L540.4 1634.2M595.7 1670.2L572.6 1633.6M628.1 1670.2L605.1 1633.1M660.5 1670.2L637.9 1632.9M692.8 1670.2L670.8 1633M725.2 1670.2L703.9 1633.2M757.6 1670.2L737 1633.6M790 1670.2L770.2 1634.1M822.4 1670.2L803.4 1634.6M854.7 1670.2L836.4 1635M887.1 1670.2L869.2 1635.2M110 1644.1L93.2 1607.8M142.4 1644.1L124.4 1607.8M174.8 1644.1L155.8 1607.7M207.1 1644.1L187.2 1607.6M239.5 1644.1L218.9 1607.4M271.9 1644.1L250.8 1607M304.3 1644.1L282.9 1606.5M336.7 1644.1L315.1 1606M369 1644.1L347.3 1605.7M401.4 1644.1L379.4 1605.8M433.8 1644.1L411.4 1606.2M466.2 1644.1L443.4 1607M498.6 1644.1L475.7 1607.9M530.9 1644.1L508.1 1608.6M563.3 1644.1L540.2 1608.2M595.7 1644.1L572.3 1607.5M628.1 1644.1L604.7 1607M660.5 1644.1L637.4 1606.7M692.8 1644.1L670.3 1606.8M725.2 1644.1L703.4 1607.1M757.6 1644.1L736.6 1607.7M790 1644.1L770 1608.5M822.4 1644.1L803.3 1609.3M854.7 1644.1L836.5 1610M887.1 1644.1L869.3 1610.3M110 1618.1L93.7 1582.2M142.4 1618.1L124.8 1582.3M174.8 1618.1L156.1 1582.1M207.1 1618.1L187.4 1581.7M239.5 1618.1L219 1581.3M271.9 1618.1L250.9 1580.7M304.3 1618.1L282.9 1580M336.7 1618.1L315.2 1579.4M369 1618.1L347.5 1579M401.4 1618.1L379.6 1579M433.8 1618.1L411.5 1579.4M466.2 1618.1L443.4 1580.2M498.6 1618.1L475.5 1581.2M530.9 1618.1L507.7 1581.8M563.3 1618.1L539.8 1581.7M595.7 1618.1L572 1581.3M628.1 1618.1L604.5 1580.9M660.5 1618.1L637.1 1580.7M692.8 1618.1L669.9 1580.7M725.2 1618.1L703 1581.1M757.6 1618.1L736.3 1581.9M790 1618.1L769.8 1583M822.4 1618.1L803.3 1584.1M854.7 1618.1L836.5 1585M887.1 1618.1L869.3 1585.3M110 1592.1L94.3 1556.7M142.4 1592.1L125.3 1556.8M174.8 1592.1L156.4 1556.4M207.1 1592.1L187.6 1555.9M239.5 1592.1L219 1555.1M271.9 1592.1L250.7 1554.4M304.3 1592.1L282.8 1553.6M336.7 1592.1L315.2 1552.9M369 1592.1L347.6 1552.5M401.4 1592.1L379.8 1552.3M433.8 1592.1L411.6 1552.8M466.2 1592.1L443.3 1553.5M498.6 1592.1L475.2 1554.5M530.9 1592.1L507.3 1555.2M563.3 1592.1L539.6 1555.5M595.7 1592.1L572.1 1555.5M628.1 1592.1L604.8 1555.5M660.5 1592.1L637.4 1555.3M692.8 1592.1L670 1555.2M725.2 1592.1L702.9 1555.6M757.6 1592.1L736.3 1556.4M790 1592.1L769.8 1557.7M822.4 1592.1L803.3 1559.1M854.7 1592.1L836.5 1560.1M887.1 1592.1L869.3 1560.4M110 1566L95 1531.1M142.4 1566L125.8 1531.2M174.8 1566L156.7 1530.7M207.1 1566L187.7 1530M239.5 1566L218.9 1529.1M271.9 1566L250.5 1528.2M304.3 1566L282.6 1527.5M336.7 1566L315 1526.8M369 1566L347.5 1526.3M401.4 1566L380 1526.2M433.8 1566L411.6 1526.7M466.2 1566L443.2 1527.5M498.6 1566L475.2 1528.6M530.9 1566L507.6 1529.7M563.3 1566L540.2 1530.4M595.7 1566L573.1 1530.9M628.1 1566L606.2 1531.4M660.5 1566L639 1531.5M692.8 1566L671.2 1531M725.2 1566L703.7 1531M757.6 1566L736.7 1531.7M790 1566L770 1532.9M822.4 1566L803.4 1534.3M854.7 1566L836.6 1535.4M887.1 1566L869.2 1535.6M110 1540L95.9 1505.2M142.4 1540L126.5 1505.2M174.8 1540L157.2 1504.8M207.1 1540L187.9 1504.1M239.5 1540L218.9 1503.2M271.9 1540L250.2 1502.4M304.3 1540L282.2 1501.7M336.7 1540L314.6 1501.3M369 1540L347.1 1501M401.4 1540L379.5 1501M433.8 1540L411.5 1501.6M466.2 1540L443.4 1502.5M498.6 1540L475.7 1503.9M530.9 1540L508.7 1505.7M563.3 1540L542 1507.1M595.7 1540L575.6 1508.2M628.1 1540L609.3 1509.4M660.5 1540L642.5 1509.9M692.8 1540L674.4 1509.1M725.2 1540L705.8 1508.1M757.6 1540L737.9 1507.9M790 1540L770.6 1508.6M822.4 1540L803.6 1509.8M854.7 1540L836.7 1510.8M887.1 1540L869.1 1510.7M110 1514L96.8 1479.1M142.4 1514L127.4 1479.2M174.8 1514L157.8 1478.9M207.1 1514L188.3 1478.3M239.5 1514L219 1477.6M271.9 1514L250.1 1476.9M304.3 1514L282 1476.5M336.7 1514L314.3 1476.4M369 1514L346.7 1476.5M401.4 1514L379.2 1476.8M433.8 1514L411.6 1477.6M466.2 1514L444.2 1479M498.6 1514L477.2 1481.1M530.9 1514L511.2 1483.8M563.3 1514L545.2 1485.7M595.7 1514L579.3 1487.1M628.1 1514L613.8 1489M660.5 1514L647.7 1490.5M692.8 1514L679.5 1489.7M725.2 1514L709.9 1487.4M757.6 1514L740.6 1485.8M790 1514L771.6 1484.8M822.4 1514L803.7 1485.2M854.7 1514L836.7 1486.1M887.1 1514L868.7 1485.4M110 1487.9L97.7 1452.9M142.4 1487.9L128.3 1453.3M174.8 1487.9L158.6 1453.1M207.1 1487.9L188.8 1452.7M239.5 1487.9L219.4 1452.3M271.9 1487.9L250.4 1452M304.3 1487.9L282.1 1451.9M336.7 1487.9L314.3 1452.1M369 1487.9L346.7 1452.6M401.4 1487.9L379.3 1453.3M433.8 1487.9L412.3 1454.6M466.2 1487.9L446 1456.9M498.6 1487.9L480.5 1460.6M530.9 1487.9L515.5 1464.2M563.3 1487.9L550 1465.9M595.7 1487.9L584.2 1467.2M628.1 1487.9L619.1 1470M660.5 1487.9L653.3 1472.4M692.8 1487.9L686.4 1473.1M725.2 1487.9L717.2 1470.8M757.6 1487.9L745.3 1466M790 1487.9L773.1 1461.7M822.4 1487.9L803.6 1460.3M854.7 1487.9L835.7 1460.2M887.1 1487.9L867.7 1459.3M110 1461.9L98.6 1426.7M142.4 1461.9L129.1 1427.3M174.8 1461.9L159.2 1427.4M207.1 1461.9L189.4 1427.3M239.5 1461.9L219.9 1427.3M271.9 1461.9L251 1427.5M304.3 1461.9L282.7 1427.8M336.7 1461.9L314.8 1428.3M369 1461.9L347.2 1429.1M401.4 1461.9L380 1430.3M433.8 1461.9L413.4 1431.8M466.2 1461.9L448 1435.2M498.6 1461.9L484.3 1440.7M530.9 1461.9L520.7 1445.5M563.3 1461.9L555.7 1447M595.7 1461.9L590.5 1448.8M628.1 1461.9L625.5 1453.5M660.5 1461.9L659.4 1457.1M692.8 1461.9L692.7 1457.9M725.2 1461.9L724.6 1456.9M757.6 1461.9L751.1 1448.4M790 1461.9L775.5 1440M822.4 1461.9L804.4 1436.7M854.7 1461.9L835.5 1435.1M887.1 1461.9L867.2 1433.4M110 1435.9L99.1 1400.3M142.4 1435.9L129.5 1401M174.8 1435.9L159.7 1401.6M207.1 1435.9L189.8 1402.1M239.5 1435.9L220.5 1402.7M271.9 1435.9L251.7 1403.4M304.3 1435.9L283.6 1404.2M336.7 1435.9L315.8 1405M369 1435.9L348.3 1405.8M401.4 1435.9L381.1 1407M433.8 1435.9L414.5 1409.2M466.2 1435.9L449.3 1413.2M498.6 1435.9L486.7 1420.7M530.9 1435.9L524.3 1426.9M563.3 1435.9L558.8 1427.6M595.7 1435.9L594 1429.4M628.1 1435.9L629 1433.3M660.5 1435.9L663.7 1436.4M692.8 1435.9L696.6 1436.9M725.2 1435.9L727.9 1434.7M757.6 1435.9L756.3 1431.6M790 1435.9L781 1422.3M822.4 1435.9L807.6 1415.8M854.7 1435.9L836.9 1411.5M887.1 1435.9L867.6 1408.2M110 1409.8L99.5 1373.9M142.4 1409.8L129.8 1374.9M174.8 1409.8L160 1375.9M207.1 1409.8L190.3 1377.1M239.5 1409.8L221 1378.4M271.9 1409.8L252.6 1379.9M304.3 1409.8L284.8 1381.3M336.7 1409.8L317.3 1382.3M369 1409.8L349.8 1383.1M401.4 1409.8L382.6 1384.4M433.8 1409.8L415.8 1387.4M466.2 1409.8L450.3 1392.6M498.6 1409.8L486.6 1399.5M530.9 1409.8L522.8 1404.3M563.3 1409.8L557.3 1405.3M595.7 1409.8L592.9 1406.9M660.5 1409.8L669.4 1416.5M692.8 1409.8L706.1 1418.7M725.2 1409.8L732.2 1412.7M757.6 1409.8L759.4 1408.2M790 1409.8L786.7 1404.4M822.4 1409.8L812.1 1395.5M854.7 1409.8L839.5 1388.5M887.1 1409.8L868.9 1383.4M110 1383.8L100 1347.6M142.4 1383.8L130.3 1349M174.8 1383.8L160.5 1350.6M207.1 1383.8L190.9 1352.5M239.5 1383.8L221.8 1354.7M271.9 1383.8L253.8 1357.2M304.3 1383.8L286.3 1359.2M336.7 1383.8L319 1360.5M369 1383.8L351.7 1361.2M401.4 1383.8L384.3 1362.5M433.8 1383.8L417.1 1365.9M466.2 1383.8L450.6 1371M498.6 1383.8L485 1376.8M530.9 1383.8L518.6 1380.7M563.3 1383.8L551.1 1381M595.7 1383.8L588 1382.2M628.1 1383.8L628 1386.3M660.5 1383.8L671.6 1395.7M692.8 1383.8L710.2 1398.4M725.2 1383.8L738.9 1392.3M757.6 1383.8L761.6 1384.6M790 1383.8L789.7 1380.8M822.4 1383.8L816.3 1373.8M854.7 1383.8L842.2 1364.8M887.1 1383.8L870.4 1358.2M110 1357.8L100.5 1321.6M142.4 1357.8L130.9 1323.4M174.8 1357.8L161.2 1325.7M207.1 1357.8L191.8 1328.6M239.5 1357.8L223.2 1332M271.9 1357.8L255.5 1335.5M304.3 1357.8L288.2 1338.1M336.7 1357.8L321.1 1339.6M369 1357.8L353.7 1340.4M401.4 1357.8L386.1 1341.5M433.8 1357.8L418.4 1344.1M466.2 1357.8L451 1348.1M498.6 1357.8L483.7 1352.4M530.9 1357.8L515.1 1355.2M563.3 1357.8L546 1356M595.7 1357.8L582.9 1357.7M628.1 1357.8L626.8 1360.9M660.5 1357.8L669.7 1370.5M692.8 1357.8L708 1372.7M725.2 1357.8L738.1 1367.7M757.6 1357.8L761.6 1359.7M790 1357.8L790.6 1355.6M822.4 1357.8L817.7 1348.8M854.7 1357.8L843.4 1338.8M887.1 1357.8L871.4 1331.9M110 1331.7L101 1295.8M142.4 1331.7L131.5 1298.1M174.8 1331.7L162 1301.1M207.1 1331.7L193 1305M239.5 1331.7L224.9 1309.9M271.9 1331.7L257.5 1314.4M304.3 1331.7L290.4 1317.5M336.7 1331.7L323.4 1319M369 1331.7L356 1319.5M401.4 1331.7L388 1320.1M433.8 1331.7L419.6 1321.5M466.2 1331.7L451.2 1323.7M498.6 1331.7L482.7 1326.6M530.9 1331.7L513.8 1328.5M563.3 1331.7L544.1 1328.7M595.7 1331.7L581.9 1330.4M628.1 1331.7L625.9 1333.7M660.5 1331.7L663.8 1337.2M692.8 1331.7L699.6 1339.4M725.2 1331.7L729.6 1336.2M757.6 1331.7L759.4 1332.9M790 1331.7L788.4 1328.6M822.4 1331.7L815.2 1319.2M854.7 1331.7L842.4 1310.3M887.1 1331.7L871.4 1304.5M110 1305.7L101.6 1270.2M142.4 1305.7L132.1 1272.9M174.8 1305.7L162.9 1276.7M207.1 1305.7L194.2 1281.8M239.5 1305.7L226.5 1287.9M271.9 1305.7L259.5 1293.3M304.3 1305.7L292.8 1296.6M336.7 1305.7L325.9 1297.7M369 1305.7L358.2 1297.6M401.4 1305.7L389.5 1297.3M433.8 1305.7L420.3 1297.5M466.2 1305.7L450.9 1298.5M498.6 1305.7L481.3 1299.7M530.9 1305.7L511.4 1299.8M563.3 1305.7L542.4 1298.6M595.7 1305.7L579.7 1299.2M628.1 1305.7L624.4 1304M725.2 1305.7L723.4 1305.8M757.6 1305.7L754.6 1304.1M790 1305.7L783.8 1299.2M822.4 1305.7L811.2 1288.4M854.7 1305.7L840.8 1281.8M887.1 1305.7L871.2 1277.4M110 1279.7L102 1244.3M142.4 1279.7L132.6 1247.4M174.8 1279.7L163.5 1251.5M207.1 1279.7L195 1257.4M239.5 1279.7L227.6 1264.9M271.9 1279.7L261.1 1271.1M304.3 1279.7L294.9 1274.1M336.7 1279.7L327.8 1274.6M369 1279.7L359.6 1273.8M401.4 1279.7L390.2 1272.6M433.8 1279.7L420.4 1272.1M466.2 1279.7L450.3 1272.3M498.6 1279.7L480.1 1272.4M530.9 1279.7L509.9 1271M563.3 1279.7L540.6 1268.4M595.7 1279.7L574.9 1266.4M628.1 1279.7L614.8 1268.7M660.5 1279.7L651.9 1271.3M692.8 1279.7L685.3 1273M725.2 1279.7L717.9 1274.6M757.6 1279.7L748.4 1273.8M790 1279.7L779.1 1270.3M822.4 1279.7L809.4 1262.3M854.7 1279.7L840.3 1255.8M887.1 1279.7L871.6 1251.5M110 1253.6L102.3 1218.1M142.4 1253.6L132.7 1221.1M174.8 1253.6L163.4 1225.1M207.1 1253.6L194.8 1231.2M239.5 1253.6L227.2 1239.8M271.9 1253.6L260.9 1246.8M304.3 1253.6L294.9 1249.1M336.7 1253.6L327.5 1249M369 1253.6L358.8 1247.4M401.4 1253.6L389.4 1245.8M433.8 1253.6L419.6 1245M466.2 1253.6L449.6 1244.9M498.6 1253.6L479.7 1244.8M530.9 1253.6L510.1 1243.5M563.3 1253.6L541.5 1241.1M595.7 1253.6L575 1239.1M628.1 1253.6L611 1239.3M660.5 1253.6L646.5 1240.5M692.8 1253.6L680.3 1241.9M725.2 1253.6L713.1 1243M757.6 1253.6L745.4 1242.8M790 1253.6L777.7 1240.3M822.4 1253.6L809.5 1235.4M854.7 1253.6L841.1 1230.4M887.1 1253.6L872.6 1226.3M110 1227.6L102.4 1191.4M142.4 1227.6L132.5 1193.9M174.8 1227.6L162.7 1197.7M207.1 1227.6L193.5 1203.9M239.5 1227.6L225.2 1212.1M271.9 1227.6L258 1218.6M304.3 1227.6L291.2 1221M336.7 1227.6L323.8 1220.1M369 1227.6L355.8 1218.5M401.4 1227.6L387.3 1217.2M433.8 1227.6L418.2 1216.5M466.2 1227.6L448.9 1216.9M498.6 1227.6L479.6 1217.2M530.9 1227.6L511.2 1216.5M563.3 1227.6L543.8 1215.4M595.7 1227.6L577.1 1214.2M628.1 1227.6L611.8 1214.1M660.5 1227.6L646.1 1214.1M692.8 1227.6L680 1214.6M725.2 1227.6L712.6 1213.7M757.6 1227.6L745.2 1212.6M790 1227.6L778.1 1210.5M822.4 1227.6L810.3 1207.6M854.7 1227.6L842.3 1204.4M887.1 1227.6L873.7 1201M110 1201.6L102.4 1164.8M142.4 1201.6L132.1 1166.5M174.8 1201.6L161.6 1169.4M207.1 1201.6L191.4 1175M239.5 1201.6L222.2 1182.7M271.9 1201.6L253.9 1188.8M304.3 1201.6L286.4 1191.3M336.7 1201.6L319.4 1189.2M369 1201.6L352.4 1188.2M401.4 1201.6L384.7 1187.8M433.8 1201.6L416.4 1187.8M466.2 1201.6L447.9 1188.4M498.6 1201.6L479.5 1188.9M530.9 1201.6L511.7 1189M563.3 1201.6L544.6 1188.6M595.7 1201.6L578.1 1188M628.1 1201.6L612 1187.6M660.5 1201.6L645.9 1187.2M692.8 1201.6L679.4 1186.6M725.2 1201.6L712.3 1185.3M757.6 1201.6L745.2 1183.7M790 1201.6L778 1181.8M822.4 1201.6L810.5 1179.8M854.7 1201.6L842.6 1177.6M887.1 1201.6L874.2 1175.1M110 1175.5L102.4 1139M142.4 1175.5L131.7 1140M174.8 1175.5L160.6 1141.5M207.1 1175.5L189.5 1146.1M239.5 1175.5L219.7 1153.2M271.9 1175.5L250.5 1158.4M304.3 1175.5L283 1160.2M336.7 1175.5L316.7 1159M369 1175.5L350 1158.5M401.4 1175.5L382.7 1158.6M433.8 1175.5L414.8 1159.1M466.2 1175.5L446.8 1159.8M498.6 1175.5L478.9 1160.5M530.9 1175.5L511.5 1160.9M563.3 1175.5L544.5 1160.9M595.7 1175.5L577.9 1160.5M628.1 1175.5L611.5 1160M660.5 1175.5L645 1159.2M692.8 1175.5L678.4 1158.2M725.2 1175.5L711.5 1156.9M757.6 1175.5L744.5 1155.4M790 1175.5L777.4 1153.9M822.4 1175.5L810.1 1152.3M854.7 1175.5L842.3 1150.7M887.1 1175.5L874.2 1148.9M110 1149.5L102.4 1114.2M142.4 1149.5L131.6 1115.2M174.8 1149.5L159.7 1116.3M207.1 1149.5L188.3 1119.7M239.5 1149.5L218.3 1125M271.9 1149.5L249.5 1129.2M304.3 1149.5L282.1 1130.7M336.7 1149.5L315.7 1130.2M369 1149.5L348.8 1129.9M401.4 1149.5L381.3 1130.1M433.8 1149.5L413.5 1130.8M466.2 1149.5L445.8 1131.6M498.6 1149.5L478.2 1132.3M530.9 1149.5L510.9 1132.7M563.3 1149.5L543.9 1132.8M595.7 1149.5L577.2 1132.5M628.1 1149.5L610.5 1131.9M660.5 1149.5L643.9 1131M692.8 1149.5L677.1 1129.9M725.2 1149.5L710.3 1128.7M757.6 1149.5L743.5 1127.5M790 1149.5L776.5 1126.3M822.4 1149.5L809.3 1125.2M854.7 1149.5L841.7 1124.1M887.1 1149.5L873.9 1123M110 1123.5L102 1089.8M142.4 1123.5L131.3 1091.4M174.8 1123.5L158.8 1092M207.1 1123.5L187.6 1094.9M239.5 1123.5L217.8 1098.7M271.9 1123.5L249.6 1101.8M304.3 1123.5L282.3 1102.8M336.7 1123.5L315.9 1102.3M369 1123.5L348.5 1102M401.4 1123.5L380.6 1102.3M433.8 1123.5L412.7 1103M466.2 1123.5L445.1 1103.8M498.6 1123.5L477.6 1104.5M530.9 1123.5L510.4 1104.9M563.3 1123.5L543.3 1104.9M595.7 1123.5L576.4 1104.6M628.1 1123.5L609.6 1103.9M660.5 1123.5L642.8 1102.9M692.8 1123.5L675.9 1101.9M725.2 1123.5L709.1 1101M757.6 1123.5L742.3 1100.2M790 1123.5L775.4 1099.4M822.4 1123.5L808.3 1098.5M854.7 1123.5L840.9 1098M887.1 1123.5L873.3 1097.3M110 1097.4L100.6 1064.9M142.4 1097.4L129.6 1066.5M174.8 1097.4L157.9 1068.3M207.1 1097.4L187.2 1071.1M239.5 1097.4L218 1074M271.9 1097.4L250.1 1075.7M304.3 1097.4L283 1075.7M336.7 1097.4L315.9 1074.8M369 1097.4L348.3 1074.5M401.4 1097.4L380.3 1075M433.8 1097.4L412.4 1075.8M466.2 1097.4L444.8 1076.6M498.6 1097.4L477.4 1077.1M530.9 1097.4L510.1 1077.4M563.3 1097.4L542.9 1077.3M595.7 1097.4L575.9 1076.9M628.1 1097.4L609 1076.3M660.5 1097.4L642 1075.5M692.8 1097.4L675 1074.6M725.2 1097.4L708.1 1074M757.6 1097.4L741.2 1073.5M790 1097.4L774.2 1073.1M822.4 1097.4L807.2 1072.7M854.7 1097.4L840 1072.4M887.1 1097.4L872.7 1072M110 1071.4L99.2 1039.8M142.4 1071.4L128.1 1041.8M174.8 1071.4L157.2 1044.4M207.1 1071.4L187 1047.6M239.5 1071.4L218.2 1049.9M271.9 1071.4L250.6 1050.2M304.3 1071.4L283.4 1049.1M336.7 1071.4L315.8 1047.6M369 1071.4L348 1047.4M401.4 1071.4L380.1 1048.2M433.8 1071.4L412.4 1049.2M466.2 1071.4L444.8 1049.9M498.6 1071.4L477.3 1050.2M530.9 1071.4L510 1050.2M563.3 1071.4L542.8 1050.1M595.7 1071.4L575.6 1049.7M628.1 1071.4L608.5 1049.2M660.5 1071.4L641.4 1048.5M692.8 1071.4L674.3 1048M725.2 1071.4L707.3 1047.6M757.6 1071.4L740.2 1047.3M790 1071.4L773.2 1047.2M822.4 1071.4L806.1 1047.2M854.7 1071.4L839.2 1047.2M887.1 1071.4L872.1 1047M110 1045.4L98.5 1015M142.4 1045.4L127.8 1017.4M174.8 1045.4L157.2 1020.7M207.1 1045.4L187 1023.7M239.5 1045.4L218.3 1025M271.9 1045.4L250.6 1024.7M304.3 1045.4L283 1022.8M336.7 1045.4L315.1 1020.8M369 1045.4L347.5 1020.8M401.4 1045.4L379.9 1021.8M433.8 1045.4L412.3 1022.9M466.2 1045.4L444.7 1023.4M498.6 1045.4L477.3 1023.5M530.9 1045.4L510 1023.5M563.3 1045.4L542.7 1023.2M595.7 1045.4L575.4 1022.9M628.1 1045.4L608.2 1022.5M660.5 1045.4L641 1022M692.8 1045.4L673.8 1021.6M725.2 1045.4L706.6 1021.4M757.6 1045.4L739.4 1021.4M790 1045.4L772.3 1021.6M822.4 1045.4L805.2 1021.8M854.7 1045.4L838.4 1021.9M887.1 1045.4L871.5 1021.9M110 1019.3L98.3 990.1M142.4 1019.3L128 992.5M174.8 1019.3L157.6 995.6M207.1 1019.3L187.7 998M239.5 1019.3L218.8 998.9M271.9 1019.3L250.7 998.4M304.3 1019.3L282.7 996.9M336.7 1019.3L314.9 995.4M369 1019.3L347.2 995.1M401.4 1019.3L379.7 995.7M433.8 1019.3L412.2 996.5M466.2 1019.3L444.7 996.9M498.6 1019.3L477.2 997M530.9 1019.3L509.9 996.9M563.3 1019.3L542.6 996.7M595.7 1019.3L575.2 996.4M628.1 1019.3L607.9 996.1M660.5 1019.3L640.7 995.8M692.8 1019.3L673.4 995.6M725.2 1019.3L706.1 995.6M757.6 1019.3L738.9 995.7M790 1019.3L771.7 995.9M822.4 1019.3L804.6 996.2M854.7 1019.3L837.7 996.4M887.1 1019.3L870.8 996.3" stroke="#000" stroke-width="1.8" fill="none"/><path d="M86.7 1729.9L91 1732.2L90.9 1737.9L86.1 1734.8ZM118.1 1730.2L122.5 1732.4L122.4 1738.1L117.6 1735.1ZM149.8 1730.3L154.2 1732.5L154.2 1738.1L149.3 1735.2ZM181.7 1730.4L186.1 1732.5L186.2 1738.2L181.3 1735.3ZM213.7 1730.4L218.1 1732.5L218.2 1738.2L213.3 1735.3ZM245.8 1730.4L250.3 1732.5L250.4 1738.1L245.5 1735.3ZM278 1730.4L282.4 1732.4L282.6 1738.1L277.6 1735.3ZM310.2 1730.3L314.7 1732.3L314.8 1738L309.9 1735.2ZM342.4 1730.2L346.9 1732.2L347 1737.9L342.1 1735.1ZM374.6 1730.1L379.1 1732.2L379.3 1737.8L374.3 1735.1ZM406.8 1730.1L411.3 1732.1L411.5 1737.8L406.6 1735ZM439.1 1730.1L443.6 1732.1L443.8 1737.8L438.9 1735ZM471.5 1730.1L476 1732.1L476.2 1737.8L471.2 1735ZM503.9 1730L508.4 1732L508.6 1737.7L503.6 1734.9ZM536.4 1729.9L540.9 1731.9L541.1 1737.6L536.1 1734.8ZM569.1 1729.8L573.5 1731.8L573.7 1737.5L568.7 1734.7ZM601.8 1729.6L606.3 1731.7L606.4 1737.4L601.4 1734.5ZM634.7 1729.6L639.1 1731.7L639.2 1737.4L634.3 1734.5ZM667.6 1729.5L672.1 1731.7L672.1 1737.4L667.2 1734.4ZM700.6 1729.5L705.1 1731.7L705 1737.4L700.1 1734.4ZM733.7 1729.5L738 1731.7L737.9 1737.4L733.1 1734.4ZM766.6 1729.4L771 1731.7L770.8 1737.4L766 1734.3ZM799.6 1729.3L803.9 1731.7L803.6 1737.3L798.9 1734.2ZM832.4 1729.2L836.7 1731.6L836.4 1737.3L831.7 1734.1ZM865 1729.1L869.3 1731.5L869 1737.2L864.3 1733.9ZM87.1 1704L91.4 1706.3L91.2 1712L86.5 1708.9ZM118.4 1704.2L122.8 1706.5L122.7 1712.1L117.9 1709.1ZM150.1 1704.4L154.5 1706.5L154.5 1712.2L149.6 1709.3ZM181.9 1704.4L186.4 1706.6L186.4 1712.2L181.5 1709.4ZM213.9 1704.5L218.4 1706.6L218.5 1712.2L213.6 1709.4ZM246 1704.4L250.5 1706.5L250.6 1712.2L245.7 1709.4ZM278.2 1704.4L282.7 1706.4L282.8 1712.1L277.9 1709.3ZM310.4 1704.3L314.9 1706.3L315 1712L310.1 1709.2ZM342.6 1704.2L347.1 1706.3L347.2 1711.9L342.3 1709.1ZM374.7 1704.2L379.2 1706.2L379.4 1711.9L374.4 1709.1ZM406.9 1704.2L411.4 1706.2L411.6 1711.9L406.7 1709.1ZM439.2 1704.3L443.7 1706.3L443.9 1712L438.9 1709.2ZM471.5 1704.4L476 1706.4L476.2 1712L471.2 1709.3ZM503.9 1704.4L508.4 1706.3L508.6 1712L503.6 1709.3ZM536.3 1704.2L540.8 1706.2L541 1711.9L536.1 1709.1ZM568.9 1704L573.4 1706L573.6 1711.7L568.6 1708.9ZM601.6 1703.9L606.1 1705.9L606.2 1711.6L601.3 1708.8ZM634.5 1703.8L639 1705.9L639.1 1711.6L634.2 1708.7ZM667.5 1703.8L672 1705.9L672 1711.6L667.1 1708.7ZM700.6 1703.8L705 1706L705 1711.7L700.1 1708.7ZM733.7 1703.9L738.1 1706.1L737.9 1711.8L733.1 1708.8ZM766.7 1703.8L771.1 1706.1L770.9 1711.8L766.1 1708.7ZM799.7 1703.8L804 1706.1L803.8 1711.8L799 1708.6ZM832.6 1703.7L836.9 1706.1L836.6 1711.7L831.9 1708.6ZM865.3 1703.6L869.6 1706L869.2 1711.7L864.5 1708.5ZM87.7 1678L92 1680.4L91.7 1686.1L87 1682.9ZM119 1678.2L123.4 1680.5L123.2 1686.2L118.4 1683.1ZM150.6 1678.3L155 1680.5L154.9 1686.2L150.1 1683.2ZM182.3 1678.4L186.8 1680.6L186.8 1686.3L181.9 1683.3ZM214.3 1678.5L218.7 1680.6L218.8 1686.3L213.9 1683.4ZM246.3 1678.4L250.8 1680.5L250.8 1686.2L245.9 1683.3ZM278.5 1678.3L282.9 1680.4L283 1686.1L278.1 1683.2ZM310.6 1678.2L315.1 1680.3L315.2 1686L310.3 1683.1ZM342.8 1678.1L347.2 1680.2L347.4 1685.9L342.4 1683.1ZM374.9 1678.2L379.4 1680.2L379.5 1685.9L374.6 1683.1ZM407 1678.3L411.5 1680.3L411.7 1686L406.8 1683.2ZM439.2 1678.5L443.8 1680.5L444 1686.2L439 1683.4ZM471.5 1678.7L476 1680.7L476.3 1686.4L471.3 1683.7ZM503.9 1678.8L508.4 1680.7L508.6 1686.4L503.6 1683.7ZM536.2 1678.6L540.7 1680.6L541 1686.2L536 1683.5ZM568.7 1678.3L573.2 1680.3L573.4 1685.9L568.5 1683.2ZM601.5 1678.1L605.9 1680.1L606.1 1685.8L601.1 1683ZM634.4 1678L638.8 1680.1L638.9 1685.8L634 1682.9ZM667.4 1678L671.8 1680.1L671.9 1685.8L667 1682.9ZM700.5 1678.1L704.9 1680.3L704.9 1685.9L700 1683ZM733.6 1678.2L738 1680.4L737.9 1686.1L733.1 1683.1ZM766.7 1678.2L771.1 1680.5L770.9 1686.2L766.1 1683.1ZM799.8 1678.3L804.1 1680.6L803.9 1686.3L799.1 1683.1ZM832.7 1678.3L837 1680.6L836.7 1686.3L832 1683.1ZM865.4 1678.3L869.7 1680.7L869.4 1686.4L864.7 1683.2ZM88.4 1652L92.7 1654.4L92.4 1660.1L87.7 1656.9ZM119.7 1652.2L124 1654.5L123.8 1660.2L119.1 1657ZM151.1 1652.3L155.5 1654.6L155.4 1660.2L150.6 1657.2ZM182.8 1652.4L187.2 1654.6L187.1 1660.3L182.3 1657.3ZM214.6 1652.5L219 1654.6L219 1660.3L214.1 1657.4ZM246.6 1652.4L251 1654.5L251.1 1660.2L246.2 1657.3ZM278.7 1652.2L283.1 1654.3L283.2 1660L278.3 1657.1ZM310.8 1652L315.3 1654.1L315.4 1659.8L310.5 1656.9ZM342.9 1651.9L347.4 1654L347.5 1659.6L342.6 1656.8ZM375 1652L379.5 1654L379.6 1659.7L374.7 1656.9ZM407.1 1652.2L411.6 1654.2L411.8 1659.9L406.8 1657.1ZM439.3 1652.7L443.8 1654.6L444 1660.3L439 1657.6ZM471.6 1653.1L476.1 1655.1L476.3 1660.7L471.3 1658ZM503.9 1653.3L508.4 1655.2L508.7 1660.9L503.7 1658.2ZM536.2 1653.1L540.7 1655L541 1660.7L536 1658ZM568.6 1652.6L573.1 1654.6L573.3 1660.3L568.3 1657.5ZM601.2 1652.3L605.7 1654.3L605.9 1660L600.9 1657.2ZM634.1 1652.1L638.6 1654.2L638.7 1659.9L633.8 1657ZM667.1 1652.1L671.6 1654.2L671.7 1659.9L666.8 1657ZM700.2 1652.2L704.7 1654.4L704.7 1660.1L699.8 1657.1ZM733.4 1652.4L737.8 1654.6L737.7 1660.3L732.9 1657.3ZM766.6 1652.7L771 1654.9L770.8 1660.6L766 1657.5ZM799.7 1652.9L804.1 1655.2L803.9 1660.8L799.1 1657.8ZM832.7 1653L837.1 1655.4L836.8 1661.1L832.1 1657.9ZM865.5 1653.1L869.8 1655.5L869.5 1661.2L864.8 1658ZM89.1 1626.2L93.4 1628.6L93 1634.3L88.3 1631ZM120.3 1626.2L124.7 1628.6L124.4 1634.3L119.7 1631.1ZM151.6 1626.4L156 1628.7L155.8 1634.3L151.1 1631.3ZM183.1 1626.5L187.5 1628.7L187.5 1634.4L182.6 1631.4ZM214.9 1626.4L219.3 1628.6L219.3 1634.3L214.4 1631.3ZM246.8 1626.3L251.2 1628.4L251.2 1634.1L246.4 1631.2ZM278.9 1625.9L283.3 1628L283.3 1633.7L278.4 1630.8ZM311 1625.6L315.5 1627.7L315.5 1633.4L310.6 1630.5ZM343.1 1625.4L347.6 1627.5L347.6 1633.2L342.7 1630.3ZM375.2 1625.5L379.7 1627.6L379.8 1633.3L374.8 1630.4ZM407.2 1625.9L411.7 1628L411.8 1633.6L406.9 1630.8ZM439.3 1626.6L443.8 1628.6L444 1634.2L439 1631.5ZM471.6 1627.3L476.1 1629.3L476.4 1634.9L471.4 1632.2ZM503.9 1627.7L508.4 1629.6L508.7 1635.3L503.7 1632.6ZM536.1 1627.4L540.6 1629.4L540.9 1635L535.9 1632.4ZM568.3 1626.8L572.9 1628.8L573.2 1634.5L568.1 1631.8ZM600.9 1626.3L605.4 1628.3L605.6 1634L600.6 1631.3ZM633.7 1626.1L638.2 1628.1L638.4 1633.8L633.4 1631ZM666.8 1626.1L671.2 1628.2L671.4 1633.9L666.4 1631ZM699.9 1626.3L704.3 1628.4L704.4 1634L699.5 1631.2ZM733.1 1626.6L737.5 1628.7L737.5 1634.4L732.6 1631.5ZM766.4 1627.1L770.8 1629.3L770.7 1634.9L765.9 1632ZM799.6 1627.5L804 1629.8L803.9 1635.5L799.1 1632.4ZM832.7 1627.9L837.1 1630.2L836.9 1635.9L832.1 1632.8ZM865.5 1628.1L869.9 1630.4L869.6 1636.1L864.9 1633ZM89.8 1600.5L94 1603L93.6 1608.7L89 1605.4ZM120.9 1600.6L125.2 1603L124.9 1608.7L120.1 1605.5ZM152 1600.6L156.4 1602.9L156.2 1608.6L151.4 1605.5ZM183.4 1600.6L187.8 1602.8L187.7 1608.5L182.9 1605.5ZM215 1600.4L219.5 1602.6L219.4 1608.2L214.6 1605.3ZM246.9 1600.1L251.3 1602.2L251.3 1607.9L246.5 1605ZM279 1599.5L283.4 1601.7L283.4 1607.4L278.5 1604.4ZM311.2 1599L315.6 1601.2L315.6 1606.9L310.7 1603.9ZM343.4 1598.8L347.8 1600.9L347.8 1606.6L342.9 1603.7ZM375.4 1598.8L379.9 1601L379.9 1606.6L375 1603.7ZM407.3 1599.3L411.8 1601.4L411.9 1607.1L407 1604.2ZM439.2 1600.1L443.7 1602.1L443.9 1607.8L439 1605.1ZM471.5 1601.1L476 1603.1L476.3 1608.7L471.3 1606ZM503.8 1601.8L508.3 1603.7L508.7 1609.4L503.6 1606.8ZM535.8 1601.5L540.4 1603.3L540.7 1609L535.7 1606.4ZM568 1600.8L572.5 1602.7L572.9 1608.4L567.8 1605.7ZM600.5 1600.2L605 1602.2L605.3 1607.8L600.2 1605.1ZM633.2 1599.9L637.7 1601.9L637.9 1607.6L632.9 1604.8ZM666.2 1599.9L670.7 1601.9L670.8 1607.6L665.9 1604.8ZM699.3 1600.2L703.8 1602.2L703.9 1607.9L699 1605.1ZM732.6 1600.7L737.1 1602.8L737.1 1608.5L732.2 1605.6ZM766.1 1601.5L770.5 1603.7L770.5 1609.3L765.6 1606.4ZM799.5 1602.3L803.9 1604.5L803.8 1610.2L799 1607.2ZM832.7 1602.9L837.1 1605.2L837 1610.9L832.1 1607.8ZM865.5 1603.2L869.9 1605.5L869.7 1611.1L864.9 1608.1ZM90.4 1575L94.6 1577.5L94.1 1583.2L89.5 1579.8ZM121.3 1575.1L125.6 1577.5L125.3 1583.2L120.6 1579.9ZM152.4 1575L156.7 1577.3L156.5 1583L151.8 1579.9ZM183.6 1574.7L188 1576.9L187.9 1582.6L183.1 1579.6ZM215.1 1574.3L219.5 1576.5L219.5 1582.1L214.6 1579.2ZM246.9 1573.7L251.4 1575.9L251.3 1581.6L246.5 1578.6ZM279 1573L283.5 1575.2L283.4 1580.9L278.6 1578ZM311.3 1572.4L315.7 1574.6L315.7 1580.3L310.8 1577.3ZM343.6 1572L348 1574.2L348 1579.9L343.1 1576.9ZM375.7 1572L380.1 1574.2L380.1 1579.9L375.2 1576.9ZM407.5 1572.5L412 1574.6L412 1580.3L407.1 1577.4ZM439.3 1573.4L443.7 1575.4L443.9 1581.1L438.9 1578.3ZM471.2 1574.4L475.7 1576.3L476 1582L471 1579.3ZM503.3 1575L507.9 1576.9L508.2 1582.6L503.2 1580ZM535.5 1575L540 1576.9L540.3 1582.6L535.3 1579.9ZM567.7 1574.6L572.2 1576.5L572.6 1582.2L567.5 1579.5ZM600.2 1574.2L604.7 1576.1L605 1581.8L600 1579.1ZM632.8 1573.9L637.4 1575.8L637.6 1581.5L632.6 1578.8ZM665.7 1573.9L670.2 1575.9L670.4 1581.5L665.4 1578.8ZM698.8 1574.2L703.3 1576.2L703.5 1581.9L698.5 1579.1ZM732.3 1575L736.7 1577.1L736.8 1582.7L731.9 1579.9ZM765.8 1576L770.3 1578.2L770.3 1583.8L765.4 1580.9ZM799.4 1577.2L803.8 1579.3L803.8 1585L798.9 1582.1ZM832.7 1578L837.1 1580.2L837 1585.9L832.2 1582.9ZM865.5 1578.3L869.9 1580.5L869.8 1586.2L865 1583.2ZM91.1 1549.4L95.3 1552L94.7 1557.6L90.2 1554.3ZM121.8 1549.6L126.1 1552L125.7 1557.7L121.1 1554.4ZM152.7 1549.3L157 1551.6L156.8 1557.3L152.1 1554.2ZM183.8 1548.8L188.1 1551L188 1556.7L183.2 1553.7ZM215.1 1548.2L219.5 1550.3L219.5 1556L214.6 1553.1ZM246.8 1547.4L251.3 1549.6L251.2 1555.3L246.4 1552.3ZM278.9 1546.6L283.3 1548.8L283.3 1554.5L278.5 1551.5ZM311.3 1545.9L315.7 1548.1L315.7 1553.8L310.8 1550.8ZM343.8 1545.4L348.2 1547.6L348.1 1553.3L343.3 1550.3ZM376 1545.3L380.4 1547.5L380.3 1553.2L375.5 1550.2ZM407.7 1545.8L412.1 1547.9L412.1 1553.6L407.3 1550.7ZM439.2 1546.7L443.7 1548.7L443.8 1554.4L438.9 1551.6ZM471 1547.7L475.5 1549.6L475.7 1555.3L470.7 1552.6ZM503 1548.5L507.6 1550.4L507.9 1556.1L502.9 1553.4ZM535.3 1548.8L539.8 1550.7L540.2 1556.4L535.1 1553.7ZM567.8 1548.8L572.3 1550.7L572.7 1556.4L567.6 1553.7ZM600.5 1548.7L605 1550.6L605.3 1556.3L600.3 1553.6ZM633.1 1548.5L637.7 1550.5L637.9 1556.2L632.9 1553.5ZM665.8 1548.4L670.3 1550.4L670.5 1556.1L665.5 1553.3ZM698.8 1548.7L703.3 1550.7L703.5 1556.4L698.5 1553.6ZM732.1 1549.6L736.6 1551.6L736.8 1557.3L731.8 1554.5ZM765.7 1550.8L770.2 1552.9L770.3 1558.6L765.4 1555.7ZM799.3 1552.2L803.7 1554.3L803.8 1559.9L798.9 1557.1ZM832.6 1553.1L837 1555.3L837 1561L832.1 1558ZM865.3 1553.5L869.8 1555.6L869.8 1561.3L864.9 1558.4ZM91.9 1523.7L96.1 1526.3L95.4 1532L90.9 1528.5ZM122.4 1523.9L126.7 1526.4L126.3 1532.1L121.6 1528.8ZM153.1 1523.6L157.4 1525.9L157.2 1531.6L152.4 1528.5ZM183.9 1522.9L188.3 1525.2L188.2 1530.8L183.4 1527.8ZM215 1522.1L219.4 1524.3L219.4 1530L214.5 1527ZM246.6 1521.3L251 1523.4L251 1529.1L246.1 1526.2ZM278.6 1520.5L283.1 1522.7L283 1528.3L278.2 1525.4ZM311.1 1519.8L315.5 1522L315.4 1527.7L310.6 1524.7ZM343.7 1519.3L348.1 1521.5L348 1527.2L343.2 1524.2ZM376.2 1519.1L380.5 1521.4L380.4 1527.1L375.6 1524ZM407.7 1519.7L412.1 1521.8L412.1 1527.5L407.2 1524.6ZM439.1 1520.6L443.6 1522.7L443.7 1528.4L438.8 1525.5ZM470.9 1521.8L475.5 1523.7L475.7 1529.4L470.7 1526.7ZM503.2 1522.9L507.8 1524.8L508.1 1530.5L503.1 1527.8ZM535.9 1523.7L540.4 1525.6L540.8 1531.3L535.7 1528.6ZM568.8 1524.2L573.3 1526.1L573.7 1531.7L568.6 1529.1ZM602 1524.7L606.5 1526.6L606.8 1532.3L601.8 1529.6ZM634.8 1524.7L639.3 1526.6L639.5 1532.3L634.5 1529.6ZM667 1524.2L671.5 1526.2L671.7 1531.9L666.8 1529.1ZM699.5 1524.2L704 1526.2L704.2 1531.9L699.3 1529.1ZM732.5 1524.8L737 1526.8L737.2 1532.5L732.2 1529.8ZM765.9 1526L770.4 1528L770.5 1533.7L765.6 1530.9ZM799.3 1527.4L803.8 1529.5L803.9 1535.2L799 1532.3ZM832.5 1528.5L837 1530.5L837.1 1536.2L832.1 1533.4ZM865.2 1528.7L869.6 1530.7L869.7 1536.4L864.8 1533.6ZM92.9 1497.7L97 1500.4L96.2 1506.1L91.8 1502.5ZM123.2 1497.9L127.5 1500.5L127 1506.1L122.4 1502.8ZM153.6 1497.7L157.9 1500L157.7 1505.7L152.9 1502.5ZM184.1 1497L188.5 1499.3L188.4 1505L183.6 1501.9ZM214.9 1496.2L219.4 1498.4L219.3 1504.1L214.5 1501.1ZM246.2 1495.5L250.7 1497.6L250.7 1503.3L245.8 1500.4ZM278.2 1494.8L282.6 1496.9L282.7 1502.6L277.8 1499.7ZM310.6 1494.3L315 1496.5L315.1 1502.1L310.2 1499.2ZM343.2 1494L347.6 1496.2L347.6 1501.9L342.7 1498.9ZM375.6 1494.1L380 1496.2L380 1501.9L375.1 1499ZM407.4 1494.7L411.9 1496.7L412 1502.4L407 1499.6ZM439.2 1495.7L443.7 1497.7L443.9 1503.4L438.9 1500.6ZM471.4 1497.2L475.9 1499.1L476.2 1504.8L471.2 1502.1ZM504.3 1499L508.9 1500.9L509.2 1506.5L504.2 1503.9ZM537.7 1500.4L542.2 1502.3L542.5 1508L537.5 1505.3ZM571.3 1501.5L575.8 1503.4L576.1 1509.1L571.1 1506.4ZM605.2 1502.5L609.7 1504.5L609.9 1510.2L604.9 1507.5ZM638.4 1503L642.9 1505.1L643 1510.7L638.1 1507.9ZM670.3 1502.3L674.7 1504.3L674.9 1510L669.9 1507.2ZM701.7 1501.3L706.2 1503.3L706.4 1509L701.4 1506.2ZM733.7 1501.1L738.2 1503.1L738.4 1508.8L733.5 1506ZM766.4 1501.8L770.9 1503.7L771.1 1509.4L766.1 1506.7ZM799.4 1503L803.9 1505L804.2 1510.6L799.2 1507.9ZM832.5 1504L837 1506L837.2 1511.7L832.2 1508.9ZM864.9 1503.9L869.4 1505.9L869.6 1511.5L864.6 1508.8ZM94 1471.6L98 1474.4L97.1 1480L92.8 1476.4ZM124.2 1471.9L128.4 1474.5L127.8 1480.1L123.3 1476.7ZM154.4 1471.7L158.6 1474.2L158.3 1479.8L153.6 1476.6ZM184.6 1471.2L188.9 1473.5L188.8 1479.2L184 1476.1ZM215 1470.6L219.5 1472.8L219.5 1478.4L214.6 1475.5ZM246 1470L250.5 1472.1L250.6 1477.8L245.7 1474.9ZM277.9 1469.7L282.3 1471.7L282.5 1477.4L277.5 1474.6ZM310.2 1469.5L314.6 1471.6L314.8 1477.3L309.8 1474.4ZM342.6 1469.6L347.1 1471.6L347.2 1477.3L342.3 1474.5ZM375.1 1470L379.5 1472L379.7 1477.7L374.7 1474.9ZM407.4 1470.8L411.9 1472.8L412.1 1478.5L407.1 1475.7ZM439.9 1472.3L444.4 1474.2L444.7 1479.9L439.7 1477.2ZM472.9 1474.4L477.4 1476.2L477.8 1481.9L472.7 1479.3ZM506.8 1477.2L511.4 1479L511.7 1484.7L506.7 1482.1ZM540.9 1478.9L545.4 1480.8L545.7 1486.5L540.7 1483.8ZM575.1 1480.3L579.6 1482.3L579.8 1488L574.8 1485.2ZM609.8 1482.1L614.2 1484.2L614.3 1489.9L609.4 1487ZM643.9 1483.5L648.3 1485.7L648.2 1491.4L643.4 1488.4ZM675.6 1482.7L680 1484.9L680 1490.5L675.1 1487.6ZM705.9 1480.5L710.3 1482.6L710.4 1488.3L705.5 1485.4ZM736.5 1479L740.9 1481L741.1 1486.7L736.2 1483.9ZM767.3 1478.1L771.9 1480L772.1 1485.7L767.1 1483ZM799.4 1478.5L804 1480.4L804.3 1486L799.3 1483.4ZM832.3 1479.4L836.9 1481.3L837.2 1487L832.2 1484.3ZM864.3 1478.7L868.9 1480.5L869.2 1486.2L864.2 1483.6ZM95.1 1445.4L99.1 1448.3L98.1 1453.9L93.8 1450.1ZM125.3 1445.8L129.4 1448.5L128.7 1454.2L124.2 1450.7ZM155.2 1445.9L159.4 1448.4L159 1454L154.4 1450.7ZM185.1 1445.6L189.5 1447.9L189.3 1453.6L184.5 1450.5ZM215.4 1445.3L219.9 1447.5L219.9 1453.2L215 1450.2ZM246.3 1445.1L250.8 1447.2L250.9 1452.8L246 1450ZM278 1445.1L282.5 1447.1L282.7 1452.8L277.7 1450ZM310.1 1445.3L314.6 1447.3L314.8 1453L309.8 1450.2ZM342.4 1445.8L347 1447.7L347.3 1453.4L342.2 1450.7ZM375 1446.6L379.6 1448.5L379.9 1454.2L374.8 1451.5ZM408 1447.9L412.5 1449.7L412.9 1455.4L407.8 1452.8ZM441.6 1450.2L446.2 1452.1L446.6 1457.8L441.5 1455.2ZM476.1 1453.9L480.7 1455.7L481.1 1461.4L476 1458.8ZM511.1 1457.5L515.7 1459.4L516 1465.1L511 1462.5ZM545.9 1459L550.4 1461L550.6 1466.7L545.6 1463.9ZM580.3 1460.2L584.8 1462.4L584.7 1468.1L579.9 1465.1ZM615.6 1462.8L619.9 1465.2L619.6 1470.9L614.9 1467.7ZM650 1465.1L654.3 1467.6L653.8 1473.3L649.2 1469.9ZM683.2 1465.7L687.4 1468.3L686.8 1474L682.3 1470.5ZM713.8 1463.6L718.1 1466.1L717.7 1471.7L713 1468.4ZM741.4 1459.1L745.8 1461.2L745.8 1466.9L740.9 1464ZM768.8 1455L773.4 1456.9L773.7 1462.6L768.7 1459.9ZM799.1 1453.7L803.7 1455.5L804.2 1461.2L799.1 1458.6ZM831.2 1453.6L835.8 1455.3L836.3 1461L831.2 1458.5ZM863.3 1452.7L867.8 1454.5L868.3 1460.1L863.2 1457.6ZM96.1 1419.1L100 1422.1L98.9 1427.7L94.7 1423.8ZM126.2 1419.8L130.3 1422.6L129.5 1428.2L125.1 1424.6ZM155.9 1420.1L160.2 1422.6L159.6 1428.3L155.1 1424.9ZM185.7 1420.2L190.1 1422.5L189.8 1428.2L185.1 1425.1ZM216 1420.4L220.4 1422.5L220.4 1428.2L215.5 1425.3ZM246.9 1420.6L251.4 1422.7L251.5 1428.3L246.6 1425.6ZM278.4 1421.1L283 1423L283.2 1428.7L278.2 1426ZM310.5 1421.6L315 1423.5L315.4 1429.2L310.3 1426.5ZM342.8 1422.4L347.4 1424.3L347.8 1429.9L342.7 1427.4ZM375.5 1423.6L380.1 1425.4L380.5 1431.1L375.4 1428.6ZM408.9 1425.2L413.5 1426.9L413.9 1432.6L408.8 1430.1ZM443.6 1428.5L448.1 1430.3L448.6 1436L443.5 1433.5ZM479.9 1434.1L484.4 1435.9L484.9 1441.6L479.8 1439ZM516.5 1438.7L521 1440.7L521.3 1446.3L516.3 1443.6ZM552.1 1439.9L556.4 1442.2L556.2 1447.9L551.4 1444.8ZM587.6 1441.3L591.7 1444.1L590.9 1449.7L586.5 1446.1ZM623.2 1445.8L627.1 1448.9L625.8 1454.4L621.7 1450.5ZM657.8 1449.3L661.3 1452.7L659.6 1458.1L655.9 1453.8ZM692.5 1451.5L694.9 1454.8L692.7 1458.9L690.3 1454.9ZM723.6 1449L726.9 1452.6L724.7 1457.9L721.3 1453.3ZM747.6 1441.2L751.9 1443.6L751.5 1449.3L746.8 1446ZM771.1 1433.3L775.7 1435.1L776.1 1440.8L771 1438.2ZM799.8 1430.2L804.4 1431.9L805 1437.5L799.9 1435.1ZM830.8 1428.6L835.5 1430.2L836.1 1435.9L830.9 1433.5ZM862.6 1426.8L867.2 1428.5L867.7 1434.2L862.6 1431.7ZM96.8 1392.6L100.6 1395.7L99.4 1401.2L95.3 1397.3ZM126.7 1393.5L130.8 1396.4L129.9 1402L125.5 1398.3ZM156.4 1394.3L160.6 1396.8L160.1 1402.5L155.5 1399.1ZM186.2 1394.9L190.5 1397.3L190.3 1402.9L185.6 1399.8ZM216.5 1395.7L220.9 1397.8L221 1403.5L216.1 1400.6ZM247.5 1396.6L252 1398.6L252.3 1404.3L247.3 1401.5ZM279.2 1397.5L283.8 1399.4L284.1 1405.1L279.1 1402.4ZM311.4 1398.4L315.9 1400.1L316.4 1405.8L311.3 1403.3ZM343.8 1399.2L348.4 1401L348.9 1406.6L343.8 1404.1ZM376.5 1400.5L381.1 1402.2L381.7 1407.9L376.5 1405.4ZM409.8 1402.7L414.5 1404.3L415.1 1410L409.9 1407.6ZM444.6 1406.8L449.2 1408.4L449.9 1414L444.7 1411.7ZM481.8 1414.4L486.5 1415.9L487.3 1421.5L482.1 1419.3ZM519.6 1420.5L524.2 1422.1L524.9 1427.7L519.7 1425.4ZM555 1420.6L559.4 1422.8L559.3 1428.5L554.5 1425.5ZM591.9 1421.6L595.7 1424.8L594.2 1430.3L590.2 1426.3ZM630.2 1430.3L631.6 1432.9L628.7 1434.3L627.4 1431.3ZM668.3 1437.2L665.4 1439L662.7 1436.2L666.1 1434.5ZM702.6 1438.5L698.9 1439.8L695.6 1436.6L700.1 1435.5ZM731.4 1433.2L730.3 1436.1L727 1435.1L728.6 1432ZM754.2 1424.4L757.8 1427.3L756.6 1432.6L752.7 1428.8ZM776.5 1415.6L781.1 1417.4L781.5 1423.1L776.4 1420.5ZM802.9 1409.3L807.5 1410.9L808.2 1416.6L803 1414.3ZM832.2 1405L836.8 1406.6L837.5 1412.3L832.3 1409.9ZM862.9 1401.6L867.6 1403.3L868.1 1409L863 1406.6ZM97.3 1366.2L101.1 1369.3L99.8 1374.8L95.7 1370.9ZM127.1 1367.4L131.1 1370.2L130.2 1375.8L125.9 1372.1ZM156.8 1368.6L161 1371.2L160.4 1376.8L155.9 1373.4ZM186.6 1369.9L191 1372.3L190.7 1377.9L186 1374.8ZM217 1371.5L221.5 1373.6L221.6 1379.3L216.6 1376.4ZM248.3 1373.2L252.8 1375.1L253.2 1380.7L248.1 1378.1ZM280.3 1374.7L284.9 1376.4L285.3 1382.1L280.2 1379.6ZM312.6 1375.8L317.3 1377.5L317.8 1383.1L312.7 1380.7ZM345.2 1376.6L349.8 1378.2L350.4 1383.9L345.3 1381.5ZM377.8 1378L382.5 1379.6L383.2 1385.2L378 1382.9ZM410.8 1381.1L415.5 1382.5L416.4 1388.2L411.2 1386ZM444.9 1386.7L449.7 1387.8L451 1393.3L445.6 1391.6ZM480.5 1394.3L485.4 1394.8L487.4 1400.2L481.8 1399.1ZM516.1 1399.9L521 1399.8L523.6 1404.9L517.9 1404.5ZM550.9 1400.5L555.8 1400.7L558.1 1405.9L552.4 1405.2ZM588.2 1402.1L592.3 1402.9L593.6 1407.6L588.9 1406.2ZM628.1 1409.8m-2.2 0a2.2 2.2 0 1 0 4.4 0a2.2 2.2 0 1 0 -4.4 0M675.8 1421.3L670.9 1421.1L668.6 1415.9L674.3 1416.6ZM712.7 1423.2L707.8 1423.2L705.3 1418.1L710.9 1418.6ZM739.6 1415.7L734.8 1416.8L731.3 1412.3L736.9 1411.6ZM761.2 1406.6L761.6 1409.3L758.6 1408.9L758.6 1405.9ZM782.7 1397.5L787.1 1399.6L787.3 1405.3L782.3 1402.4ZM807.4 1389L812.1 1390.7L812.7 1396.3L807.5 1393.9ZM834.8 1381.9L839.5 1383.6L840.1 1389.3L834.9 1386.9ZM864.3 1376.8L868.9 1378.5L869.4 1384.2L864.3 1381.7ZM97.9 1339.9L101.6 1343.1L100.3 1348.6L96.2 1344.5ZM127.7 1341.4L131.6 1344.3L130.6 1349.9L126.3 1346.2ZM157.3 1343.2L161.5 1345.9L160.9 1351.5L156.4 1348.1ZM187.2 1345.4L191.5 1347.7L191.3 1353.4L186.6 1350.3ZM217.7 1347.9L222.2 1349.9L222.4 1355.6L217.4 1352.8ZM249.3 1350.6L253.9 1352.4L254.4 1358L249.3 1355.5ZM281.6 1352.8L286.2 1354.4L286.9 1360L281.7 1357.7ZM314.2 1354.1L318.8 1355.6L319.6 1361.3L314.4 1359ZM346.8 1354.9L351.5 1356.4L352.3 1362L347 1359.8ZM379.3 1356.2L384 1357.6L384.9 1363.2L379.7 1361.1ZM411.6 1360L416.4 1361.1L417.8 1366.6L412.3 1364.9ZM444.4 1365.9L449.3 1366.3L451.3 1371.6L445.7 1370.6ZM477.9 1373.2L482.8 1372.5L485.9 1377.3L480.2 1377.5ZM510.8 1378.7L515.4 1377L519.5 1380.9L514.1 1382.4ZM543.3 1379.2L547.9 1377.3L552 1381.2L546.6 1382.8ZM580.2 1380.6L584.7 1378.7L589 1382.4L583.6 1384.2ZM627.9 1389.1L625.7 1387.3L628 1385.3L630.2 1387.5ZM677 1401.6L672.2 1400.5L670.9 1395L676.3 1396.7ZM716.4 1403.5L711.5 1403.1L709.5 1397.7L715.1 1398.8ZM745.7 1396.5L740.8 1396.8L738 1391.8L743.7 1392ZM768.2 1385.9L764.3 1387.6L760.6 1384.4L765.3 1382.9ZM789.3 1376.9L791.7 1378.9L789.8 1381.8L787.3 1379.3ZM812.2 1367L816.7 1369L816.8 1374.7L811.9 1371.9ZM837.8 1358.1L842.4 1359.9L842.8 1365.6L837.7 1363ZM866.1 1351.5L870.6 1353.3L871 1359L865.9 1356.4ZM98.5 1313.9L102.2 1317.1L100.8 1322.6L96.8 1318.5ZM128.3 1315.8L132.3 1318.7L131.2 1324.3L127 1320.5ZM158.1 1318.3L162.2 1320.9L161.6 1326.6L157.1 1323.1ZM188.1 1321.5L192.5 1323.8L192.3 1329.4L187.5 1326.4ZM219 1325.3L223.5 1327.2L223.8 1332.9L218.8 1330.2ZM250.7 1329L255.4 1330.6L256.1 1336.3L250.9 1334ZM283.2 1331.9L287.9 1333.2L288.9 1338.9L283.6 1336.8ZM315.9 1333.5L320.6 1334.7L321.7 1340.3L316.4 1338.4ZM348.4 1334.4L353.2 1335.6L354.4 1341.1L349 1339.3ZM380.6 1335.7L385.4 1336.7L386.8 1342.3L381.4 1340.6ZM412.4 1338.8L417.3 1339.4L419.2 1344.8L413.6 1343.6ZM444.2 1343.8L449.2 1343.6L451.8 1348.6L446.1 1348.3ZM476.1 1349.7L480.9 1348.4L484.6 1352.7L479 1353.7ZM507.2 1354L511.6 1351.9L516.1 1355.4L510.8 1357.4ZM538 1355.2L542.3 1352.8L547 1356.1L541.7 1358.4ZM574.9 1357.6L579 1354.9L583.9 1357.7L578.9 1360.5ZM625 1365.5L623.9 1362.2L627.2 1360L628.1 1363.9ZM674.4 1376.9L669.8 1375.3L669.1 1369.7L674.3 1372ZM713.7 1378.4L708.8 1377.5L707.3 1372L712.7 1373.5ZM744.4 1372.5L739.5 1372.3L737.3 1367L742.9 1367.8ZM768.5 1362.9L763.9 1363.7L760.7 1359.2L766.2 1358.8ZM791.2 1353.4L793 1355.4L790.3 1356.5L788.7 1354.2ZM814 1341.8L818.3 1344.1L818.1 1349.7L813.4 1346.7ZM839.3 1331.9L843.8 1334L843.9 1339.6L839 1336.8ZM867.2 1325L871.7 1327L871.9 1332.7L866.9 1329.9ZM99.1 1288.1L102.8 1291.3L101.3 1296.8L97.4 1292.7ZM129 1290.5L132.9 1293.5L131.8 1299.1L127.6 1295.2ZM158.9 1293.7L163.1 1296.4L162.4 1302.1L157.9 1298.6ZM189.2 1297.9L193.6 1300.2L193.4 1305.9L188.7 1302.8ZM220.4 1303.3L225 1305.1L225.4 1310.8L220.3 1308.2ZM252.3 1308.3L257.1 1309.6L258.1 1315.2L252.8 1313.2ZM284.9 1311.8L289.7 1312.7L291.1 1318.2L285.7 1316.6ZM317.7 1313.4L322.5 1314.2L324.2 1319.7L318.7 1318.3ZM350.1 1314.1L355 1314.8L356.7 1320.2L351.2 1318.9ZM381.9 1314.9L386.8 1315.4L388.7 1320.8L383.1 1319.6ZM413.1 1316.8L418 1316.9L420.4 1322L414.7 1321.4ZM444.1 1320L449 1319.4L452.1 1324.2L446.4 1324.4ZM475.1 1324.2L479.8 1322.8L483.7 1326.9L478.1 1328.1ZM505.9 1327.1L510.4 1325.1L514.8 1328.7L509.4 1330.6ZM536.2 1327.4L540.7 1325.3L545.1 1328.8L539.8 1330.8ZM574 1329.6L578.3 1327.2L582.9 1330.5L577.7 1332.8ZM623.1 1336.2L623.2 1333.1L626.6 1333L626.2 1336.4ZM668 1344L663.5 1342L663.3 1336.3L668.2 1339.1ZM704.9 1345.3L700.2 1344.2L699 1338.6L704.3 1340.5ZM735.1 1342L730.3 1341L728.9 1335.5L734.3 1337.1ZM760.9 1334L758.6 1335.1L758.5 1332.4L761.1 1331.4ZM785.9 1323.8L789.2 1325.3L788.8 1329.5L785.2 1327.4ZM811.3 1312.2L815.7 1314.4L815.7 1320L810.9 1317.1ZM838.5 1303.4L842.9 1305.5L842.9 1311.2L838.1 1308.3ZM867.5 1297.6L871.9 1299.7L871.9 1305.4L867 1302.5ZM99.7 1262.4L103.4 1265.7L101.8 1271.1L97.9 1267ZM129.7 1265.3L133.6 1268.3L132.4 1273.9L128.2 1270ZM159.9 1269.3L164 1272L163.3 1277.6L158.8 1274.1ZM190.5 1274.7L194.8 1277L194.7 1282.6L189.9 1279.6ZM221.8 1281.4L226.4 1283.1L227.1 1288.7L221.9 1286.4ZM253.9 1287.7L258.7 1288.5L260.2 1294L254.8 1292.5ZM286.5 1291.6L291.4 1291.9L293.6 1297.2L287.9 1296.3ZM319.5 1292.9L324.4 1293.1L326.7 1298.3L321.1 1297.6ZM351.8 1292.8L356.7 1293L359 1298.2L353.4 1297.5ZM383 1292.7L387.9 1292.7L390.3 1297.9L384.7 1297.3ZM413.5 1293.4L418.4 1293.1L421.2 1298.1L415.5 1297.9ZM443.7 1295.2L448.5 1294.3L451.8 1299L446.1 1299.4ZM473.7 1297.1L478.5 1295.8L482.2 1300.1L476.6 1301.1ZM503.7 1297.5L508.4 1296L512.3 1300.1L506.8 1301.3ZM534.8 1296L539.5 1294.7L543.3 1298.9L537.7 1300ZM572.3 1296.2L577.1 1295.1L580.6 1299.6L575 1300.3ZM618.5 1301.2L622.6 1300.5L625.4 1304.4L620.6 1304.8ZM660.5 1305.7m-2.2 0a2.2 2.2 0 1 0 4.4 0a2.2 2.2 0 1 0 -4.4 0M692.8 1305.7m-2.2 0a2.2 2.2 0 1 0 4.4 0a2.2 2.2 0 1 0 -4.4 0M722.3 1305.8L723.2 1303.5L724.4 1305.7L723.4 1308ZM750.3 1301.8L753.7 1301.1L755.5 1304.6L751.6 1305ZM778.4 1293.3L783.2 1294.4L784.5 1299.9L779.1 1298.2ZM806.8 1281.7L811.4 1283.6L811.7 1289.3L806.7 1286.6ZM836.8 1274.9L841.2 1277L841.3 1282.7L836.4 1279.8ZM867.3 1270.4L871.7 1272.6L871.7 1278.3L866.9 1275.3ZM100.2 1236.5L103.9 1239.8L102.2 1245.3L98.4 1241.1ZM130.2 1239.7L134.1 1242.8L132.9 1248.3L128.7 1244.4ZM160.5 1244.1L164.6 1246.8L163.8 1252.4L159.4 1248.9ZM191.2 1250.4L195.6 1252.6L195.5 1258.3L190.7 1255.3ZM222.5 1258.7L227.2 1260.1L228.2 1265.7L222.9 1263.6ZM254.8 1266.2L259.8 1266.5L261.9 1271.8L256.3 1270.9ZM288 1270L292.9 1269.7L295.7 1274.6L290.1 1274.5ZM320.9 1270.6L325.8 1270.2L328.7 1275.1L323 1275.1ZM352.8 1269.6L357.7 1269.3L360.5 1274.3L354.8 1274.1ZM383.4 1268.4L388.3 1268.2L391 1273.2L385.4 1272.9ZM413.4 1268.1L418.3 1267.7L421.2 1272.6L415.5 1272.6ZM443 1268.9L447.9 1268L451.2 1272.7L445.5 1273.1ZM472.6 1269.4L477.4 1268.3L481 1272.7L475.3 1273.5ZM502.5 1268L507.3 1266.9L510.8 1271.4L505.2 1272.1ZM533.5 1264.8L538.3 1264.1L541.5 1268.8L535.9 1269.1ZM568.2 1262.1L573.1 1261.9L575.8 1266.9L570.1 1266.6ZM608.6 1263.5L613.5 1264L615.6 1269.3L610 1268.3ZM646.2 1265.7L651.1 1266.5L652.7 1272L647.2 1270.5ZM679.3 1267.7L684.2 1268.3L686.1 1273.7L680.5 1272.5ZM711.4 1270L716.3 1270L718.8 1275.2L713.1 1274.6ZM741.6 1269.6L746.5 1269.4L749.2 1274.4L743.5 1274.1ZM773.1 1265.1L778 1265.6L779.9 1271L774.3 1269.9ZM804.6 1255.9L809.3 1257.4L810 1263.1L804.8 1260.8ZM836.2 1248.9L840.7 1250.9L840.8 1256.6L835.9 1253.8ZM867.7 1244.5L872.1 1246.7L872.1 1252.4L867.2 1249.4ZM100.6 1210.3L104.2 1213.6L102.5 1219.1L98.7 1214.8ZM130.4 1213.4L134.2 1216.5L133 1222.1L128.9 1218.1ZM160.5 1217.7L164.6 1220.4L163.8 1226L159.4 1222.5ZM191 1224.2L195.4 1226.4L195.3 1232.1L190.5 1229.1ZM221.9 1233.8L226.7 1235L227.9 1240.5L222.5 1238.7ZM254.1 1242.6L259 1242.3L261.7 1247.3L256 1247.1ZM287.7 1245.6L292.6 1244.9L295.8 1249.5L290.1 1249.9ZM320.4 1245.3L325.3 1244.7L328.4 1249.4L322.7 1249.7ZM351.9 1243.3L356.8 1243L359.6 1247.9L353.9 1247.8ZM382.6 1241.5L387.6 1241.3L390.2 1246.4L384.5 1246ZM412.8 1240.8L417.7 1240.5L420.5 1245.5L414.8 1245.3ZM442.6 1241.2L447.4 1240.6L450.5 1245.4L444.8 1245.6ZM472.4 1241.4L477.3 1240.6L480.6 1245.2L474.9 1245.7ZM502.9 1240L507.8 1239.2L511 1243.9L505.3 1244.3ZM534.6 1237.1L539.5 1236.7L542.4 1241.6L536.7 1241.6ZM568.5 1234.5L573.4 1234.6L575.8 1239.7L570.2 1239.1ZM604.9 1234.1L609.8 1234.6L611.8 1239.9L606.2 1238.9ZM640.6 1235L645.5 1235.8L647.2 1241.2L641.7 1239.8ZM674.4 1236.5L679.3 1237.2L681 1242.6L675.5 1241.3ZM707.1 1237.7L712 1238.3L713.9 1243.7L708.3 1242.5ZM739.4 1237.4L744.3 1238L746.1 1243.4L740.6 1242.2ZM772.2 1234.4L777 1235.5L778.3 1241.1L772.9 1239.3ZM804.9 1228.9L809.5 1230.6L810.1 1236.3L804.9 1233.8ZM837.1 1223.5L841.6 1225.6L841.7 1231.3L836.7 1228.4ZM868.8 1219.3L873.2 1221.5L873 1227.2L868.2 1224.2ZM100.7 1183.6L104.3 1187L102.6 1192.4L98.8 1188.1ZM130.2 1186.2L134.1 1189.3L132.8 1194.8L128.7 1190.9ZM159.7 1190.2L163.8 1193L163.1 1198.6L158.7 1195ZM189.5 1197L193.9 1199.1L194 1204.8L189.1 1201.9ZM219.7 1206.2L224.6 1207.3L225.9 1212.8L220.4 1211.1ZM251.2 1214.3L256.2 1214.1L258.8 1219.2L253.1 1218.8ZM284 1217.5L288.9 1216.8L292.1 1221.5L286.4 1221.8ZM316.9 1216.1L321.8 1215.7L324.7 1220.6L319 1220.6ZM349.3 1213.9L354.2 1213.9L356.7 1219L351 1218.5ZM380.8 1212.4L385.7 1212.6L388.1 1217.8L382.4 1217.1ZM411.7 1211.9L416.6 1211.9L419 1217.1L413.4 1216.5ZM442.1 1212.7L447 1212.4L449.7 1217.4L444 1217.2ZM472.6 1213.3L477.5 1212.8L480.5 1217.7L474.8 1217.7ZM504.2 1212.6L509.1 1212.2L512.1 1217L506.4 1217.1ZM537 1211.2L541.9 1211L544.6 1216L538.9 1215.7ZM570.6 1209.5L575.5 1209.6L577.9 1214.8L572.2 1214.1ZM605.6 1209L610.5 1209.4L612.6 1214.7L607 1213.7ZM640.2 1208.7L645.1 1209.4L646.8 1214.8L641.3 1213.5ZM674.3 1208.9L679.2 1209.8L680.7 1215.3L675.2 1213.8ZM707.2 1207.8L712 1208.9L713.2 1214.5L707.8 1212.7ZM740.1 1206.5L744.9 1207.8L745.9 1213.4L740.5 1211.4ZM773.6 1203.9L778.2 1205.6L778.7 1211.3L773.6 1208.8ZM806.2 1200.8L810.7 1202.8L810.9 1208.5L805.9 1205.7ZM838.5 1197.4L842.9 1199.6L842.8 1205.3L838 1202.3ZM870 1193.9L874.4 1196.2L874.1 1201.9L869.4 1198.7ZM100.8 1157L104.3 1160.4L102.6 1165.8L98.9 1161.5ZM129.8 1158.8L133.7 1161.9L132.4 1167.5L128.3 1163.5ZM158.6 1162L162.7 1164.7L162 1170.3L157.6 1166.8ZM187.4 1168.1L191.8 1170.2L192 1175.9L187 1173ZM216.8 1176.8L221.6 1177.8L222.9 1183.4L217.5 1181.6ZM247.3 1184.2L252.3 1184.3L254.7 1189.4L249 1188.8ZM279.5 1187.3L284.4 1186.9L287.3 1191.8L281.6 1191.8ZM312.8 1184.6L317.8 1184.6L320.2 1189.8L314.5 1189.2ZM346.2 1183.2L351.1 1183.5L353.2 1188.8L347.6 1187.9ZM378.6 1182.7L383.5 1183.1L385.5 1188.4L379.9 1187.4ZM410.2 1182.8L415.1 1183.2L417.2 1188.4L411.6 1187.6ZM441.4 1183.7L446.3 1183.8L448.7 1189L443 1188.3ZM472.8 1184.5L477.7 1184.4L480.3 1189.5L474.6 1189.1ZM505 1184.6L509.9 1184.5L512.5 1189.5L506.8 1189.2ZM538 1184L542.9 1184L545.4 1189.2L539.8 1188.7ZM571.7 1183.1L576.6 1183.4L578.9 1188.6L573.2 1187.8ZM606 1182.4L610.9 1182.9L612.8 1188.3L607.2 1187.1ZM640.2 1181.6L645 1182.4L646.6 1187.9L641.1 1186.4ZM674 1180.6L678.8 1181.8L680 1187.3L674.6 1185.5ZM707.3 1179L712 1180.4L712.9 1186.1L707.6 1183.9ZM740.6 1177.1L745.2 1178.8L745.7 1184.5L740.6 1182ZM773.9 1175L778.4 1177L778.6 1182.7L773.6 1179.9ZM806.7 1172.8L811.1 1175L811 1180.7L806.2 1177.7ZM839 1170.4L843.3 1172.8L843.1 1178.5L838.3 1175.3ZM870.7 1167.9L875 1170.3L874.6 1176L870 1172.8ZM100.8 1131.2L104.4 1134.6L102.6 1140L98.9 1135.7ZM129.4 1132.4L133.3 1135.4L132 1141L127.9 1137.1ZM157.6 1134.1L161.7 1136.8L161 1142.4L156.5 1138.9ZM185.4 1139.2L189.9 1141.2L190 1146.9L185 1144.1ZM214.4 1147.2L219.1 1148.4L220.3 1154L215 1152.1ZM244.3 1153.5L249.2 1153.8L251.3 1159.1L245.7 1158.2ZM276.6 1155.5L281.5 1155.6L283.9 1160.8L278.2 1160.2ZM310.5 1153.9L315.4 1154.4L317.4 1159.7L311.8 1158.7ZM344 1153.1L348.9 1153.7L350.7 1159.1L345.2 1157.9ZM376.7 1153.3L381.6 1153.9L383.4 1159.3L377.8 1158ZM408.7 1153.9L413.6 1154.4L415.6 1159.8L410 1158.7ZM440.5 1154.8L445.5 1155.2L447.5 1160.5L441.9 1159.5ZM472.6 1155.6L477.5 1155.8L479.7 1161.1L474.1 1160.3ZM505.1 1156.1L510 1156.3L512.3 1161.5L506.6 1160.7ZM538.2 1155.9L543.1 1156.2L545.3 1161.5L539.6 1160.6ZM571.7 1155.4L576.6 1155.8L578.6 1161.2L573 1160.1ZM605.6 1154.5L610.5 1155.2L612.2 1160.7L606.7 1159.3ZM639.5 1153.4L644.3 1154.4L645.7 1160L640.3 1158.3ZM673.2 1152.1L678 1153.4L679 1159L673.7 1157ZM706.7 1150.5L711.4 1152L712.1 1157.7L706.9 1155.4ZM740.2 1148.7L744.7 1150.6L745.1 1156.2L740 1153.6ZM773.4 1146.9L777.9 1149L777.9 1154.7L773 1151.8ZM806.3 1145.2L810.7 1147.5L810.5 1153.2L805.8 1150.1ZM838.8 1143.5L843.1 1145.9L842.8 1151.6L838.1 1148.4ZM870.7 1141.7L875 1144.2L874.6 1149.8L870 1146.6ZM100.7 1106.4L104.3 1109.7L102.6 1115.2L98.8 1110.9ZM129.2 1107.5L133.1 1110.6L131.9 1116.1L127.7 1112.3ZM156.4 1109L160.7 1111.5L160.1 1117.2L155.6 1113.8ZM184 1113L188.6 1114.9L188.9 1120.6L183.8 1117.9ZM213 1119L217.8 1120.2L218.9 1125.7L213.6 1123.8ZM243.5 1123.8L248.4 1124.5L250.2 1129.9L244.7 1128.6ZM276 1125.5L280.9 1126L282.9 1131.3L277.3 1130.3ZM309.8 1124.8L314.7 1125.5L316.4 1130.9L310.9 1129.6ZM343.1 1124.3L348 1125.1L349.6 1130.6L344.1 1129.1ZM375.6 1124.6L380.4 1125.4L382 1130.8L376.5 1129.4ZM407.6 1125.4L412.5 1126.1L414.2 1131.5L408.7 1130.2ZM439.8 1126.3L444.6 1126.9L446.5 1132.2L441 1131.1ZM472.1 1127.1L477 1127.6L479 1132.9L473.4 1131.9ZM504.8 1127.6L509.7 1128L511.7 1133.4L506.1 1132.3ZM537.8 1127.6L542.7 1128.1L544.6 1133.5L539.1 1132.4ZM571.3 1127.1L576.1 1127.8L577.9 1133.2L572.4 1131.9ZM604.9 1126.2L609.7 1127.1L611.2 1132.6L605.8 1131.1ZM638.5 1125L643.3 1126.2L644.5 1131.7L639.1 1129.9ZM672.1 1123.6L676.8 1125L677.7 1130.6L672.4 1128.5ZM705.7 1122.2L710.3 1123.9L710.9 1129.5L705.7 1127.1ZM739.2 1120.8L743.7 1122.7L744 1128.4L739 1125.7ZM772.5 1119.4L776.9 1121.5L777 1127.2L772.1 1124.3ZM805.5 1118.1L809.9 1120.3L809.7 1126L804.9 1123ZM838.1 1117L842.4 1119.3L842.2 1125L837.4 1121.8ZM870.3 1115.8L874.6 1118.2L874.3 1123.8L869.6 1120.7ZM100.1 1082L103.8 1085.3L102.2 1090.8L98.3 1086.6ZM128.6 1083.8L132.6 1086.7L131.6 1092.3L127.3 1088.5ZM155.2 1084.9L159.5 1087.2L159.2 1092.9L154.5 1089.8ZM183.1 1088.3L187.7 1090L188.1 1095.7L183 1093.2ZM212.6 1092.6L217.4 1093.8L218.5 1099.4L213.1 1097.5ZM243.8 1096.3L248.7 1097.1L250.3 1102.5L244.8 1101.1ZM276.5 1097.3L281.4 1098L283.1 1103.5L277.5 1102.1ZM310.3 1096.6L315.1 1097.5L316.6 1103L311.1 1101.4ZM343 1096.2L347.8 1097.2L349.2 1102.7L343.7 1101.1ZM375 1096.6L379.9 1097.5L381.3 1103L375.9 1101.5ZM406.9 1097.5L411.8 1098.3L413.4 1103.7L407.9 1102.3ZM439.2 1098.4L444.1 1099.1L445.8 1104.5L440.3 1103.2ZM471.7 1099.1L476.6 1099.8L478.4 1105.2L472.8 1103.9ZM504.4 1099.5L509.3 1100.1L511.1 1105.5L505.6 1104.3ZM537.4 1099.5L542.3 1100.1L544 1105.6L538.5 1104.3ZM570.7 1099L575.6 1099.8L577.1 1105.3L571.6 1103.8ZM604.1 1098.1L609 1099.1L610.3 1104.6L604.9 1102.9ZM637.5 1096.9L642.3 1098.1L643.4 1103.7L638.1 1101.8ZM670.9 1095.6L675.6 1097L676.5 1102.6L671.2 1100.5ZM704.4 1094.5L709.1 1096.2L709.7 1101.8L704.5 1099.4ZM737.9 1093.5L742.5 1095.4L742.9 1101L737.8 1098.4ZM771.2 1092.5L775.7 1094.5L775.9 1100.2L770.9 1097.4ZM804.3 1091.6L808.8 1093.7L808.8 1099.4L803.9 1096.5ZM837.1 1090.9L841.5 1093.2L841.4 1098.8L836.6 1095.8ZM869.6 1090.2L874 1092.5L873.8 1098.2L869 1095.1ZM98.4 1057.2L102.2 1060.3L100.9 1065.8L96.8 1061.8ZM126.5 1059.1L130.6 1061.8L129.9 1067.4L125.5 1063.9ZM153.9 1061.3L158.4 1063.4L158.4 1069.1L153.5 1066.2ZM182.4 1064.7L187.1 1066.2L187.8 1071.9L182.6 1069.6ZM212.6 1068.1L217.4 1069.2L218.7 1074.7L213.3 1072.9ZM244.5 1070L249.3 1070.9L250.8 1076.4L245.4 1074.8ZM277.4 1070L282.3 1070.9L283.7 1076.4L278.3 1074.8ZM310.5 1068.9L315.3 1070L316.6 1075.6L311.2 1073.8ZM342.9 1068.6L347.7 1069.7L349 1075.3L343.6 1073.5ZM374.8 1069.2L379.7 1070.2L381 1075.8L375.6 1074.1ZM406.8 1070.2L411.6 1071.1L413.1 1076.6L407.7 1075ZM439.1 1071L443.9 1071.9L445.5 1077.3L440 1075.9ZM471.6 1071.6L476.4 1072.4L478.1 1077.8L472.6 1076.4ZM504.3 1071.8L509.2 1072.6L510.8 1078L505.3 1076.6ZM537.2 1071.7L542.1 1072.5L543.6 1078L538.1 1076.5ZM570.4 1071.2L575.2 1072.1L576.6 1077.7L571.2 1076ZM603.6 1070.4L608.4 1071.5L609.6 1077L604.2 1075.3ZM636.8 1069.4L641.6 1070.7L642.6 1076.2L637.3 1074.3ZM670 1068.4L674.7 1069.8L675.6 1075.4L670.3 1073.3ZM703.4 1067.6L708 1069.2L708.7 1074.8L703.5 1072.5ZM736.7 1066.9L741.3 1068.7L741.8 1074.3L736.7 1071.8ZM769.9 1066.3L774.4 1068.2L774.8 1073.9L769.7 1071.3ZM803 1065.9L807.5 1067.9L807.7 1073.5L802.7 1070.8ZM836 1065.5L840.5 1067.6L840.6 1073.3L835.6 1070.4ZM868.7 1065.1L873.2 1067.2L873.2 1072.9L868.3 1070ZM96.6 1032.2L100.6 1035.2L99.5 1040.8L95.3 1037ZM124.6 1034.6L128.9 1037L128.5 1042.7L123.9 1039.4ZM152.8 1037.7L157.4 1039.6L157.7 1045.2L152.7 1042.6ZM181.8 1041.5L186.5 1042.8L187.6 1048.4L182.3 1046.4ZM212.5 1044.2L217.4 1045.1L218.9 1050.6L213.4 1049ZM244.9 1044.6L249.7 1045.5L251.3 1050.9L245.8 1049.4ZM278 1043.3L282.8 1044.3L284.1 1049.9L278.7 1048.2ZM310.5 1041.5L315.3 1042.7L316.5 1048.3L311.1 1046.4ZM342.7 1041.4L347.4 1042.6L348.6 1048.1L343.2 1046.3ZM374.7 1042.3L379.5 1043.4L380.8 1048.9L375.4 1047.2ZM406.8 1043.5L411.6 1044.4L413.1 1049.9L407.6 1048.3ZM439.1 1044.2L443.9 1045.1L445.5 1050.6L440 1049ZM471.6 1044.5L476.5 1045.4L478 1050.9L472.5 1049.4ZM504.4 1044.6L509.2 1045.5L510.7 1051L505.2 1049.4ZM537.2 1044.3L542.1 1045.3L543.5 1050.8L538 1049.2ZM570.2 1043.8L575 1044.9L576.3 1050.4L570.9 1048.7ZM603.2 1043.2L608 1044.4L609.2 1049.9L603.8 1048.1ZM636.3 1042.4L641 1043.7L642 1049.3L636.7 1047.3ZM669.4 1041.7L674.1 1043.1L674.9 1048.7L669.7 1046.6ZM702.5 1041.2L707.1 1042.7L707.9 1048.4L702.7 1046.1ZM735.5 1040.8L740.2 1042.5L740.8 1048.1L735.6 1045.8ZM768.6 1040.7L773.2 1042.4L773.7 1048.1L768.6 1045.6ZM801.7 1040.6L806.3 1042.4L806.7 1048L801.6 1045.5ZM834.8 1040.5L839.4 1042.4L839.7 1048L834.7 1045.4ZM867.9 1040.2L872.4 1042.2L872.6 1047.8L867.6 1045.1ZM95.7 1007.5L99.8 1010.3L98.9 1015.9L94.5 1012.3ZM124.1 1010.3L128.5 1012.6L128.3 1018.3L123.5 1015.2ZM152.6 1014.2L157.2 1015.9L157.8 1021.5L152.7 1019.1ZM181.5 1017.9L186.3 1018.9L187.7 1024.5L182.2 1022.7ZM212.6 1019.4L217.4 1020.2L219.1 1025.7L213.6 1024.3ZM244.9 1019.1L249.7 1019.9L251.3 1025.4L245.8 1024ZM277.5 1017L282.3 1018L283.7 1023.5L278.3 1021.9ZM309.8 1014.8L314.6 1016L315.8 1021.6L310.4 1019.7ZM342.2 1014.8L347 1016L348.1 1021.6L342.8 1019.7ZM374.5 1015.9L379.3 1017L380.6 1022.6L375.1 1020.8ZM406.8 1017.2L411.6 1018.1L413 1023.7L407.6 1022ZM439.2 1017.7L444 1018.6L445.4 1024.1L440 1022.5ZM471.7 1017.8L476.5 1018.7L478 1024.2L472.5 1022.7ZM504.4 1017.7L509.3 1018.7L510.7 1024.2L505.2 1022.5ZM537.3 1017.4L542.1 1018.4L543.4 1024L538 1022.2ZM570.1 1017L574.9 1018.1L576.1 1023.6L570.7 1021.8ZM603 1016.4L607.7 1017.6L608.9 1023.2L603.5 1021.3ZM635.9 1015.9L640.6 1017.2L641.6 1022.8L636.3 1020.8ZM668.8 1015.4L673.5 1016.8L674.4 1022.4L669.2 1020.3ZM701.7 1015.1L706.4 1016.6L707.2 1022.2L702 1020ZM734.6 1015.1L739.3 1016.6L740.1 1022.2L734.8 1020ZM767.5 1015.2L772.2 1016.7L772.9 1022.4L767.7 1020.1ZM800.5 1015.3L805.1 1016.9L805.8 1022.6L800.6 1020.2ZM833.8 1015.4L838.4 1017.1L839 1022.8L833.8 1020.3ZM867 1015.2L871.6 1017.1L872 1022.7L866.9 1020.2ZM95.3 982.7L99.4 985.4L98.7 991L94.2 987.5ZM124.2 985.5L128.6 987.7L128.5 993.4L123.7 990.4ZM153 989.1L157.6 990.7L158.2 996.4L153.1 994ZM182.3 992.1L187.1 993.2L188.4 998.7L183 996.9ZM213.1 993.3L217.9 994.2L219.5 999.6L214 998.2ZM244.9 992.8L249.8 993.7L251.4 999.1L245.9 997.7ZM277.2 991.1L282 992.1L283.4 997.6L278 995.9ZM309.5 989.5L314.3 990.6L315.5 996.1L310.1 994.3ZM341.8 989.2L346.6 990.3L347.9 995.8L342.5 994ZM374.2 989.8L379.1 990.9L380.3 996.5L374.9 994.7ZM406.7 990.7L411.5 991.7L412.9 997.2L407.4 995.6ZM439.1 991.2L444 992.1L445.4 997.7L439.9 996ZM471.7 991.2L476.5 992.2L477.9 997.7L472.5 996.1ZM504.4 991.1L509.2 992.1L510.6 997.7L505.1 996ZM537.2 990.8L542 991.9L543.2 997.4L537.8 995.7ZM569.9 990.5L574.7 991.6L575.9 997.2L570.5 995.3ZM602.7 990.1L607.5 991.3L608.6 996.9L603.2 995ZM635.5 989.7L640.2 991L641.3 996.6L636 994.6ZM668.3 989.4L673.1 990.8L674 996.4L668.7 994.3ZM701.1 989.3L705.8 990.7L706.8 996.3L701.5 994.2ZM733.9 989.4L738.6 990.9L739.5 996.5L734.2 994.3ZM766.8 989.6L771.5 991.1L772.3 996.7L767.1 994.5ZM799.8 989.9L804.5 991.4L805.2 997L800 994.8ZM833 990L837.6 991.6L838.3 997.2L833.1 994.9ZM866.1 989.8L870.8 991.5L871.3 997.1L866.2 994.7Z" fill="#000"/></g>
<g clip-path="url(#clipB)" fill="none" stroke="#000" stroke-width="5" stroke-linejoin="round">
<path d="M246.7 1200C249 1189.9 249.8 1180.2 253.7 1174.3C257.6 1168.5 261.5 1165.4 270 1165C278.6 1164.6 293.3 1168.9 305 1172C316.7 1175.1 330.3 1179 340 1183.7C349.7 1188.3 357.1 1193.4 363.4 1200C369.6 1206.6 373.1 1214.8 377.4 1223.4C381.6 1231.9 384.7 1242.8 389 1251.4C393.3 1259.9 397.6 1269.4 403 1274.7C408.5 1279.9 415.9 1282.9 421.7 1282.9C427.5 1282.9 433.4 1280.7 438 1274.7C442.7 1268.7 446.2 1255.2 449.7 1246.7C453.2 1238.1 456.3 1231.1 459 1223.4C461.8 1215.6 464.5 1208.6 466 1200C467.6 1191.5 467.2 1180.6 468.4 1172C469.5 1163.5 469.1 1156.1 473 1148.7C476.9 1141.3 484.1 1132 491.7 1127.7C499.2 1123.4 510 1121.8 518.3 1123C526.7 1124.2 533.9 1129.6 541.7 1134.7C549.4 1139.7 557.2 1148.3 565 1153.3C572.8 1158.4 580.6 1160 588.3 1165C596.1 1170.1 603.9 1177.1 611.7 1183.7C619.5 1190.3 627.2 1198.1 635 1204.7C642.8 1211.3 650.6 1218.3 658.3 1223.4C666.1 1228.4 673.9 1230.4 681.7 1235C689.5 1239.7 698.8 1245.5 705 1251.4C711.2 1257.2 715.9 1263 719 1270C722.1 1277 724.1 1285.6 723.7 1293.4C723.3 1301.1 719.8 1308.9 716.7 1316.7C713.6 1324.5 708.1 1332.3 705 1340C701.9 1347.8 698.8 1355.6 698 1363.4C697.2 1371.1 697.2 1380 700.4 1386.7C703.5 1393.4 712 1396.7 716.7 1403.3C721.4 1410 726 1418.9 728.4 1426.7C730.7 1434.4 731.5 1441.4 730.7 1450C729.9 1458.6 727.2 1470.2 723.7 1478C720.2 1485.8 715.5 1490.8 709.7 1496.7C703.9 1502.5 696.5 1509.3 688.7 1513C680.9 1516.7 672 1518.5 663 1518.8C654.1 1519.2 643.6 1517.3 635 1515.3C626.5 1513.4 619.5 1509.3 611.7 1507.2C603.9 1505 596.9 1503.9 588.3 1502.5C579.8 1501.1 570.1 1500.8 560.3 1499C550.6 1497.3 538.6 1495.5 530 1492C521.4 1488.5 515.4 1483.8 509 1478C502.6 1472.2 500.4 1463.2 491.7 1457C483 1450.8 468.4 1444.9 456.7 1440.7C445 1436.4 431.4 1435.6 421.7 1431.3C412 1427.1 408.1 1421.2 398.4 1415C388.6 1408.8 375 1400.7 363.4 1394C351.7 1387.3 338.9 1380.5 328.4 1375C317.9 1369.5 310.1 1366.1 300.4 1361C290.6 1356 279 1350.9 270 1344.7C261.1 1338.5 252.5 1331.1 246.7 1323.7C240.8 1316.3 237.3 1309.3 235 1300.4C232.7 1291.4 231.9 1280.9 232.7 1270C233.5 1259.1 237.3 1246.7 239.7 1235C242 1223.4 244.3 1210.1 246.7 1200Z"/>
</g>
<path d="M207.5 1107.4L187 1050L198.3 1045.9L167.6 1031.4L153.1 1062.1L164.4 1058L184.9 1115.4Z" fill="#000"/>
<rect x="143" y="1675.2" width="106" height="73.5" fill="rgba(255,255,255,0.8)"/>
<text x="196" y="1724.5" text-anchor="middle" style="font-family:'Liberation Serif','DejaVu Serif',serif;font-size:42px;fill:#111;stroke:#111;stroke-width:0.7px">(b)</text>
<path d="M722.5 1091.5L772.7 1319M749.3 1293.4L772.7 1319L784.3 1286.4" stroke="#000" stroke-width="5.5" fill="none" stroke-linejoin="miter"/>
<rect x="579" y="1025" width="284.7" height="66.5" fill="#fdfcfe" stroke="#3a2a2a" stroke-width="2"/>
<text class="s" x="721.3" y="1071.7" font-size="42px" text-anchor="middle" textLength="245" lengthAdjust="spacingAndGlyphs">Mesocyclone</text>
<rect x="110" y="1006.3" width="793.3" height="768" fill="none" stroke="#222" stroke-width="2.5"/>
<text class="t" x="110" y="1807.3" text-anchor="middle">10</text>
<text class="t" x="271.9" y="1807.3" text-anchor="middle">15</text>
<text class="t" x="433.8" y="1807.3" text-anchor="middle">20</text>
<text class="t" x="595.7" y="1807.3" text-anchor="middle">25</text>
<text class="t" x="757.6" y="1807.3" text-anchor="middle">30</text>
<text class="t" x="94" y="1782.3" text-anchor="end">10</text>
<text class="t" x="94" y="1652.1" text-anchor="end">15</text>
<text class="t" x="94" y="1522" text-anchor="end">20</text>
<text class="t" x="94" y="1391.8" text-anchor="end">25</text>
<text class="t" x="94" y="1261.6" text-anchor="end">30</text>
<text class="t" x="94" y="1131.5" text-anchor="end">35</text>
<path d="M110 1774.3v8M271.9 1774.3v8M433.8 1774.3v8M595.7 1774.3v8M757.6 1774.3v8M110 1774.3h-8M110 1644.1h-8M110 1514h-8M110 1383.8h-8M110 1253.6h-8M110 1123.5h-8" stroke="#444" stroke-width="2" fill="none"/>
<text class="l" x="506.6" y="1844.3" text-anchor="middle" textLength="345" lengthAdjust="spacingAndGlyphs">W-E distance to CDV [km]</text>
<text class="l" transform="translate(44 1390.3) rotate(-90)" text-anchor="middle" textLength="345" lengthAdjust="spacingAndGlyphs">S-N distance to CDV [km]</text>
<text class="l" x="290" y="992.3" textLength="431" lengthAdjust="spacingAndGlyphs">2018-01-07 00:42 UTC Z=2.5km</text>
<path d="M813 984.5h20" stroke="#000" stroke-width="2.2" fill="none"/><path d="M842 984.5l-9 -4.5v9z" fill="#000"/>
<text class="l" x="862" y="993.5">10<tspan font-style="italic">m·s</tspan><tspan dy="-11" font-size="18.5px">−1</tspan></text>
<rect x="951" y="1006.3" width="41.4" height="768" fill="url(#gnws)" stroke="#444" stroke-width="1.5"/>
<text class="t" x="1007.4" y="1782.3">0</text>
<text class="t" x="1007.4" y="1723.2">5</text>
<text class="t" x="1007.4" y="1664.1">10</text>
<text class="t" x="1007.4" y="1605.1">15</text>
<text class="t" x="1007.4" y="1546">20</text>
<text class="t" x="1007.4" y="1486.9">25</text>
<text class="t" x="1007.4" y="1427.8">30</text>
<text class="t" x="1007.4" y="1368.8">35</text>
<text class="t" x="1007.4" y="1309.7">40</text>
<text class="t" x="1007.4" y="1250.6">45</text>
<text class="t" x="1007.4" y="1191.5">50</text>
<text class="t" x="1007.4" y="1132.5">55</text>
<text class="t" x="1007.4" y="1073.4">60</text>
<path d="M992.4 1774.3h8M992.4 1715.2h8M992.4 1656.1h8M992.4 1597.1h8M992.4 1538h8M992.4 1478.9h8M992.4 1419.8h8M992.4 1360.8h8M992.4 1301.7h8M992.4 1242.6h8M992.4 1183.5h8M992.4 1124.5h8M992.4 1065.4h8" stroke="#444" stroke-width="2" fill="none"/>
<text class="t" transform="translate(1056 1390.3) rotate(-90)" text-anchor="middle">Reflectivity [dBZ]</text>
<g clip-path="url(#clipC)">
<g filter="url(#rdbu)">
<rect x="1174.3" y="949.5" width="921.5" height="895.7" fill="#818181"/>
<g filter="url(#b22)">
<path fill="#686868" d="M1150 1071.7C1150 1071.7 1231.7 1077.5 1255 1083.3C1278.3 1089.2 1282.2 1097 1290 1106.7C1297.8 1116.4 1303.6 1130.8 1301.7 1141.7C1299.7 1152.6 1288.1 1165.4 1278.3 1172C1268.6 1178.6 1264.7 1178.6 1243.3 1181.3C1221.9 1184.1 1150 1188.3 1150 1188.3L1150 1071.7Z"/>
</g>
<g filter="url(#b25)">
<path fill="#727272" d="M1150 920L1278.3 920C1278.3 920 1272.5 1032.8 1266.7 1060C1260.8 1087.2 1262.8 1079.5 1243.3 1083.3C1223.9 1087.2 1150 1083.3 1150 1083.3L1150 920Z"/>
<path fill="#8d8d8d" d="M1301.7 920L1476.7 920C1476.7 920 1480.6 1025 1476.7 1060C1472.8 1095 1465 1114.5 1453.4 1130C1441.7 1145.6 1422.2 1149.5 1406.7 1153.3C1391.1 1157.2 1373.6 1161.1 1360 1153.3C1346.4 1145.6 1332.8 1126.1 1325 1106.7C1317.2 1087.2 1317.2 1067.8 1313.3 1036.7C1309.5 1005.6 1301.7 920 1301.7 920Z"/>
<path fill="#878787" d="M1453.4 920L1736.7 920C1736.7 920 1721.1 1021.1 1713.3 1060C1705.6 1098.9 1705.6 1133.9 1690 1153.3C1674.4 1172.8 1640 1176.7 1620 1176.7C1600 1176.7 1593.9 1161.1 1570 1153.3C1546.1 1145.6 1496.1 1168.9 1476.7 1130C1457.2 1091.1 1453.4 920 1453.4 920Z"/>
</g>
<g filter="url(#b22)">
<path fill="#9a9a9a" d="M1325 1153.3C1337.5 1141.7 1369.7 1141.7 1383.3 1153.3C1397 1165 1400.8 1200 1406.7 1223.4C1412.5 1246.7 1410.6 1273.9 1418.3 1293.4C1426.1 1312.8 1441.7 1324.5 1453.4 1340C1465 1355.6 1484.5 1374.2 1488.4 1386.7C1492.2 1399.2 1482.5 1402.5 1476.7 1415C1470.9 1427.5 1465 1455.8 1453.4 1461.7C1441.7 1467.5 1422.2 1459.7 1406.7 1450C1391.1 1440.3 1371.7 1421.7 1360 1403.3C1348.3 1385 1344.5 1358.4 1336.7 1340C1328.9 1321.7 1318 1312.8 1313.3 1293.4C1308.7 1273.9 1306.7 1246.7 1308.7 1223.4C1310.6 1200 1312.6 1165 1325 1153.3Z"/>
</g>
<g filter="url(#b18)">
<path fill="#adadad" d="M1332 1172C1341 1166.2 1360.8 1168.1 1369.3 1176.7C1377.9 1185.2 1380.2 1209.7 1383.3 1223.4C1386.5 1237 1384.9 1245.5 1388 1258.4C1391.1 1271.2 1396.6 1287.5 1402 1300.4C1407.5 1313.2 1419.9 1326.4 1420.7 1335.4C1421.5 1344.3 1414.8 1354 1406.7 1354C1398.5 1354 1383.3 1344.7 1371.7 1335.4C1360 1326 1345.6 1310.9 1336.7 1298C1327.7 1285.2 1321.5 1272.7 1318 1258.4C1314.5 1244 1313.3 1226.1 1315.7 1211.7C1318 1197.3 1323.1 1177.8 1332 1172Z"/>
</g>
<g filter="url(#b16)">
<path fill="#9d9d9d" d="M1383.3 1181.3C1387.2 1174.7 1410.6 1178.6 1418.3 1183.7C1426.1 1188.7 1430 1203.1 1430 1211.7C1430 1220.2 1424.2 1233.1 1418.3 1235C1412.5 1237 1400.8 1232.3 1395 1223.4C1389.2 1214.4 1379.5 1188 1383.3 1181.3Z"/>
</g>
<g filter="url(#b22)">
<path fill="#727272" d="M1488.4 1258.4C1496.1 1250.6 1521.4 1262.2 1535 1270C1548.6 1277.8 1564.2 1289.5 1570 1305C1575.9 1320.6 1573.9 1349.8 1570 1363.4C1566.1 1377 1556.4 1386.7 1546.7 1386.7C1537 1386.7 1521.4 1375 1511.7 1363.4C1502 1351.7 1492.2 1334.2 1488.4 1316.7C1484.5 1299.2 1480.6 1266.1 1488.4 1258.4Z"/>
</g>
<g filter="url(#b25)">
<path fill="#6f6f6f" d="M1725 920L2040 920C2040 920 2032.3 1036.7 2028.4 1083.3C2024.5 1130 2022.5 1165 2016.7 1200C2010.9 1235 2012.8 1277.8 1993.4 1293.4C1973.9 1308.9 1927.2 1301.1 1900 1293.4C1872.8 1285.6 1849.5 1266.1 1830 1246.7C1810.6 1227.2 1797 1203.9 1783.3 1176.7C1769.7 1149.5 1758.1 1126.1 1748.3 1083.3C1738.6 1040.6 1725 920 1725 920Z"/>
</g>
<g filter="url(#b22)">
<path fill="#909090" d="M1596.7 1188.3C1610.3 1176.7 1662.8 1172.8 1690 1176.7C1717.2 1180.6 1744.5 1198.1 1760 1211.7C1775.6 1225.3 1787.2 1244.7 1783.3 1258.4C1779.5 1272 1756.1 1289.5 1736.7 1293.4C1717.2 1297.2 1688.1 1289.5 1666.7 1281.7C1645.3 1273.9 1620 1262.2 1608.3 1246.7C1596.7 1231.1 1583.1 1200 1596.7 1188.3Z"/>
<path fill="#909090" d="M1596.7 1293.4C1610.8 1289.5 1668.6 1287.5 1690 1293.4C1711.4 1299.2 1725 1314.7 1725 1328.4C1725 1342 1707.5 1365.3 1690 1375C1672.5 1384.8 1636.1 1388.6 1620 1386.7C1603.9 1384.8 1595.9 1375 1593.4 1363.4C1590.9 1351.7 1604.5 1328.4 1605 1316.7C1605.6 1305 1582.5 1297.2 1596.7 1293.4Z"/>
</g>
<g filter="url(#b20)">
<path fill="#525252" d="M1830 1300.4C1847.5 1296.5 1876.7 1297.2 1900 1298C1923.4 1298.8 1952.5 1301.1 1970 1305C1987.5 1308.9 1999.2 1314.7 2005 1321.4C2010.9 1328 2010.9 1338.9 2005 1344.7C1999.2 1350.5 1987.5 1354.4 1970 1356.4C1952.5 1358.3 1921.4 1354.4 1900 1356.4C1878.6 1358.3 1857.2 1363 1841.7 1368C1826.1 1373.1 1818.3 1383.6 1806.7 1386.7C1795 1389.8 1781.4 1390.6 1771.7 1386.7C1762 1382.8 1750.3 1371.9 1748.3 1363.4C1746.4 1354.8 1752.2 1342.4 1760 1335.4C1767.8 1328.4 1783.3 1327.2 1795 1321.4C1806.7 1315.5 1812.5 1304.2 1830 1300.4Z"/>
</g>
<g filter="url(#b16)">
<path fill="#414141" d="M1755.3 1330.7C1765.1 1326.4 1783.7 1322.1 1795 1323.7C1806.3 1325.2 1818 1331.5 1823 1340C1828.1 1348.6 1828.1 1365.3 1825.4 1375C1822.6 1384.8 1813.7 1393.3 1806.7 1398.4C1799.7 1403.5 1791.5 1405.6 1783.3 1405.7C1775.2 1405.7 1765.5 1403.4 1757.7 1398.7C1749.9 1394 1740.2 1385.6 1736.7 1377.4C1733.2 1369.1 1733.6 1357.1 1736.7 1349.4C1739.8 1341.6 1745.6 1335 1755.3 1330.7Z"/>
<path fill="#9a9a9a" d="M2016.7 920L2226.7 920L2226.7 1071.7C2226.7 1071.7 2064.9 1074.8 2030.7 1067C1996.5 1059.2 2023.7 1049.5 2021.4 1025C2019 1000.5 2016.7 920 2016.7 920Z"/>
</g>
<g filter="url(#b22)">
<path fill="#a7a7a7" d="M1725 1450C1729.7 1438.3 1744.5 1433.7 1760 1426.7C1775.6 1419.7 1798.9 1413.4 1818.3 1408C1837.8 1402.6 1855.3 1396.3 1876.7 1394C1898.1 1391.7 1923.4 1391.7 1946.7 1394C1970 1396.3 1970 1402.6 2016.7 1408C2063.4 1413.4 2226.7 1426.7 2226.7 1426.7L2226.7 1473.3C2226.7 1473.3 2040 1485.8 1993.4 1492C1946.7 1498.2 1960.3 1502.9 1946.7 1510.7C1933.1 1518.5 1923.4 1529.3 1911.7 1538.7C1900 1548 1890.3 1560.1 1876.7 1566.7C1863.1 1573.3 1843.6 1579.1 1830 1578.3C1816.4 1577.6 1806.7 1569.8 1795 1562C1783.3 1554.2 1770.5 1542.6 1760 1531.7C1749.5 1520.8 1737.8 1510.3 1732 1496.7C1726.2 1483.1 1720.3 1461.7 1725 1450Z"/>
</g>
<g filter="url(#b18)">
<path fill="#bebebe" d="M1818.3 1438.3C1826.1 1429 1839.7 1424.3 1853.4 1422C1867 1419.7 1884.5 1423.6 1900 1424.3C1915.6 1425.1 1931.1 1425.1 1946.7 1426.7C1962.3 1428.2 1979.8 1430.6 1993.4 1433.7C2007 1436.8 2022.5 1438.7 2028.4 1445.3C2034.2 1452 2036.1 1467.1 2028.4 1473.3C2020.6 1479.6 1999.2 1479.6 1981.7 1482.7C1964.2 1485.8 1938.9 1487 1923.4 1492C1907.8 1497.1 1900 1504.5 1888.4 1513C1876.7 1521.6 1863.9 1536.7 1853.4 1543.3C1842.9 1550 1832.4 1556.6 1825.4 1552.7C1818.3 1548.8 1814.5 1532.5 1811.3 1520C1808.2 1507.6 1805.5 1491.6 1806.7 1478C1807.8 1464.4 1810.6 1447.7 1818.3 1438.3Z"/>
</g>
<g filter="url(#b16)">
<path fill="#cfcfcf" d="M1830 1450C1835.1 1441.4 1841.7 1436 1853.4 1433.7C1865 1431.3 1886.4 1434.1 1900 1436C1913.6 1437.9 1931.1 1438.3 1935 1445.3C1938.9 1452.3 1931.1 1469.5 1923.4 1478C1915.6 1486.6 1899.2 1489.7 1888.4 1496.7C1877.5 1503.7 1867 1516.1 1858 1520C1849.1 1523.9 1840.5 1525.8 1834.7 1520C1828.9 1514.2 1823.8 1496.7 1823 1485C1822.2 1473.3 1825 1458.6 1830 1450Z"/>
</g>
<g filter="url(#b13)">
<path fill="#e6e6e6" d="M1853.4 1450C1858.8 1445.7 1869.7 1446.1 1876.7 1447.7C1883.7 1449.2 1892.2 1453.9 1895.4 1459.3C1898.5 1464.8 1898.5 1474.5 1895.4 1480.3C1892.2 1486.2 1883.3 1492.4 1876.7 1494.3C1870.1 1496.3 1861.1 1495.5 1855.7 1492C1850.2 1488.5 1844.4 1480.3 1844 1473.3C1843.6 1466.3 1847.9 1454.3 1853.4 1450Z"/>
</g>
<g filter="url(#b20)">
<path fill="#6f6f6f" d="M2005 1492C2043.1 1484.2 2226.7 1485 2226.7 1485L2226.7 1578.3C2226.7 1578.3 2054.8 1579.1 2016.7 1571.3C1978.6 1563.6 2000 1544.9 1998 1531.7C1996.1 1518.5 1966.9 1499.8 2005 1492Z"/>
</g>
<g filter="url(#b25)">
<path fill="#727272" d="M1818.3 1671.7C1833.9 1648.4 1900 1650.3 1923.4 1660C1946.7 1669.7 1958.4 1706.7 1958.4 1730C1958.4 1753.4 1923.4 1800 1923.4 1800L1830 1800C1830 1800 1802.8 1695 1818.3 1671.7Z"/>
</g>
<g filter="url(#b22)">
<path fill="#939393" d="M1865 1578.3C1880.6 1568.6 1944.7 1560.8 1970 1566.7C1995.3 1572.5 2010.9 1595.9 2016.7 1613.4C2022.5 1630.9 2020.6 1663.9 2005 1671.7C1989.5 1679.5 1944.7 1667.8 1923.4 1660C1902 1652.2 1886.4 1638.6 1876.7 1625C1867 1611.4 1849.5 1588.1 1865 1578.3Z"/>
</g>
<g filter="url(#b20)">
<path fill="#939393" d="M1970 1753.4C2012.8 1710.6 2226.7 1730 2226.7 1730L2226.7 1986.7L1970 1986.7C1970 1986.7 1927.2 1796.1 1970 1753.4Z"/>
</g>
<g filter="url(#b22)">
<path fill="#939393" d="M1596.7 1403.3C1612.2 1389.7 1668.6 1407.2 1690 1415C1711.4 1422.8 1721.1 1434.4 1725 1450C1728.9 1465.6 1723.1 1496.7 1713.3 1508.3C1703.6 1520 1686.1 1522 1666.7 1520C1647.2 1518.1 1608.3 1516.1 1596.7 1496.7C1585 1477.2 1581.1 1416.9 1596.7 1403.3Z"/>
</g>
<g filter="url(#b25)">
<path fill="#6f6f6f" d="M1150 1356.7C1150 1356.7 1264.7 1356.7 1290 1368.3C1315.3 1380 1298.6 1407.2 1301.7 1426.7C1304.8 1446.1 1310.6 1469.5 1308.7 1485C1306.7 1500.6 1300.9 1512.2 1290 1520C1279.1 1527.8 1266.7 1529.7 1243.3 1531.7C1220 1533.6 1150 1531.7 1150 1531.7L1150 1356.7Z"/>
</g>
<g filter="url(#b22)">
<path fill="#979797" d="M1336.7 1356.7C1354.2 1346.9 1432 1348.9 1453.4 1356.7C1474.7 1364.4 1465 1387.8 1465 1403.3C1465 1418.9 1459.2 1434.4 1453.4 1450C1447.5 1465.6 1441.7 1487 1430 1496.7C1418.3 1506.4 1395 1514.2 1383.3 1508.3C1371.7 1502.5 1365.8 1477.2 1360 1461.7C1354.2 1446.1 1352.2 1432.5 1348.3 1415C1344.5 1397.5 1319.2 1366.4 1336.7 1356.7Z"/>
<path fill="#727272" d="M1476.7 1438.3C1486.4 1426.7 1523.4 1436.4 1535 1450C1546.7 1463.6 1546.7 1498.6 1546.7 1520C1546.7 1541.4 1542.8 1570.6 1535 1578.3C1527.2 1586.1 1509.7 1576.4 1500 1566.7C1490.3 1557 1480.6 1541.4 1476.7 1520C1472.8 1498.6 1467 1450 1476.7 1438.3Z"/>
<path fill="#939393" d="M1570 1473.3C1583.6 1461.7 1626.4 1453.9 1640 1473.3C1653.6 1492.8 1659.5 1568.6 1651.7 1590C1643.9 1611.4 1608.9 1609.5 1593.4 1601.7C1577.8 1593.9 1562.3 1564.7 1558.4 1543.3C1554.5 1522 1556.4 1485 1570 1473.3Z"/>
</g>
<g filter="url(#b25)">
<path fill="#8d8d8d" d="M1266.7 1590C1313.3 1570.6 1515.6 1570.6 1570 1590C1624.5 1609.5 1612.8 1683.4 1593.4 1706.7C1573.9 1730 1503.9 1730 1453.4 1730C1402.8 1730 1321.1 1730 1290 1706.7C1258.9 1683.4 1220 1609.5 1266.7 1590Z"/>
</g>
<g filter="url(#b20)">
<path fill="#9d9d9d" d="M1150 1718.4C1150 1718.4 1241.4 1717.6 1266.7 1725.4C1292 1733.1 1297.8 1721.5 1301.7 1765C1305.6 1808.6 1290 1986.7 1290 1986.7L1150 1986.7L1150 1718.4Z"/>
</g>
<g filter="url(#b22)">
<path fill="#727272" d="M1406.7 1753.4C1428.1 1714.5 1500 1714.5 1523.4 1753.4C1546.7 1792.3 1546.7 1986.7 1546.7 1986.7L1395 1986.7C1395 1986.7 1385.3 1792.3 1406.7 1753.4Z"/>
</g>
</g>
</g>
<g clip-path="url(#clipC)" fill="none" stroke="#2a2a2a" stroke-width="1.7" stroke-linejoin="round">
<path d="M1258.5 1022.7L1260.8 1044.8M1274.8 1076.3L1297 1104.3L1307.5 1125.3L1301.7 1141.7L1290 1158L1266.7 1174.3L1250.3 1172L1234.2 1169.7M1371.7 1021.5L1376.3 1043.7L1383.3 1069.3L1406.7 1092.7L1441.7 1125.3L1442.9 1153.3L1423 1172M1493 1230.4L1462.7 1209.4L1432.4 1230.4L1444 1253.7L1458 1267.7L1476.7 1267.7M1413.7 1221L1411.3 1237.4L1430 1270L1453.4 1286.4L1476.7 1293.4M1404.3 1183.7L1392.7 1211.7L1391.5 1235L1404.3 1263L1430 1291L1453.4 1305L1495.4 1298L1523.4 1284L1537.4 1256L1521 1214L1495.4 1188.3L1460.4 1181.3M1574.7 1309.7L1584 1328.4L1616.7 1344.7L1640 1354M1628.4 1305L1640 1302.7M1579.4 1400L1584 1386.7L1605 1382L1628.4 1386.7M1262 1300.4L1273.7 1328.4L1297 1354L1325 1377.4L1348.3 1400M1234.2 1239.7L1243.3 1253.7L1248 1267.7M1234.2 1335.4L1243.3 1354L1248 1363.4L1234.2 1368M1453.4 1298L1500 1321.4L1535 1335.4L1544.4 1363.4L1546.7 1400M1630.7 1230.4L1640 1223.4M1690 1022.7L1694.7 1048.3L1701.7 1071.7L1690 1102L1666.7 1130L1643.3 1158L1620 1195.4M1806.7 1022.7L1818.3 1036.7M1895.4 1022.7L1896.5 1037.8M1930.4 1022.7L1935 1037.8M1886 1109L1897.7 1153.3L1900 1200L1886 1230.4L1853.4 1235L1823 1228L1783.3 1200L1748.3 1183.7L1708.7 1181.3L1666.7 1190.7L1629.3 1228L1657.3 1249L1666.7 1263L1690 1277L1718 1293.4L1741.3 1312L1760 1335.4L1778.7 1363.4L1792.7 1386.7M1949 1120.7L1930.4 1148.7L1923.4 1188.3L1921 1223.4L1900 1249L1872 1258.4L1848.7 1253.7M1704 1232.7L1718 1218.7L1750.7 1211.7L1771.7 1214L1797.3 1225.7L1818.3 1242M1704 1232.7L1708.7 1251.4L1727.3 1270L1750.7 1291L1769.3 1316.7L1788 1344.7L1804.3 1372.7L1813.7 1400M1739 1256L1755.3 1242L1783.3 1244.4L1806.7 1253.7M1739 1256L1750.7 1270L1769.3 1288.7L1788 1316.7L1806.7 1349.4L1820.7 1382L1825.4 1400M1960.7 1022.7L1970 1060L1977 1095L1988.7 1130L2002.7 1165L2016.7 1200M1951.4 1235L1984 1223.4L2016.7 1263M1853.4 1277L1876.7 1279.4L1904.7 1272.4M1823 1309.7L1853.4 1302.7L1888.4 1300.4L1923.4 1288.7L1953.7 1274.7M1825.4 1309.7L1834.7 1328.4L1846.4 1351.7L1865 1361L1923.4 1358.7L1970 1356.4L1993.4 1340L2002.7 1316.7L1998 1300.4M1830 1375L1876.7 1384.4L1923.4 1382L1970 1377.4L2016.7 1365.7M1853.4 1400L1900 1396L1970 1394.9L2016.7 1391.4M1234.2 1423.2L1255 1426.7L1285.3 1443L1306.3 1466.3L1313.3 1496.7L1318 1520L1332 1536.3L1362.3 1546.8L1395 1536.3L1430 1532.8L1465 1543.3L1500 1571.3L1525.7 1598.2L1537.4 1573.7L1535 1520L1535 1473.3L1518.7 1454.7L1488.4 1452.3L1430 1455.8L1395 1438.3L1371.7 1410.3L1346 1387L1332 1380M1315.7 1650.7L1336.7 1627.4L1364.7 1599.4L1395 1593.5L1425.4 1606.4L1451 1627.4L1453.4 1660L1462.7 1692.7L1500 1683.4L1546.7 1674L1574.7 1669.4M1315.7 1650.7L1318 1674M1313.3 1753.4L1290 1785.1M1402 1785.1L1406.7 1753.4L1425.4 1718.4L1458 1713.7L1467.4 1730L1488.4 1744L1511.7 1760.4M1546.7 1776.7L1584 1785.1M1563 1723L1544.4 1730L1563 1739.4M1234.2 1618L1243.3 1632L1248 1639M1245.7 1664.7L1234.2 1671.7M1542 1380L1546.7 1403.3L1558.4 1431.3L1581.7 1445.3L1616.7 1450L1640 1447.7M1577 1387L1581.7 1403.3L1605 1422L1640 1426.7M1640 1387L1621.4 1389.3L1622.5 1419.7L1640 1419.7M1622.3 1394L1622.3 1415L1650.3 1422M1678.3 1387L1680.7 1408L1673.7 1431.3L1643.3 1438.3L1620 1436M1699.3 1387L1718 1410.3L1713.3 1433.7L1697 1450L1666.7 1452.3L1620 1450M1853.4 1403.3L1900 1396.3L1946.7 1391.7L2016.7 1389.3M1858 1426.7L1900 1415L1935 1410.3M1970 1412.7L2016.7 1415M1862.7 1492L1888.4 1487.3L1923.4 1494.3L1958.4 1489.7L1993.4 1480.3L2016.7 1478M1944.4 1541L1918.7 1531.7L1888.4 1548L1862.7 1578.3L1853.4 1601.7L1862.7 1632L1888.4 1660L1923.4 1683.4L1953.7 1702L1981.7 1699.7L2016.7 1695M1841.7 1785.1L1848.7 1758L1876.7 1737L1916.4 1718.4L1946.7 1721.9L1958.4 1737L1967.7 1746.4M1988.7 1774.4L1998 1785.1M1769.3 1531.7L1725 1531.7L1685.3 1541L1659.7 1566.7L1648 1599.4L1650.3 1613.4M1708.7 1734.7L1720.3 1746.4L1755.3 1751L1781 1732.4M1760 1566.7L1718 1566.7L1713.3 1573.7L1720.3 1580.7L1760 1580.7M1991 1513L2016.7 1515.3M1993.4 1527L2016.7 1529.3M1979.4 1555L2016.7 1559.7"/>
<path stroke-dasharray="6 3.5" d="M1322.7 1183.7L1364.7 1145.2L1376.3 1153.3L1371.7 1188.3L1369.3 1223.4L1383.3 1246.7L1406.7 1265.4M1283 1242L1278.3 1281.7L1290 1316.7L1313.3 1344.7L1341.3 1368L1371.7 1391.4L1397.3 1400M1346 1246.7L1325 1244.4L1311 1258.4L1306.3 1281.7L1313.3 1312L1332 1335.4L1355.3 1354L1383.3 1368L1418.3 1372.7L1434.7 1368L1439.4 1349.4M1341.3 1298L1339 1309.7L1360 1335.4L1383.3 1351.7L1402 1344.7L1409 1326L1397.3 1305M1374 1242L1406.7 1270L1441.7 1300.4L1465 1328.4L1483.7 1363.4L1493 1386.7M1823 1118.3L1804.3 1127.7L1788 1151L1797.3 1172L1830 1193L1853.4 1204.7L1862.7 1195.4L1865 1172M1701.7 1363.4L1666.7 1354L1643.3 1335.4L1631.7 1309.7L1655 1293.4L1690 1295.7L1725 1305L1748.3 1321.4L1764.7 1344.7L1778.7 1375L1788 1400M1687.7 1337.7L1706.3 1333L1727.3 1337.7L1713.3 1344.7L1690 1342.4M1979.4 1022.7L1988.7 1060L1998 1095M2005 1130L2016.7 1165M2014.4 1022.7L2016.7 1027.3M1364.7 1380L1395 1394L1430 1408L1462.7 1410.3L1481.4 1398.7L1493 1380M1640 1548L1623.7 1559.7L1593.4 1548L1577 1524.7L1574.7 1492L1593.4 1466.3L1621.4 1461.7M1612 1494.3L1616.7 1520L1630.7 1522.3L1637.7 1496.7L1626 1487.3L1612 1494.3M1620 1468.7L1655 1473.3L1690 1482.7L1713.3 1461.7L1732 1438.3L1736.7 1410.3L1732 1389.3M1620 1555L1655 1538.7L1685.3 1515.3M1783.3 1417.3L1757.7 1419.7L1736.7 1443L1729.7 1473.3L1736.7 1501.3L1760 1520L1795 1524.7M1837 1433.7L1844 1450L1841.7 1478L1825.4 1501.3L1802 1513M1753 1450L1748.3 1468.7L1760 1482.7L1783.3 1485L1797.3 1468.7M1918.7 1433.7L1904.7 1443L1914 1459.3L1946.7 1461.7L1974.7 1447.7M1902.4 1573.7L1921 1562L1958.4 1564.3L1993.4 1573.7L2016.7 1580.7M1946.7 1590L1921 1599.4L1951.4 1629.7L1984 1627.4M1900 1629.7L1923.4 1646L1958.4 1660L1993.4 1660L2016.7 1655.4M1634 1501.3L1636.3 1510.7L1629.3 1522.3L1620 1522.3"/>
</g>
<g clip-path="url(#clipC)" style="font-size:15.5px;stroke:none;fill:#222" text-anchor="middle">
<text style="stroke:none;fill:#222" transform="translate(1269 1062.3) rotate(-50)" y="5.5">0</text>
<text style="stroke:none;fill:#222" transform="translate(1425.4 1195.4) rotate(-55)" y="5.5">200</text>
<text style="stroke:none;fill:#222" transform="translate(1297 1211.7) rotate(-55)" y="5.5">−200</text>
<text style="stroke:none;fill:#222" transform="translate(1497.7 1258.4) rotate(-75)" y="5.5">400</text>
<text style="stroke:none;fill:#222" transform="translate(1371.7 1281.7) rotate(45)" y="5.5">−600</text>
<text style="stroke:none;fill:#222" transform="translate(1434.7 1321.4) rotate(70)" y="5.5">−400</text>
<text style="stroke:none;fill:#222" transform="translate(1258.5 1286.4) rotate(-50)" y="5.5">0</text>
<text style="stroke:none;fill:#222" transform="translate(1862.7 1141.7) rotate(70)" y="5.5">−200</text>
<text style="stroke:none;fill:#222" transform="translate(1830 1239.7) rotate(-70)" y="5.5">200</text>
<text style="stroke:none;fill:#222" transform="translate(1930.4 1256) rotate(-50)" y="5.5">400</text>
<text style="stroke:none;fill:#222" transform="translate(1986.4 1277) rotate(45)" y="5.5">600</text>
<text style="stroke:none;fill:#222" transform="translate(1692.3 1372.7) rotate(-60)" y="5.5">0</text>
<text style="stroke:none;fill:#222" transform="translate(2016.7 1076.3) rotate(80)" y="5.5">−400</text>
<text style="stroke:none;fill:#222" transform="translate(2002.7 1111.3) rotate(80)" y="5.5">−600</text>
<text style="stroke:none;fill:#222" transform="translate(2005 1151) rotate(75)" y="5.5">−200</text>
<text style="stroke:none;fill:#222" transform="translate(1593.4 1668.2) rotate(80)" y="5.5">0</text>
<text style="stroke:none;fill:#222" transform="translate(1528 1772) rotate(75)" y="5.5">0</text>
<text style="stroke:none;fill:#222" transform="translate(1588.7 1734.7) rotate(80)" y="5.5">200</text>
<text style="stroke:none;fill:#222" transform="translate(1252.7 1653) rotate(60)" y="5.5">0</text>
<text style="stroke:none;fill:#222" transform="translate(1255 1781.4) rotate(60)" y="5.5">0</text>
<text style="stroke:none;fill:#222" transform="translate(1671.3 1419.7) rotate(80)" y="5.5">400</text>
<text style="stroke:none;fill:#222" transform="translate(1699.3 1412.7) rotate(80)" y="5.5">200</text>
<text style="stroke:none;fill:#222" transform="translate(1951.4 1409.2) rotate(80)" y="5.5">0</text>
<text style="stroke:none;fill:#222" transform="translate(1802 1440.7) rotate(45)" y="5.5">−400</text>
<text style="stroke:none;fill:#222" transform="translate(1781 1431.3) rotate(45)" y="5.5">−600</text>
<text style="stroke:none;fill:#222" transform="translate(1953.7 1431.3) rotate(30)" y="5.5">−200</text>
<text style="stroke:none;fill:#222" transform="translate(1991 1597) rotate(45)" y="5.5">−400</text>
<text style="stroke:none;fill:#222" transform="translate(1879 1601.7) rotate(85)" y="5.5">200</text>
<text style="stroke:none;fill:#222" transform="translate(1984 1758) rotate(60)" y="5.5">0</text>
<text style="stroke:none;fill:#222" transform="translate(1790.3 1576) rotate(-60)" y="5.5">−200</text>
<text style="stroke:none;fill:#222" transform="translate(1977 1524.7) rotate(80)" y="5.5">200</text>
<text style="stroke:none;fill:#222" transform="translate(1963 1545.7) rotate(60)" y="5.5">0</text>
<text style="stroke:none;fill:#222" transform="translate(1760 1517.7) rotate(0)" y="5.5">−200</text>
</g>
<g clip-path="url(#clipC)" fill="none" stroke="#000" stroke-width="7" stroke-linejoin="round">
<path d="M1616.7 1130C1609.9 1133.9 1606.2 1140.9 1602.7 1148.7C1599.2 1156.5 1596.5 1168.1 1595.7 1176.7C1594.9 1185.2 1599.2 1192.2 1598 1200C1596.9 1207.8 1592.2 1215.6 1588.7 1223.4C1585.2 1231.1 1580.5 1238.9 1577 1246.7C1573.5 1254.5 1570.8 1263.4 1567.7 1270C1564.6 1276.6 1562.6 1283.2 1558.4 1286.4C1554.1 1289.5 1547.5 1290.2 1542 1288.7C1536.6 1287.1 1530.4 1283.2 1525.7 1277C1521 1270.8 1517.5 1259.5 1514 1251.4C1510.5 1243.2 1509 1235.8 1504.7 1228C1500.4 1220.2 1495 1211.3 1488.4 1204.7C1481.7 1198.1 1474.7 1193 1465 1188.3C1455.3 1183.7 1441.7 1179.8 1430 1176.7C1418.3 1173.6 1403.6 1169.7 1395 1169.7C1386.5 1169.7 1382.6 1171.6 1378.7 1176.7C1374.8 1181.7 1374 1190.3 1371.7 1200C1369.3 1209.7 1367 1223.4 1364.7 1235C1362.3 1246.7 1358.8 1259.1 1357.7 1270C1356.5 1280.9 1355.7 1290.6 1357.7 1300.4C1359.6 1310.1 1364.3 1320.2 1369.3 1328.4C1374.4 1336.5 1379.8 1343.1 1388 1349.4C1396.2 1355.6 1407.5 1360.3 1418.3 1365.7C1429.2 1371.1 1441.7 1377 1453.4 1382C1465 1387.1 1476.7 1391.3 1488.4 1396C1500 1400.8 1511.7 1404.1 1523.4 1410.3C1535 1416.6 1546.7 1427.1 1558.4 1433.7C1570 1440.3 1582.9 1444.2 1593.4 1450C1603.9 1455.8 1611.1 1461.3 1621.4 1468.7C1631.6 1476.1 1645.5 1488.1 1655 1494.3C1664.5 1500.6 1670.6 1503.3 1678.3 1506C1686.1 1508.7 1693.9 1509.5 1701.7 1510.7C1709.5 1511.8 1717.2 1511.8 1725 1513C1732.8 1514.2 1740.6 1516.1 1748.3 1517.7C1756.1 1519.2 1763.9 1521.2 1771.7 1522.3C1779.5 1523.5 1787.2 1524.7 1795 1524.7C1802.8 1524.7 1811 1524.3 1818.3 1522.3C1825.7 1520.4 1833.5 1517.3 1839.4 1513C1845.2 1508.7 1849.5 1503.3 1853.4 1496.7C1857.2 1490.1 1860.9 1481.1 1862.7 1473.3C1864.4 1465.6 1864.6 1457.8 1863.9 1450C1863.1 1442.2 1861.3 1434.4 1858 1426.7C1854.7 1418.9 1848.7 1410 1844 1403.3C1839.4 1396.7 1832.4 1393.4 1830 1386.7C1827.7 1380 1828.9 1371.1 1830 1363.4C1831.2 1355.6 1834.3 1347.8 1837 1340C1839.7 1332.3 1844 1324.5 1846.4 1316.7C1848.7 1308.9 1851.4 1301.1 1851 1293.4C1850.6 1285.6 1847.5 1277 1844 1270C1840.5 1263 1836.2 1257.2 1830 1251.4C1823.8 1245.5 1814.5 1240.1 1806.7 1235C1798.9 1230 1791.1 1226.5 1783.3 1221C1775.6 1215.6 1767.8 1208.6 1760 1202.4C1752.2 1196.1 1744.5 1189.5 1736.7 1183.7C1728.9 1177.8 1721.1 1172 1713.3 1167.3C1705.6 1162.7 1697.8 1160.7 1690 1155.7C1682.2 1150.6 1674.4 1142.1 1666.7 1137C1658.9 1132 1651.7 1126.5 1643.3 1125.3C1635 1124.2 1623.5 1126.1 1616.7 1130Z"/>
</g>
<path d="M1328.3 1107.5L1307.8 1048.2L1319.1 1044.3L1288.6 1029.5L1273.8 1060L1285.1 1056.1L1305.7 1115.3Z" fill="#000"/>
<rect x="1255" y="1676.4" width="105" height="73.5" fill="rgba(255,255,255,0.8)"/>
<text x="1307.5" y="1725.8" text-anchor="middle" style="font-family:'Liberation Serif','DejaVu Serif',serif;font-size:42px;fill:#111;stroke:#111;stroke-width:0.7px">(c)</text>
<path d="M1858 1108L1790.3 1354M1783.3 1321.4L1790.3 1354L1818.3 1328.4" stroke="#000" stroke-width="5.5" fill="none" stroke-linejoin="miter"/>
<rect x="1770.5" y="1037.8" width="176.2" height="66.5" fill="#fdfcfe" stroke="#3a2a2a" stroke-width="2"/>
<text class="s" x="1859.2" y="1085.7" font-size="42px" text-anchor="middle" textLength="79" lengthAdjust="spacingAndGlyphs">FFD</text>
<path d="M1713.3 1613.3L1855.7 1480.3M1823 1487.3L1855.7 1480.3L1844 1513" stroke="#000" stroke-width="5.5" fill="none" stroke-linejoin="miter"/>
<rect x="1612" y="1613.3" width="201.7" height="120.2" fill="#fdfcfe" stroke="#3a2a2a" stroke-width="2"/>
<text class="s" x="1711" y="1662.4" font-size="42px" text-anchor="middle" textLength="98" lengthAdjust="spacingAndGlyphs">Main</text>
<text class="s" x="1713.3" y="1710.2" font-size="42px" text-anchor="middle" textLength="147" lengthAdjust="spacingAndGlyphs">Updraft</text>
<rect x="1234.3" y="1009.5" width="801.5" height="775.7" fill="none" stroke="#666" stroke-width="3"/>
<text class="t" x="1234.3" y="1818.2" text-anchor="middle">10</text>
<text class="t" x="1397.9" y="1818.2" text-anchor="middle">15</text>
<text class="t" x="1561.4" y="1818.2" text-anchor="middle">20</text>
<text class="t" x="1725" y="1818.2" text-anchor="middle">25</text>
<text class="t" x="1888.6" y="1818.2" text-anchor="middle">30</text>
<text class="t" x="1218.3" y="1793.2" text-anchor="end">10</text>
<text class="t" x="1218.3" y="1661.7" text-anchor="end">15</text>
<text class="t" x="1218.3" y="1530.3" text-anchor="end">20</text>
<text class="t" x="1218.3" y="1398.8" text-anchor="end">25</text>
<text class="t" x="1218.3" y="1267.3" text-anchor="end">30</text>
<text class="t" x="1218.3" y="1135.8" text-anchor="end">35</text>
<path d="M1234.3 1785.2v8M1397.9 1785.2v8M1561.4 1785.2v8M1725 1785.2v8M1888.6 1785.2v8M1234.3 1785.2h-8M1234.3 1653.7h-8M1234.3 1522.3h-8M1234.3 1390.8h-8M1234.3 1259.3h-8M1234.3 1127.8h-8" stroke="#444" stroke-width="2" fill="none"/>
<text class="l" x="1635" y="1855.2" text-anchor="middle" textLength="345" lengthAdjust="spacingAndGlyphs">W-E distance to CDV [km]</text>
<text class="l" transform="translate(1168.3 1397.3) rotate(-90)" text-anchor="middle" textLength="345" lengthAdjust="spacingAndGlyphs">S-N distance to CDV [km]</text>
<text class="l" x="1418" y="995.5" textLength="431" lengthAdjust="spacingAndGlyphs">2018-01-07 00:42 UTC Z=2.5km</text>
<rect x="2083.6" y="1009.5" width="41" height="775.7" fill="url(#grdbu)" stroke="#444" stroke-width="1.5"/>
<text class="t" x="2139.6" y="1777.7">−24</text>
<text class="t" x="2139.6" y="1715.6">−20</text>
<text class="t" x="2139.6" y="1653.6">−16</text>
<text class="t" x="2139.6" y="1591.5">−12</text>
<text class="t" x="2139.6" y="1529.5">−8</text>
<text class="t" x="2139.6" y="1467.4">−4</text>
<text class="t" x="2139.6" y="1405.3">0</text>
<text class="t" x="2139.6" y="1343.3">4</text>
<text class="t" x="2139.6" y="1281.2">8</text>
<text class="t" x="2139.6" y="1219.2">12</text>
<text class="t" x="2139.6" y="1157.1">16</text>
<text class="t" x="2139.6" y="1095.1">20</text>
<text class="t" x="2139.6" y="1033">24</text>
<path d="M2124.6 1769.7h8M2124.6 1707.6h8M2124.6 1645.6h8M2124.6 1583.5h8M2124.6 1521.5h8M2124.6 1459.4h8M2124.6 1397.3h8M2124.6 1335.3h8M2124.6 1273.2h8M2124.6 1211.2h8M2124.6 1149.1h8M2124.6 1087.1h8M2124.6 1025h8" stroke="#444" stroke-width="2" fill="none"/>
<text class="t" transform="translate(2215 1397.3) rotate(-90)" text-anchor="middle">Vertical velocity [m·s⁻¹]</text>
</g>
</svg></body></html>
